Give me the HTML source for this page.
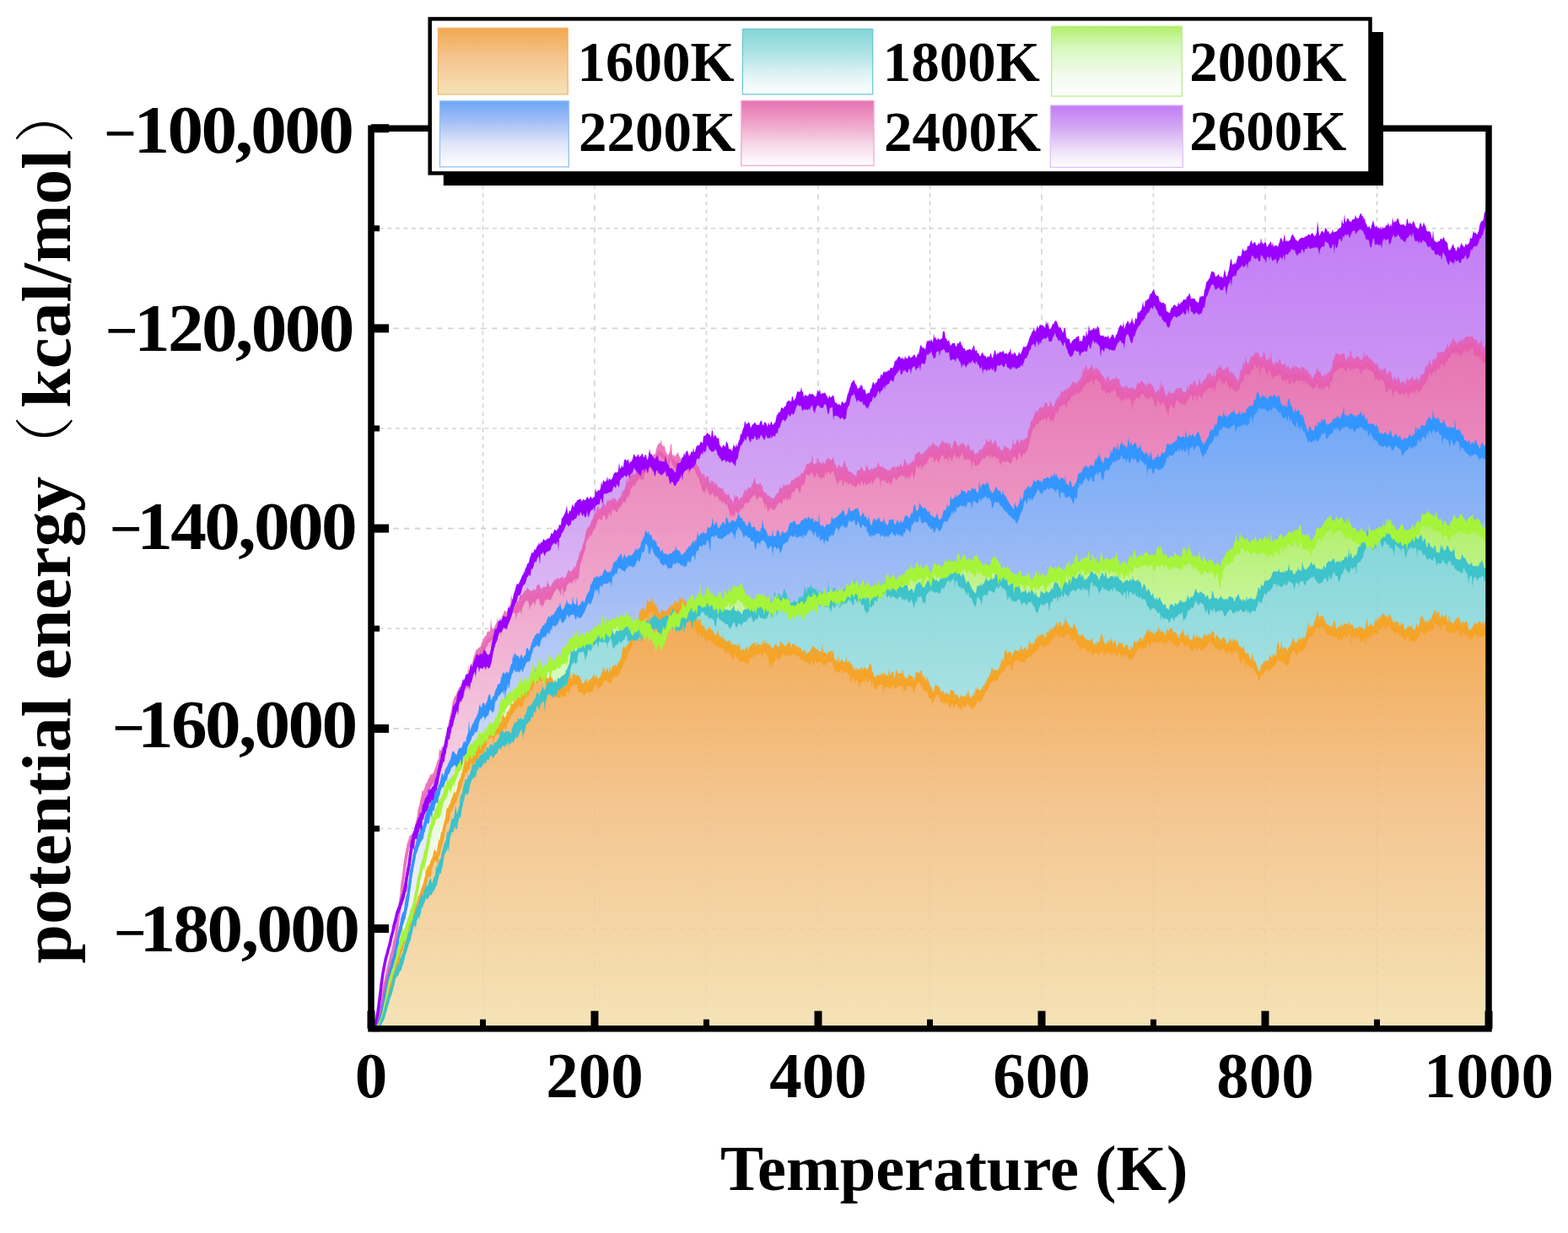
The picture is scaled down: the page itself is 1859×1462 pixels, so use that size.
<!DOCTYPE html><html><head><meta charset="utf-8"><style>html,body{margin:0;padding:0;background:#fff;}svg{display:block;}text{font-family:"Liberation Serif","Noto Serif CJK SC",serif;font-weight:bold;fill:#000;}</style></head><body><svg width="1859" height="1462" viewBox="0 0 1859 1462"><rect width="1859" height="1462" fill="#fff"/><defs><linearGradient id="g_purple" gradientUnits="userSpaceOnUse" x1="0" y1="257.0" x2="0" y2="1219.7"><stop offset="0.00" stop-color="#c27cf5"/><stop offset="0.35" stop-color="#d2a6f3"/><stop offset="0.75" stop-color="#f0e4f8"/><stop offset="1.00" stop-color="#ffffff"/></linearGradient><linearGradient id="g_pink" gradientUnits="userSpaceOnUse" x1="0" y1="405.0" x2="0" y2="1219.7"><stop offset="0.00" stop-color="#e673b3"/><stop offset="0.30" stop-color="#ee9cc6"/><stop offset="0.70" stop-color="#f6dcea"/><stop offset="1.00" stop-color="#ffffff"/></linearGradient><linearGradient id="g_blue" gradientUnits="userSpaceOnUse" x1="0" y1="477.0" x2="0" y2="1219.7"><stop offset="0.00" stop-color="#6ea6f6"/><stop offset="0.30" stop-color="#a2bdf5"/><stop offset="0.65" stop-color="#dfe6f8"/><stop offset="1.00" stop-color="#ffffff"/></linearGradient><linearGradient id="g_green" gradientUnits="userSpaceOnUse" x1="0" y1="613.0" x2="0" y2="1219.7"><stop offset="0.00" stop-color="#b2ef6a"/><stop offset="0.30" stop-color="#d6f9bd"/><stop offset="0.70" stop-color="#f3faee"/><stop offset="1.00" stop-color="#ffffff"/></linearGradient><linearGradient id="g_cyan" gradientUnits="userSpaceOnUse" x1="0" y1="634.0" x2="0" y2="1219.7"><stop offset="0.00" stop-color="#84d6d9"/><stop offset="0.30" stop-color="#a4e0e2"/><stop offset="0.70" stop-color="#dff3f4"/><stop offset="1.00" stop-color="#ffffff"/></linearGradient><linearGradient id="g_orange" gradientUnits="userSpaceOnUse" x1="0" y1="716.0" x2="0" y2="1219.7"><stop offset="0.00" stop-color="#f2a950"/><stop offset="0.45" stop-color="#f4c48e"/><stop offset="1.00" stop-color="#f5e3b7"/></linearGradient><clipPath id="plotclip"><rect x="440.0" y="152.2" width="1325.0" height="1067.5"/></clipPath></defs><g stroke="#d3d3d3" stroke-width="1.6" fill="none"><line x1="572.5" y1="152.2" x2="572.5" y2="1219.7" stroke-dasharray="5 4.6"/><line x1="705.0" y1="152.2" x2="705.0" y2="1219.7" stroke-dasharray="6.5 6.5"/><line x1="837.5" y1="152.2" x2="837.5" y2="1219.7" stroke-dasharray="5 4.6"/><line x1="970.0" y1="152.2" x2="970.0" y2="1219.7" stroke-dasharray="6.5 6.5"/><line x1="1102.5" y1="152.2" x2="1102.5" y2="1219.7" stroke-dasharray="5 4.6"/><line x1="1235.0" y1="152.2" x2="1235.0" y2="1219.7" stroke-dasharray="6.5 6.5"/><line x1="1367.5" y1="152.2" x2="1367.5" y2="1219.7" stroke-dasharray="5 4.6"/><line x1="1500.0" y1="152.2" x2="1500.0" y2="1219.7" stroke-dasharray="6.5 6.5"/><line x1="1632.5" y1="152.2" x2="1632.5" y2="1219.7" stroke-dasharray="5 4.6"/><line x1="440.0" y1="270.8" x2="1765.0" y2="270.8" stroke-dasharray="5 4.6"/><line x1="440.0" y1="389.4" x2="1765.0" y2="389.4" stroke-dasharray="6.5 6.5"/><line x1="440.0" y1="508.0" x2="1765.0" y2="508.0" stroke-dasharray="5 4.6"/><line x1="440.0" y1="626.6" x2="1765.0" y2="626.6" stroke-dasharray="6.5 6.5"/><line x1="440.0" y1="745.3" x2="1765.0" y2="745.3" stroke-dasharray="5 4.6"/><line x1="440.0" y1="863.9" x2="1765.0" y2="863.9" stroke-dasharray="6.5 6.5"/><line x1="440.0" y1="982.5" x2="1765.0" y2="982.5" stroke-dasharray="5 4.6"/><line x1="440.0" y1="1101.1" x2="1765.0" y2="1101.1" stroke-dasharray="6.5 6.5"/></g><g clip-path="url(#plotclip)"><defs><path id="f_purple" d="M1765.0 1219.7L443.0 1219.7L443 1216.8 445 1214.1 447 1205.3 449 1192.7 451 1176.9 453 1161.1 455 1148.6 457 1138.2 459 1131.0 461 1123.1 463 1115.5 465 1107.5 467 1097.6 469 1090.6 471 1081.5 473 1078.7 475 1071.1 477 1066.3 479 1058.5 481 1049.2 483 1036.1 485 1025.7 487 1010.5 489 997.2 491 992.1 493 987.2 495 983.1 497 979.1 499 972.0 501 964.3 503 959.8 505 955.5 507 951.4 509 946.6 511 942.8 513 939.3 515 934.6 517 930.7 519 920.5 521 912.5 523 902.6 525 896.6 527 892.9 529 880.8 531 871.1 533 868.6 535 855.2 537 851.9 539 844.2 541 838.7 543 831.4 545 827.4 547 821.3 549 813.5 551 810.9 553 807.0 555 807.3 557 801.0 559 796.5 561 794.0 563 789.3 565 784.8 567 784.2 569 785.6 571 785.4 573 781.5 575 781.4 577 782.1 579 784.0 581 782.2 583 773.5 585 765.2 587 757.0 589 753.0 591 745.2 593 743.2 595 742.7 597 736.4 599 737.0 601 738.0 603 730.4 605 725.8 607 720.6 609 712.2 611 705.9 613 701.2 615 699.6 617 696.1 619 690.8 621 685.6 623 682.4 625 677.0 627 673.8 629 669.3 631 666.4 633 660.9 635 659.8 637 654.9 639 650.3 641 649.4 643 650.0 645 646.6 647 647.4 649 647.0 651 644.8 653 642.8 655 640.0 657 634.8 659 636.7 661 634.3 663 631.7 665 629.2 667 624.1 669 620.1 671 614.6 673 614.6 675 615.7 677 614.3 679 609.0 681 606.9 683 606.1 685 600.1 687 599.1 689 600.2 691 600.8 693 601.7 695 602.0 697 599.8 699 601.3 701 597.9 703 597.5 705 596.3 707 592.4 709 588.0 711 588.7 713 585.5 715 579.4 717 578.1 719 578.2 721 577.3 723 576.8 725 574.8 727 571.0 729 570.6 731 567.9 733 565.2 735 562.7 737 559.1 739 559.6 741 556.0 743 555.4 745 553.9 747 556.1 749 554.2 751 549.7 753 548.4 755 550.5 757 548.1 759 549.9 761 547.5 763 548.9 765 547.4 767 552.4 769 547.9 771 546.4 773 547.7 775 552.3 777 552.6 779 551.9 781 553.7 783 554.5 785 554.7 787 553.8 789 550.6 791 557.3 793 561.6 795 564.9 797 562.2 799 566.3 801 568.5 803 558.5 805 557.3 807 556.0 809 551.3 811 549.9 813 549.8 815 548.2 817 547.4 819 544.7 821 544.8 823 543.6 825 540.2 827 537.0 829 536.5 831 531.3 833 532.1 835 526.0 837 523.2 839 521.0 841 523.5 843 525.2 845 525.9 847 525.3 849 526.8 851 529.8 853 533.1 855 537.6 857 538.3 859 537.8 861 540.9 863 540.0 865 540.5 867 539.5 869 541.5 871 539.1 873 535.8 875 532.6 877 526.5 879 522.0 881 517.3 883 511.9 885 513.0 887 509.3 889 511.5 891 511.7 893 510.1 895 508.0 897 512.2 899 511.0 901 508.1 903 507.0 905 512.7 907 511.9 909 509.4 911 511.2 913 512.7 915 509.9 917 509.6 919 507.6 921 502.3 923 499.5 925 498.1 927 492.8 929 490.9 931 489.8 933 487.8 935 484.7 937 485.3 939 480.2 941 481.7 943 479.0 945 473.7 947 473.2 949 472.9 951 476.1 953 477.8 955 476.3 957 476.5 959 475.0 961 475.7 963 472.9 965 476.7 967 479.1 969 474.2 971 472.4 973 475.2 975 476.0 977 472.9 979 473.9 981 476.9 983 477.1 985 478.0 987 476.7 989 482.3 991 484.6 993 486.4 995 486.6 997 488.2 999 487.6 1001 488.8 1003 486.4 1005 476.9 1007 470.9 1009 462.6 1011 459.3 1013 459.1 1015 463.8 1017 467.6 1019 466.3 1021 467.9 1023 470.2 1025 468.7 1027 474.7 1029 475.8 1031 473.0 1033 469.8 1035 460.1 1037 464.0 1039 461.4 1041 457.4 1043 457.8 1045 453.1 1047 448.4 1049 452.3 1051 450.2 1053 446.3 1055 445.7 1057 445.1 1059 444.4 1061 435.9 1063 435.2 1065 433.2 1067 431.0 1069 432.3 1071 432.1 1073 431.5 1075 431.3 1077 432.8 1079 431.4 1081 430.5 1083 427.9 1085 427.6 1087 428.7 1089 429.6 1091 421.1 1093 419.0 1095 422.6 1097 421.3 1099 411.2 1101 413.0 1103 411.9 1105 410.6 1107 410.9 1109 410.6 1111 410.4 1113 410.0 1115 409.3 1117 408.7 1119 406.4 1121 409.1 1123 411.8 1125 410.2 1127 416.5 1129 414.4 1131 413.9 1133 417.3 1135 418.3 1137 418.7 1139 421.4 1141 420.4 1143 424.3 1145 426.3 1147 422.6 1149 421.8 1151 421.9 1153 420.9 1155 420.2 1157 422.0 1159 425.8 1161 427.5 1163 428.6 1165 426.8 1167 429.6 1169 431.1 1171 430.3 1173 431.9 1175 429.3 1177 433.0 1179 428.9 1181 428.1 1183 424.9 1185 425.6 1187 424.9 1189 426.3 1191 426.3 1193 424.8 1195 427.5 1197 427.4 1199 427.7 1201 428.0 1203 426.0 1205 428.9 1207 427.6 1209 425.0 1211 423.8 1213 421.5 1215 419.0 1217 417.7 1219 412.0 1221 405.6 1223 401.2 1225 400.6 1227 401.5 1229 396.4 1231 399.8 1233 394.4 1235 395.6 1237 393.8 1239 396.2 1241 392.9 1243 395.0 1245 398.3 1247 397.0 1249 392.7 1251 388.1 1253 388.8 1255 394.1 1257 395.6 1259 399.3 1261 401.9 1263 399.8 1265 407.6 1267 411.0 1269 414.0 1271 413.3 1273 411.2 1275 408.3 1277 409.7 1279 409.0 1281 410.5 1283 411.6 1285 407.5 1287 408.2 1289 405.6 1291 401.5 1293 402.4 1295 399.5 1297 396.3 1299 396.9 1301 398.1 1303 401.3 1305 405.8 1307 405.8 1309 407.3 1311 406.6 1313 406.7 1315 409.9 1317 408.0 1319 408.0 1321 407.1 1323 403.4 1325 399.8 1327 397.3 1329 395.6 1331 398.0 1333 398.6 1335 390.7 1337 388.7 1339 393.1 1341 392.2 1343 391.9 1345 391.8 1347 385.6 1349 379.4 1351 377.1 1353 375.5 1355 373.3 1357 370.4 1359 366.0 1361 362.9 1363 356.5 1365 355.3 1367 355.3 1369 354.3 1371 357.6 1373 362.1 1375 368.0 1377 368.8 1379 368.4 1381 372.8 1383 375.5 1385 376.7 1387 376.8 1389 371.0 1391 369.2 1393 368.1 1395 370.3 1397 367.8 1399 366.9 1401 365.7 1403 362.2 1405 362.3 1407 360.2 1409 359.3 1411 356.1 1413 361.5 1415 364.9 1417 365.8 1419 364.5 1421 365.7 1423 363.9 1425 358.6 1427 358.0 1429 350.5 1431 341.9 1433 337.7 1435 334.9 1437 329.7 1439 330.9 1441 336.3 1443 336.0 1445 334.2 1447 336.8 1449 337.5 1451 334.5 1453 334.6 1455 334.6 1457 326.9 1459 322.2 1461 321.9 1463 320.9 1465 321.4 1467 312.8 1469 312.8 1471 311.1 1473 305.5 1475 308.9 1477 307.3 1479 300.8 1481 300.4 1483 297.2 1485 296.6 1487 296.0 1489 296.7 1491 297.5 1493 297.4 1495 293.9 1497 295.8 1499 297.9 1501 298.7 1503 298.3 1505 299.6 1507 297.0 1509 299.0 1511 300.1 1513 300.4 1515 300.2 1517 297.1 1519 294.7 1521 293.8 1523 292.3 1525 294.7 1527 293.6 1529 291.2 1531 287.7 1533 288.2 1535 288.0 1537 292.6 1539 292.4 1541 289.9 1543 289.6 1545 290.8 1547 288.8 1549 287.0 1551 285.6 1553 287.3 1555 285.7 1557 285.5 1559 287.9 1561 284.7 1563 287.2 1565 287.0 1567 283.6 1569 285.2 1571 278.6 1573 279.6 1575 282.6 1577 287.1 1579 287.3 1581 283.3 1583 280.8 1585 280.5 1587 277.6 1589 276.4 1591 275.7 1593 271.5 1595 268.4 1597 270.1 1599 270.1 1601 270.1 1603 268.2 1605 267.7 1607 266.6 1609 265.4 1611 264.6 1613 261.9 1615 265.0 1617 268.7 1619 272.8 1621 274.9 1623 278.1 1625 283.0 1627 279.3 1629 275.9 1631 280.3 1633 281.1 1635 280.3 1637 278.0 1639 277.2 1641 276.8 1643 275.4 1645 274.6 1647 278.5 1649 276.5 1651 274.2 1653 271.3 1655 270.9 1657 270.5 1659 272.7 1661 274.8 1663 275.1 1665 274.6 1667 274.6 1669 273.7 1671 271.0 1673 272.3 1675 269.2 1677 275.9 1679 277.2 1681 277.6 1683 278.2 1685 277.2 1687 275.4 1689 276.4 1691 278.9 1693 282.4 1695 280.9 1697 286.3 1699 289.7 1701 292.4 1703 294.9 1705 294.3 1707 294.2 1709 295.0 1711 292.3 1713 294.8 1715 296.8 1717 301.2 1719 302.6 1721 303.7 1723 300.7 1725 300.1 1727 303.4 1729 301.4 1731 301.7 1733 299.0 1735 298.3 1737 296.8 1739 299.1 1741 296.4 1743 289.4 1745 291.1 1747 285.0 1749 284.2 1751 284.8 1753 280.6 1755 274.8 1757 271.7 1759 266.8 1761 259.7 1762 254.7Z"/><path id="f_pink" d="M1765.0 1219.7L443.0 1219.7L443 1217.1 445 1214.0 447 1209.9 449 1202.6 451 1193.6 453 1182.5 455 1172.7 457 1164.0 459 1154.6 461 1144.9 463 1138.1 465 1130.2 467 1120.9 469 1113.2 471 1098.2 473 1083.6 475 1066.4 477 1047.1 479 1034.3 481 1018.0 483 1008.1 485 998.6 487 996.8 489 993.8 491 991.1 493 982.8 495 973.7 497 962.0 499 955.3 501 944.6 503 942.3 505 939.1 507 933.4 509 929.0 511 925.0 513 923.3 515 920.5 517 915.3 519 908.6 521 901.5 523 899.5 525 894.5 527 888.2 529 877.3 531 868.9 533 860.7 535 853.0 537 843.2 539 833.8 541 830.7 543 825.0 545 820.4 547 816.8 549 815.7 551 814.5 553 810.0 555 808.2 557 802.1 559 796.8 561 789.0 563 782.9 565 778.5 567 777.0 569 773.1 571 768.5 573 764.8 575 760.6 577 758.4 579 755.9 581 756.7 583 753.5 585 752.4 587 748.8 589 744.5 591 744.4 593 739.1 595 737.8 597 734.6 599 731.8 601 730.9 603 728.2 605 724.1 607 719.4 609 721.1 611 720.2 613 720.9 615 718.3 617 713.6 619 714.1 621 710.6 623 707.7 625 704.2 627 706.4 629 710.2 631 709.7 633 706.0 635 706.9 637 702.4 639 702.7 641 705.3 643 704.9 645 705.7 647 703.8 649 701.7 651 702.1 653 701.6 655 698.5 657 696.4 659 693.5 661 691.6 663 693.9 665 692.7 667 690.7 669 691.2 671 692.1 673 686.6 675 682.4 677 683.8 679 680.4 681 677.6 683 677.5 685 673.3 687 665.6 689 660.3 691 652.6 693 646.6 695 637.0 697 630.8 699 629.0 701 623.5 703 620.2 705 614.1 707 613.1 709 610.4 711 608.6 713 606.7 715 602.6 717 604.8 719 608.3 721 604.8 723 601.1 725 600.3 727 598.3 729 598.1 731 600.3 733 597.7 735 594.6 737 593.7 739 589.0 741 584.5 743 579.5 745 576.7 747 570.1 749 570.5 751 568.1 753 568.6 755 563.9 757 562.7 759 559.8 761 558.7 763 557.7 765 553.6 767 552.3 769 552.0 771 548.0 773 549.3 775 546.2 777 545.4 779 537.3 781 534.7 783 534.9 785 536.5 787 538.1 789 540.9 791 546.2 793 544.7 795 537.6 797 544.2 799 544.2 801 547.9 803 546.6 805 549.1 807 549.3 809 551.5 811 549.7 813 548.6 815 550.2 817 548.6 819 546.8 821 545.7 823 548.8 825 553.7 827 559.6 829 561.4 831 568.0 833 573.6 835 572.2 837 573.2 839 572.6 841 577.4 843 579.2 845 577.0 847 577.8 849 581.0 851 583.1 853 583.9 855 586.2 857 587.5 859 589.2 861 591.3 863 596.1 865 596.5 867 598.7 869 602.4 871 601.6 873 598.7 875 599.5 877 600.6 879 597.5 881 596.3 883 591.1 885 590.0 887 587.9 889 585.4 891 582.9 893 581.7 895 579.3 897 583.4 899 582.4 901 582.8 903 583.2 905 589.5 907 590.4 909 593.5 911 596.7 913 595.7 915 597.8 917 596.2 919 595.1 921 593.3 923 589.9 925 586.8 927 589.6 929 584.5 931 584.6 933 583.6 935 581.6 937 583.0 939 577.2 941 576.4 943 573.9 945 573.0 947 571.2 949 573.1 951 568.1 953 564.2 955 560.8 957 556.5 959 557.3 961 554.0 963 554.4 965 557.6 967 556.4 969 553.1 971 555.4 973 557.4 975 557.1 977 556.1 979 552.6 981 550.0 983 551.5 985 551.7 987 553.9 989 556.5 991 558.3 993 565.3 995 561.2 997 561.5 999 560.5 1001 557.5 1003 562.1 1005 564.7 1007 566.9 1009 566.9 1011 569.0 1013 568.8 1015 571.0 1017 565.2 1019 566.1 1021 561.8 1023 565.3 1025 564.4 1027 562.0 1029 562.4 1031 565.0 1033 560.6 1035 561.7 1037 562.9 1039 559.8 1041 558.0 1043 558.8 1045 562.9 1047 564.6 1049 562.2 1051 563.9 1053 563.8 1055 564.4 1057 565.0 1059 560.3 1061 560.9 1063 561.3 1065 559.2 1067 558.4 1069 558.7 1071 559.1 1073 554.7 1075 557.2 1077 557.9 1079 554.7 1081 553.2 1083 555.8 1085 549.7 1087 545.3 1089 546.0 1091 543.9 1093 545.4 1095 547.0 1097 542.8 1099 543.6 1101 537.8 1103 533.8 1105 532.8 1107 538.4 1109 537.3 1111 537.5 1113 539.8 1115 533.3 1117 530.9 1119 535.4 1121 535.2 1123 533.5 1125 532.5 1127 535.5 1129 537.1 1131 531.6 1133 531.8 1135 534.8 1137 535.3 1139 532.5 1141 530.3 1143 535.1 1145 537.5 1147 536.9 1149 538.1 1151 540.4 1153 539.8 1155 544.1 1157 544.2 1159 543.5 1161 539.1 1163 541.2 1165 537.8 1167 536.4 1169 534.2 1171 530.8 1173 532.3 1175 531.3 1177 534.5 1179 532.9 1181 534.6 1183 537.8 1185 538.5 1187 539.1 1189 541.0 1191 539.1 1193 536.9 1195 538.6 1197 543.3 1199 542.4 1201 535.6 1203 532.6 1205 534.7 1207 531.8 1209 532.1 1211 532.3 1213 531.0 1215 530.0 1217 525.7 1219 520.9 1221 517.1 1223 508.9 1225 502.0 1227 499.1 1229 493.1 1231 494.6 1233 491.7 1235 490.6 1237 492.0 1239 487.8 1241 487.1 1243 487.9 1245 486.0 1247 486.4 1249 489.5 1251 485.0 1253 483.0 1255 480.2 1257 474.8 1259 474.1 1261 472.3 1263 471.4 1265 469.2 1267 468.1 1269 465.5 1271 464.0 1273 461.4 1275 459.9 1277 461.7 1279 457.5 1281 456.3 1283 452.4 1285 452.2 1287 448.2 1289 446.1 1291 444.8 1293 441.6 1295 441.1 1297 446.5 1299 444.3 1301 443.8 1303 445.0 1305 448.6 1307 452.7 1309 454.8 1311 459.4 1313 455.8 1315 458.0 1317 459.8 1319 456.3 1321 455.8 1323 457.8 1325 459.5 1327 460.4 1329 465.6 1331 464.4 1333 467.7 1335 465.8 1337 465.3 1339 465.6 1341 468.3 1343 467.4 1345 467.0 1347 465.0 1349 462.3 1351 463.5 1353 461.7 1355 461.5 1357 463.6 1359 466.3 1361 461.4 1363 461.6 1365 464.4 1367 465.2 1369 469.3 1371 471.1 1373 469.9 1375 471.9 1377 469.9 1379 469.5 1381 472.7 1383 475.2 1385 475.6 1387 475.2 1389 473.0 1391 473.3 1393 469.5 1395 468.5 1397 470.2 1399 469.9 1401 471.7 1403 472.8 1405 472.1 1407 469.4 1409 467.6 1411 462.9 1413 463.0 1415 462.2 1417 462.1 1419 464.9 1421 460.4 1423 462.2 1425 461.9 1427 457.5 1429 455.5 1431 454.4 1433 451.4 1435 451.7 1437 452.9 1439 452.1 1441 451.2 1443 446.1 1445 443.3 1447 442.6 1449 444.1 1451 445.4 1453 445.3 1455 446.6 1457 446.3 1459 449.6 1461 450.7 1463 451.6 1465 457.3 1467 457.3 1469 455.2 1471 449.2 1473 445.8 1475 440.0 1477 437.6 1479 438.0 1481 436.4 1483 430.3 1485 430.7 1487 426.2 1489 426.7 1491 427.4 1493 428.7 1495 429.2 1497 429.3 1499 429.5 1501 433.9 1503 432.2 1505 433.1 1507 434.1 1509 437.4 1511 438.4 1513 439.1 1515 436.4 1517 434.1 1519 440.7 1521 444.2 1523 442.8 1525 443.1 1527 441.5 1529 445.7 1531 444.0 1533 443.8 1535 443.0 1537 444.0 1539 441.7 1541 445.0 1543 444.4 1545 445.2 1547 443.3 1549 446.6 1551 447.8 1553 449.3 1555 453.0 1557 453.2 1559 449.0 1561 448.0 1563 451.2 1565 448.2 1567 451.5 1569 455.3 1571 452.9 1573 450.8 1575 451.5 1577 447.3 1579 444.3 1581 436.1 1583 432.0 1585 428.9 1587 428.3 1589 429.8 1591 429.6 1593 430.5 1595 430.6 1597 432.3 1599 428.7 1601 429.6 1603 430.0 1605 432.3 1607 432.3 1609 428.9 1611 429.6 1613 433.3 1615 434.0 1617 433.7 1619 430.3 1621 429.1 1623 431.8 1625 432.0 1627 433.3 1629 436.6 1631 441.2 1633 440.9 1635 443.3 1637 443.9 1639 445.2 1641 448.4 1643 452.7 1645 451.4 1647 452.5 1649 452.1 1651 456.3 1653 455.5 1655 456.9 1657 457.0 1659 459.4 1661 460.5 1663 458.6 1665 461.3 1667 458.3 1669 458.2 1671 455.9 1673 456.9 1675 454.8 1677 456.5 1679 455.6 1681 457.5 1683 456.5 1685 453.7 1687 450.6 1689 447.9 1691 442.8 1693 437.8 1695 438.6 1697 439.8 1699 433.6 1701 432.3 1703 431.4 1705 429.1 1707 428.8 1709 424.6 1711 424.0 1713 422.5 1715 420.0 1717 417.8 1719 415.2 1721 413.0 1723 410.2 1725 412.4 1727 412.8 1729 411.8 1731 414.4 1733 411.4 1735 408.7 1737 408.6 1739 407.5 1741 407.6 1743 407.4 1745 406.2 1747 408.5 1749 414.5 1751 414.2 1753 412.7 1755 415.1 1757 417.0 1759 418.8 1761 422.5 1762 423.9Z"/><path id="f_blue" d="M1765.0 1219.7L443.0 1219.7L443 1217.3 445 1215.7 447 1212.0 449 1207.5 451 1201.3 453 1192.5 455 1183.3 457 1171.8 459 1161.9 461 1155.9 463 1148.9 465 1142.4 467 1136.3 469 1126.0 471 1119.7 473 1108.0 475 1099.1 477 1090.8 479 1088.6 481 1078.1 483 1067.2 485 1052.4 487 1037.4 489 1026.3 491 1015.0 493 1008.6 495 1003.3 497 994.6 499 988.8 501 986.0 503 980.5 505 975.2 507 969.2 509 962.2 511 958.1 513 950.3 515 948.5 517 945.3 519 940.8 521 935.9 523 928.6 525 926.9 527 922.4 529 918.4 531 912.8 533 907.9 535 903.6 537 901.9 539 901.1 541 903.9 543 899.8 545 896.7 547 892.3 549 890.6 551 888.0 553 883.7 555 877.8 557 874.6 559 868.9 561 866.3 563 861.3 565 857.0 567 852.1 569 844.5 571 845.7 573 841.9 575 845.8 577 839.2 579 836.4 581 834.6 583 837.0 585 832.3 587 826.8 589 822.5 591 818.0 593 815.5 595 811.2 597 810.0 599 808.7 601 805.1 603 804.4 605 798.0 607 794.0 609 788.3 611 790.1 613 788.2 615 788.8 617 789.0 619 788.1 621 786.9 623 782.7 625 779.1 627 778.4 629 774.1 631 767.1 633 762.6 635 759.8 637 758.2 639 759.2 641 754.9 643 748.3 645 748.4 647 747.5 649 741.0 651 741.3 653 736.3 655 735.2 657 735.0 659 732.1 661 726.7 663 724.9 665 726.4 667 730.3 669 729.2 671 726.4 673 722.1 675 724.6 677 724.4 679 721.1 681 723.3 683 724.4 685 724.1 687 724.2 689 722.8 691 720.2 693 719.3 695 715.1 697 710.7 699 707.4 701 705.8 703 703.3 705 693.4 707 693.0 709 690.8 711 689.2 713 689.3 715 686.0 717 683.7 719 684.4 721 684.7 723 686.2 725 682.1 727 675.4 729 673.8 731 673.1 733 667.1 735 668.8 737 668.7 739 670.3 741 668.7 743 666.1 745 664.1 747 663.9 749 665.0 751 665.7 753 662.9 755 658.7 757 656.7 759 655.3 761 647.2 763 643.1 765 637.1 767 638.8 769 642.8 771 640.7 773 644.1 775 649.6 777 652.9 779 654.1 781 655.1 783 660.5 785 660.5 787 664.4 789 663.1 791 664.0 793 664.7 795 663.2 797 665.2 799 660.6 801 660.6 803 659.3 805 659.7 807 663.6 809 665.3 811 664.0 813 662.1 815 659.3 817 655.4 819 654.3 821 650.6 823 651.7 825 648.2 827 646.0 829 643.0 831 640.9 833 640.8 835 640.3 837 639.6 839 634.0 841 634.5 843 630.6 845 628.7 847 630.9 849 627.8 851 630.6 853 631.8 855 630.7 857 630.4 859 628.4 861 626.8 863 626.6 865 626.5 867 623.3 869 625.4 871 627.4 873 621.9 875 619.2 877 622.9 879 621.3 881 626.7 883 627.5 885 629.3 887 629.7 889 628.3 891 634.2 893 633.2 895 636.6 897 639.5 899 637.0 901 639.2 903 635.0 905 632.7 907 636.9 909 640.6 911 642.1 913 641.3 915 641.9 917 641.6 919 640.9 921 642.3 923 643.4 925 645.3 927 641.1 929 638.1 931 637.2 933 636.9 935 631.3 937 626.7 939 628.4 941 626.8 943 627.2 945 630.0 947 628.5 949 627.9 951 625.6 953 625.8 955 628.0 957 624.8 959 620.2 961 623.0 963 622.0 965 626.9 967 623.1 969 625.0 971 627.0 973 632.5 975 632.0 977 632.8 979 630.6 981 631.4 983 629.1 985 628.1 987 625.2 989 624.4 991 620.8 993 618.3 995 618.1 997 617.3 999 613.6 1001 616.9 1003 617.1 1005 615.6 1007 610.0 1009 612.3 1011 611.1 1013 609.4 1015 612.9 1017 610.7 1019 616.4 1021 618.5 1023 614.0 1025 619.0 1027 618.7 1029 623.7 1031 625.1 1033 629.2 1035 628.6 1037 625.2 1039 624.6 1041 625.8 1043 626.6 1045 628.7 1047 627.2 1049 625.0 1051 628.7 1053 628.9 1055 625.6 1057 622.8 1059 626.7 1061 628.0 1063 625.0 1065 624.7 1067 626.7 1069 629.4 1071 625.1 1073 618.8 1075 620.8 1077 621.8 1079 619.8 1081 614.5 1083 613.7 1085 609.2 1087 611.7 1089 609.9 1091 606.6 1093 609.5 1095 611.0 1097 612.0 1099 611.8 1101 616.6 1103 617.5 1105 617.7 1107 620.0 1109 620.6 1111 618.6 1113 622.8 1115 621.8 1117 619.4 1119 613.1 1121 612.0 1123 609.2 1125 606.8 1127 603.0 1129 599.6 1131 598.7 1133 598.3 1135 595.1 1137 594.6 1139 592.7 1141 592.6 1143 591.2 1145 593.7 1147 589.4 1149 587.7 1151 588.0 1153 585.1 1155 588.3 1157 589.9 1159 590.1 1161 584.3 1163 586.4 1165 585.0 1167 582.4 1169 580.8 1171 579.0 1173 584.2 1175 587.8 1177 591.1 1179 587.7 1181 588.7 1183 589.5 1185 592.0 1187 593.7 1189 595.5 1191 596.2 1193 598.6 1195 600.7 1197 604.4 1199 607.3 1201 609.2 1203 609.7 1205 609.2 1207 607.4 1209 602.8 1211 600.2 1213 595.2 1215 587.6 1217 587.5 1219 584.6 1221 586.0 1223 583.9 1225 581.0 1227 576.5 1229 576.9 1231 574.4 1233 577.9 1235 579.0 1237 576.8 1239 575.2 1241 573.2 1243 571.6 1245 571.7 1247 571.6 1249 572.8 1251 572.1 1253 571.7 1255 573.7 1257 575.6 1259 576.2 1261 575.3 1263 579.7 1265 580.5 1267 583.2 1269 582.2 1271 585.4 1273 585.0 1275 581.8 1277 577.4 1279 567.9 1281 567.6 1283 564.3 1285 559.4 1287 557.0 1289 557.9 1291 561.3 1293 558.9 1295 559.2 1297 557.6 1299 555.7 1301 551.3 1303 549.5 1305 552.3 1307 554.0 1309 554.7 1311 549.5 1313 550.0 1315 548.1 1317 545.0 1319 540.5 1321 541.2 1323 539.7 1325 539.6 1327 539.3 1329 534.7 1331 534.5 1333 535.8 1335 536.4 1337 534.5 1339 536.0 1341 533.6 1343 538.8 1345 538.0 1347 538.1 1349 539.4 1351 539.3 1353 538.9 1355 542.2 1357 544.9 1359 543.1 1361 546.2 1363 547.8 1365 547.4 1367 552.0 1369 550.3 1371 550.8 1373 547.9 1375 547.7 1377 546.2 1379 545.8 1381 544.0 1383 537.3 1385 536.5 1387 532.2 1389 535.0 1391 533.0 1393 529.7 1395 529.2 1397 525.6 1399 526.1 1401 525.9 1403 523.5 1405 525.2 1407 523.3 1409 524.5 1411 522.1 1413 523.9 1415 522.1 1417 524.1 1419 520.4 1421 520.7 1423 523.9 1425 531.4 1427 535.5 1429 532.7 1431 525.7 1433 523.2 1435 520.2 1437 519.2 1439 513.7 1441 510.5 1443 509.1 1445 503.5 1447 499.3 1449 500.9 1451 498.2 1453 499.1 1455 501.6 1457 499.7 1459 496.6 1461 496.2 1463 494.5 1465 500.7 1467 498.8 1469 498.3 1471 497.9 1473 496.1 1475 498.0 1477 496.5 1479 494.7 1481 492.1 1483 487.7 1485 488.1 1487 483.7 1489 481.5 1491 479.3 1493 476.5 1495 479.6 1497 479.6 1499 477.7 1501 478.5 1503 479.9 1505 477.6 1507 475.4 1509 476.5 1511 477.8 1513 478.9 1515 481.4 1517 480.4 1519 485.5 1521 488.1 1523 489.2 1525 487.5 1527 485.8 1529 484.3 1531 491.6 1533 493.1 1535 494.6 1537 495.3 1539 491.8 1541 496.2 1543 497.8 1545 500.7 1547 507.6 1549 513.6 1551 518.7 1553 516.7 1555 520.0 1557 516.8 1559 514.8 1561 515.8 1563 513.5 1565 513.1 1567 507.0 1569 506.0 1571 504.4 1573 509.4 1575 510.0 1577 507.2 1579 507.0 1581 503.3 1583 501.9 1585 500.5 1587 500.5 1589 501.7 1591 501.1 1593 500.4 1595 498.7 1597 500.6 1599 502.2 1601 500.4 1603 498.1 1605 501.7 1607 502.0 1609 500.5 1611 499.8 1613 497.7 1615 501.4 1617 498.3 1619 503.5 1621 501.6 1623 508.0 1625 507.7 1627 509.6 1629 512.8 1631 516.2 1633 517.4 1635 519.2 1637 522.0 1639 522.6 1641 520.4 1643 519.8 1645 522.6 1647 522.1 1649 521.5 1651 524.4 1653 525.0 1655 522.4 1657 524.2 1659 525.6 1661 527.0 1663 530.1 1665 527.1 1667 524.5 1669 524.9 1671 523.0 1673 523.7 1675 522.8 1677 523.2 1679 519.7 1681 515.0 1683 517.2 1685 513.9 1687 512.2 1689 512.8 1691 507.3 1693 505.4 1695 501.1 1697 504.7 1699 502.2 1701 503.4 1703 502.8 1705 502.0 1707 508.4 1709 508.9 1711 509.7 1713 510.5 1715 514.0 1717 512.9 1719 515.0 1721 513.2 1723 514.1 1725 513.5 1727 516.9 1729 516.8 1731 520.5 1733 524.9 1735 525.7 1737 529.7 1739 531.1 1741 531.4 1743 536.4 1745 533.5 1747 533.4 1749 533.7 1751 531.8 1753 536.2 1755 537.1 1757 535.9 1759 535.4 1761 534.7 1762 534.7Z"/><path id="f_green" d="M1765.0 1219.7L443.0 1219.7L443 1217.4 445 1216.2 447 1214.8 449 1211.1 451 1205.3 453 1198.6 455 1190.9 457 1183.3 459 1172.9 461 1164.9 463 1159.4 465 1151.5 467 1144.2 469 1138.3 471 1133.7 473 1125.3 475 1118.1 477 1111.1 479 1110.1 481 1104.0 483 1099.0 485 1091.1 487 1087.2 489 1081.4 491 1072.6 493 1060.9 495 1051.0 497 1040.5 499 1034.4 501 1024.8 503 1020.1 505 1014.3 507 1003.6 509 990.3 511 984.1 513 976.6 515 969.9 517 963.3 519 959.9 521 959.0 523 954.8 525 949.1 527 942.1 529 938.1 531 932.8 533 929.6 535 926.3 537 925.2 539 923.0 541 917.5 543 911.5 545 909.7 547 904.1 549 898.4 551 891.3 553 893.6 555 893.3 557 888.2 559 888.4 561 887.6 563 889.3 565 884.1 567 877.7 569 877.6 571 876.3 573 875.6 575 870.3 577 873.6 579 867.3 581 865.0 583 866.0 585 863.4 587 858.9 589 858.6 591 853.6 593 844.7 595 838.0 597 834.6 599 835.0 601 832.4 603 829.7 605 828.8 607 824.9 609 823.6 611 821.6 613 819.3 615 817.8 617 814.6 619 816.5 621 812.8 623 813.6 625 812.9 627 812.5 629 806.8 631 801.0 633 802.4 635 802.0 637 798.6 639 795.5 641 795.1 643 796.9 645 795.2 647 792.5 649 793.1 651 790.8 653 791.6 655 789.2 657 789.4 659 784.7 661 784.1 663 784.8 665 782.0 667 777.7 669 778.2 671 776.6 673 772.4 675 765.9 677 762.9 679 763.2 681 757.0 683 760.4 685 760.1 687 763.9 689 762.3 691 758.5 693 761.6 695 756.0 697 756.7 699 756.2 701 754.7 703 753.1 705 751.7 707 752.1 709 748.3 711 749.4 713 747.1 715 745.0 717 743.5 719 744.2 721 747.3 723 747.3 725 740.8 727 740.0 729 738.9 731 737.5 733 740.7 735 739.2 737 738.5 739 740.4 741 737.5 743 737.4 745 735.7 747 736.1 749 741.6 751 742.9 753 742.4 755 741.8 757 742.0 759 744.6 761 746.7 763 746.7 765 746.0 767 746.2 769 749.4 771 746.9 773 752.9 775 754.6 777 757.9 779 756.2 781 758.9 783 761.5 785 757.3 787 755.8 789 751.3 791 745.8 793 740.8 795 738.7 797 735.8 799 733.6 801 736.7 803 734.4 805 734.4 807 730.3 809 724.2 811 725.1 813 725.3 815 722.4 817 717.4 819 714.5 821 716.4 823 719.5 825 714.4 827 711.8 829 710.5 831 712.7 833 714.6 835 713.6 837 710.3 839 707.2 841 710.3 843 711.5 845 713.4 847 712.3 849 712.6 851 715.3 853 712.5 855 712.2 857 716.1 859 711.4 861 711.6 863 711.0 865 709.8 867 708.2 869 705.9 871 707.4 873 706.0 875 705.9 877 703.4 879 703.0 881 707.5 883 710.4 885 711.8 887 715.1 889 714.3 891 714.7 893 718.1 895 717.3 897 713.3 899 713.0 901 712.6 903 713.5 905 713.7 907 713.9 909 716.8 911 714.9 913 717.2 915 720.5 917 718.7 919 717.2 921 716.4 923 717.0 925 717.6 927 716.6 929 716.7 931 719.8 933 718.4 935 723.3 937 724.3 939 724.9 941 724.6 943 724.6 945 723.4 947 722.8 949 720.7 951 722.3 953 723.8 955 719.8 957 718.5 959 715.9 961 714.0 963 716.1 965 713.7 967 713.2 969 713.0 971 709.6 973 711.0 975 710.7 977 708.7 979 710.8 981 708.4 983 710.2 985 704.7 987 707.6 989 704.7 991 706.2 993 708.8 995 707.9 997 705.9 999 707.6 1001 706.5 1003 704.3 1005 700.6 1007 701.7 1009 698.5 1011 698.3 1013 700.0 1015 696.7 1017 699.2 1019 702.3 1021 705.0 1023 702.4 1025 701.6 1027 701.9 1029 699.9 1031 703.7 1033 702.5 1035 701.0 1037 698.7 1039 700.1 1041 699.2 1043 701.5 1045 698.7 1047 695.7 1049 698.4 1051 692.4 1053 692.3 1055 694.0 1057 691.5 1059 691.4 1061 693.9 1063 694.7 1065 689.7 1067 686.7 1069 690.0 1071 689.5 1073 685.2 1075 682.8 1077 682.4 1079 680.2 1081 679.9 1083 678.9 1085 681.3 1087 681.0 1089 680.1 1091 676.9 1093 680.1 1095 681.2 1097 681.0 1099 676.8 1101 681.1 1103 684.7 1105 683.3 1107 675.1 1109 675.3 1111 677.2 1113 676.2 1115 678.1 1117 680.5 1119 678.7 1121 677.8 1123 677.9 1125 675.7 1127 670.8 1129 672.6 1131 671.2 1133 671.1 1135 671.0 1137 671.6 1139 671.7 1141 667.0 1143 666.8 1145 670.2 1147 673.1 1149 670.2 1151 669.5 1153 672.5 1155 672.5 1157 668.8 1159 670.6 1161 671.8 1163 673.0 1165 676.4 1167 676.0 1169 674.5 1171 675.8 1173 676.2 1175 676.2 1177 670.0 1179 669.8 1181 671.6 1183 673.4 1185 675.9 1187 679.7 1189 679.7 1191 680.4 1193 679.1 1195 681.6 1197 681.8 1199 685.6 1201 685.6 1203 688.9 1205 690.6 1207 689.5 1209 686.4 1211 687.5 1213 688.4 1215 689.1 1217 688.3 1219 688.1 1221 692.3 1223 693.3 1225 689.9 1227 691.2 1229 686.2 1231 691.1 1233 688.9 1235 687.0 1237 686.5 1239 691.1 1241 689.2 1243 684.9 1245 684.6 1247 682.3 1249 683.0 1251 683.6 1253 680.5 1255 680.1 1257 684.6 1259 687.1 1261 683.1 1263 679.0 1265 678.1 1267 675.2 1269 679.5 1271 676.3 1273 676.8 1275 674.7 1277 672.5 1279 673.8 1281 672.0 1283 668.7 1285 670.0 1287 669.1 1289 670.8 1291 669.7 1293 671.7 1295 669.9 1297 671.6 1299 671.1 1301 673.5 1303 671.6 1305 669.2 1307 668.1 1309 670.2 1311 666.7 1313 669.1 1315 671.5 1317 671.4 1319 668.2 1321 670.0 1323 671.3 1325 673.1 1327 674.0 1329 673.8 1331 674.9 1333 676.0 1335 676.2 1337 674.5 1339 668.7 1341 668.6 1343 669.0 1345 663.2 1347 667.1 1349 665.8 1351 665.6 1353 664.7 1355 664.2 1357 662.9 1359 662.8 1361 665.2 1363 663.6 1365 664.3 1367 664.8 1369 666.0 1371 664.6 1373 660.3 1375 660.7 1377 659.3 1379 663.8 1381 665.7 1383 664.0 1385 668.3 1387 668.7 1389 665.9 1391 666.4 1393 664.2 1395 664.6 1397 665.0 1399 665.6 1401 667.3 1403 664.3 1405 663.8 1407 662.9 1409 660.9 1411 661.1 1413 663.0 1415 665.1 1417 665.3 1419 666.6 1421 669.1 1423 671.0 1425 670.6 1427 671.3 1429 670.9 1431 673.2 1433 671.7 1435 671.8 1437 673.4 1439 675.4 1441 677.1 1443 675.0 1445 677.0 1447 681.0 1449 673.4 1451 669.1 1453 664.0 1455 662.7 1457 660.3 1459 657.6 1461 656.8 1463 653.4 1465 652.0 1467 647.2 1469 647.7 1471 645.3 1473 642.5 1475 646.1 1477 646.8 1479 646.7 1481 648.3 1483 650.1 1485 646.9 1487 647.6 1489 647.3 1491 650.8 1493 648.2 1495 647.2 1497 648.3 1499 646.6 1501 646.8 1503 646.5 1505 649.7 1507 649.6 1509 649.5 1511 646.6 1513 647.9 1515 644.7 1517 645.5 1519 641.8 1521 644.9 1523 642.0 1525 641.8 1527 637.5 1529 636.6 1531 639.8 1533 640.3 1535 635.6 1537 634.6 1539 635.3 1541 634.1 1543 636.1 1545 639.6 1547 643.1 1549 643.3 1551 646.5 1553 647.8 1555 648.6 1557 646.5 1559 643.3 1561 635.0 1563 632.0 1565 632.7 1567 632.5 1569 631.3 1571 626.6 1573 622.5 1575 622.0 1577 620.4 1579 623.3 1581 624.5 1583 626.2 1585 624.2 1587 622.5 1589 622.0 1591 620.1 1593 625.4 1595 625.8 1597 627.6 1599 627.1 1601 628.3 1603 633.0 1605 633.7 1607 634.8 1609 636.2 1611 635.0 1613 638.1 1615 635.8 1617 635.7 1619 638.5 1621 642.6 1623 639.9 1625 637.8 1627 634.8 1629 636.7 1631 636.7 1633 636.1 1635 634.2 1637 632.0 1639 630.1 1641 629.6 1643 627.3 1645 626.8 1647 626.5 1649 629.1 1651 632.2 1653 631.8 1655 634.9 1657 636.1 1659 634.8 1661 633.3 1663 634.8 1665 634.9 1667 635.5 1669 636.4 1671 635.0 1673 632.8 1675 631.3 1677 632.4 1679 628.5 1681 625.1 1683 625.9 1685 620.5 1687 616.2 1689 617.3 1691 615.8 1693 617.1 1695 616.1 1697 616.9 1699 617.3 1701 620.8 1703 620.0 1705 622.7 1707 622.3 1709 623.0 1711 628.9 1713 629.6 1715 628.5 1717 632.6 1719 630.0 1721 625.0 1723 625.6 1725 624.7 1727 622.2 1729 624.3 1731 618.7 1733 618.7 1735 622.2 1737 623.7 1739 624.9 1741 626.4 1743 623.0 1745 622.1 1747 622.0 1749 624.7 1751 623.7 1753 626.1 1755 630.5 1757 631.4 1759 631.7 1761 635.2 1762 634.5Z"/><path id="f_cyan" d="M1765.0 1219.7L443.0 1219.7L443 1217.6 445 1215.5 447 1214.6 449 1214.2 451 1212.2 453 1209.5 455 1204.3 457 1197.6 459 1190.9 461 1182.8 463 1178.1 465 1169.8 467 1161.7 469 1156.8 471 1153.8 473 1150.8 475 1143.9 477 1139.2 479 1131.2 481 1125.2 483 1119.1 485 1111.5 487 1106.4 489 1098.2 491 1091.5 493 1088.1 495 1083.2 497 1076.2 499 1073.5 501 1069.9 503 1063.3 505 1055.4 507 1059.3 509 1054.4 511 1052.4 513 1052.1 515 1047.7 517 1042.4 519 1035.4 521 1028.1 523 1027.6 525 1013.1 527 1006.3 529 1002.0 531 995.2 533 989.5 535 981.3 537 978.6 539 971.2 541 972.1 543 968.2 545 960.7 547 955.4 549 943.4 551 935.7 553 932.2 555 926.3 557 924.8 559 918.3 561 915.7 563 913.2 565 910.4 567 906.6 569 904.3 571 902.7 573 899.8 575 897.9 577 894.7 579 894.3 581 888.6 583 888.9 585 892.0 587 889.2 589 886.1 591 881.0 593 880.0 595 875.3 597 877.0 599 878.6 601 877.0 603 873.2 605 875.7 607 872.7 609 869.0 611 866.9 613 867.9 615 866.1 617 857.3 619 859.5 621 859.3 623 856.7 625 852.5 627 846.9 629 845.9 631 843.1 633 837.6 635 834.5 637 828.1 639 831.0 641 825.7 643 821.8 645 825.5 647 821.6 649 817.3 651 817.7 653 819.3 655 819.0 657 816.6 659 818.0 661 813.7 663 811.1 665 809.2 667 808.1 669 807.2 671 802.2 673 798.7 675 793.7 677 784.2 679 780.9 681 777.6 683 777.9 685 771.7 687 767.0 689 765.9 691 764.3 693 769.9 695 766.9 697 766.0 699 764.9 701 763.4 703 760.4 705 759.2 707 756.0 709 757.1 711 753.1 713 753.2 715 754.1 717 754.1 719 754.1 721 753.2 723 751.1 725 751.9 727 756.6 729 758.1 731 757.3 733 756.9 735 752.3 737 753.4 739 749.5 741 751.4 743 747.6 745 750.6 747 750.9 749 749.7 751 748.1 753 750.9 755 750.8 757 748.5 759 746.9 761 745.9 763 744.6 765 745.2 767 743.4 769 743.2 771 741.9 773 739.6 775 738.5 777 737.0 779 738.9 781 740.9 783 741.3 785 742.4 787 741.6 789 738.1 791 735.9 793 736.7 795 732.5 797 735.8 799 735.7 801 737.9 803 736.9 805 739.0 807 737.9 809 736.4 811 731.0 813 731.6 815 728.6 817 729.6 819 730.2 821 728.1 823 726.9 825 727.7 827 722.2 829 723.0 831 719.2 833 718.6 835 720.3 837 719.3 839 719.6 841 721.2 843 724.1 845 725.4 847 726.0 849 728.3 851 726.0 853 729.0 855 728.8 857 727.8 859 729.3 861 731.8 863 732.7 865 731.0 867 733.8 869 731.4 871 730.7 873 731.0 875 733.7 877 733.0 879 734.5 881 731.9 883 730.0 885 729.1 887 725.3 889 726.9 891 727.0 893 728.9 895 728.6 897 729.2 899 723.6 901 724.8 903 725.1 905 725.3 907 726.0 909 725.9 911 721.7 913 719.6 915 723.3 917 720.7 919 715.2 921 717.3 923 715.9 925 716.5 927 713.0 929 708.5 931 710.8 933 713.4 935 716.9 937 720.0 939 722.9 941 719.6 943 722.4 945 720.1 947 717.4 949 716.2 951 714.6 953 711.3 955 711.1 957 707.6 959 706.6 961 704.5 963 705.6 965 704.8 967 706.6 969 709.7 971 711.2 973 711.4 975 707.2 977 711.7 979 714.0 981 710.7 983 712.8 985 713.1 987 710.0 989 707.1 991 709.1 993 708.3 995 707.5 997 708.8 999 708.2 1001 707.1 1003 705.2 1005 703.9 1007 703.6 1009 702.5 1011 704.3 1013 703.0 1015 704.6 1017 706.4 1019 707.8 1021 709.5 1023 711.3 1025 710.8 1027 713.8 1029 715.8 1031 708.9 1033 711.9 1035 708.1 1037 704.7 1039 704.8 1041 700.6 1043 702.2 1045 701.8 1047 697.3 1049 697.1 1051 699.1 1053 699.9 1055 700.3 1057 700.1 1059 700.1 1061 702.0 1063 704.3 1065 701.2 1067 697.9 1069 700.8 1071 702.2 1073 704.0 1075 703.8 1077 707.3 1079 706.6 1081 704.2 1083 710.2 1085 703.7 1087 702.2 1089 698.5 1091 700.7 1093 701.6 1095 703.4 1097 701.8 1099 697.7 1101 695.1 1103 693.1 1105 693.6 1107 694.0 1109 694.4 1111 694.7 1113 697.7 1115 696.2 1117 689.8 1119 684.3 1121 684.0 1123 683.3 1125 681.8 1127 679.4 1129 677.7 1131 676.6 1133 678.8 1135 680.3 1137 687.2 1139 690.1 1141 687.3 1143 691.6 1145 696.5 1147 695.8 1149 697.4 1151 700.8 1153 705.4 1155 708.5 1157 708.5 1159 701.4 1161 698.9 1163 702.3 1165 699.9 1167 699.6 1169 696.1 1171 696.7 1173 694.1 1175 695.1 1177 692.5 1179 691.6 1181 686.9 1183 688.3 1185 685.6 1187 688.7 1189 690.6 1191 691.4 1193 693.4 1195 700.2 1197 700.2 1199 700.8 1201 703.1 1203 702.2 1205 704.2 1207 703.7 1209 704.9 1211 709.2 1213 706.6 1215 707.0 1217 710.5 1219 707.5 1221 709.5 1223 707.9 1225 712.0 1227 712.1 1229 714.5 1231 715.0 1233 713.0 1235 711.0 1237 710.8 1239 711.4 1241 708.5 1243 710.8 1245 708.5 1247 704.8 1249 701.6 1251 701.6 1253 700.4 1255 701.1 1257 702.9 1259 698.4 1261 698.3 1263 697.3 1265 697.0 1267 697.7 1269 694.9 1271 693.3 1273 693.3 1275 693.4 1277 693.3 1279 689.5 1281 691.7 1283 689.0 1285 692.6 1287 692.7 1289 692.8 1291 690.5 1293 685.5 1295 683.6 1297 686.8 1299 686.8 1301 689.8 1303 695.4 1305 691.0 1307 687.7 1309 690.7 1311 692.2 1313 693.9 1315 693.3 1317 690.4 1319 691.1 1321 693.0 1323 691.9 1325 689.8 1327 692.8 1329 694.5 1331 697.4 1333 696.3 1335 694.8 1337 693.9 1339 694.5 1341 694.0 1343 698.1 1345 697.8 1347 698.7 1349 696.4 1351 697.0 1353 701.4 1355 701.4 1357 703.9 1359 707.4 1361 708.3 1363 711.6 1365 712.5 1367 714.1 1369 715.2 1371 717.7 1373 717.0 1375 716.7 1377 720.3 1379 724.8 1381 727.0 1383 728.0 1385 728.6 1387 727.5 1389 727.6 1391 726.1 1393 722.9 1395 722.9 1397 720.8 1399 719.1 1401 719.7 1403 721.5 1405 722.8 1407 718.3 1409 716.6 1411 714.8 1413 714.5 1415 713.2 1417 707.7 1419 708.5 1421 710.0 1423 707.5 1425 709.8 1427 711.6 1429 716.3 1431 714.0 1433 717.1 1435 714.9 1437 715.9 1439 714.3 1441 717.5 1443 715.8 1445 715.2 1447 714.2 1449 715.7 1451 717.2 1453 720.2 1455 719.3 1457 715.5 1459 716.3 1461 717.1 1463 720.0 1465 717.3 1467 719.0 1469 718.5 1471 716.2 1473 719.4 1475 718.9 1477 718.4 1479 721.5 1481 716.8 1483 718.1 1485 716.8 1487 717.8 1489 715.0 1491 710.4 1493 703.4 1495 702.4 1497 701.9 1499 696.5 1501 695.3 1503 694.4 1505 693.6 1507 690.3 1509 687.8 1511 686.2 1513 686.9 1515 685.8 1517 686.3 1519 688.1 1521 687.2 1523 683.3 1525 684.9 1527 684.2 1529 681.8 1531 683.5 1533 687.0 1535 688.0 1537 683.6 1539 684.1 1541 682.9 1543 683.5 1545 683.0 1547 683.1 1549 681.4 1551 679.1 1553 677.9 1555 674.5 1557 677.0 1559 679.9 1561 682.9 1563 680.8 1565 681.5 1567 680.3 1569 678.8 1571 680.9 1573 677.5 1575 674.7 1577 675.7 1579 675.1 1581 669.9 1583 675.5 1585 675.6 1587 675.6 1589 676.2 1591 670.4 1593 669.6 1595 666.8 1597 666.5 1599 667.9 1601 666.2 1603 668.2 1605 668.3 1607 665.8 1609 661.1 1611 660.8 1613 657.7 1615 652.6 1617 647.3 1619 643.1 1621 640.0 1623 639.3 1625 640.5 1627 642.8 1629 640.6 1631 639.1 1633 634.1 1635 634.0 1637 635.6 1639 638.5 1641 634.6 1643 635.6 1645 640.0 1647 640.8 1649 643.9 1651 645.5 1653 644.5 1655 639.2 1657 641.6 1659 643.6 1661 641.5 1663 641.1 1665 644.5 1667 650.1 1669 645.9 1671 643.9 1673 642.7 1675 645.1 1677 644.4 1679 643.5 1681 644.4 1683 645.0 1685 645.3 1687 650.5 1689 650.0 1691 654.9 1693 654.9 1695 652.5 1697 655.3 1699 657.0 1701 655.7 1703 661.4 1705 660.5 1707 660.9 1709 661.8 1711 656.8 1713 658.8 1715 656.3 1717 658.5 1719 659.2 1721 662.7 1723 661.6 1725 666.6 1727 669.6 1729 670.1 1731 668.8 1733 671.5 1735 667.5 1737 668.8 1739 671.8 1741 675.7 1743 678.1 1745 676.8 1747 680.0 1749 678.1 1751 676.1 1753 678.3 1755 678.5 1757 674.8 1759 678.4 1761 680.6 1762 679.9Z"/><path id="f_orange" d="M1765.0 1219.7L443.0 1219.7L443 1217.6 445 1216.1 447 1213.8 449 1212.4 451 1210.2 453 1205.2 455 1198.7 457 1191.6 459 1183.2 461 1173.4 463 1167.5 465 1160.1 467 1156.3 469 1146.9 471 1139.7 473 1133.9 475 1126.5 477 1121.0 479 1113.5 481 1107.1 483 1100.4 485 1096.1 487 1090.0 489 1085.5 491 1082.2 493 1079.3 495 1073.2 497 1066.8 499 1060.3 501 1054.6 503 1051.1 505 1043.6 507 1035.1 509 1029.0 511 1027.8 513 1021.5 515 1015.2 517 1016.7 519 1012.8 521 1006.9 523 997.1 525 990.5 527 980.0 529 973.1 531 965.7 533 960.3 535 955.2 537 951.2 539 947.7 541 945.7 543 937.7 545 931.9 547 924.3 549 919.9 551 909.1 553 908.4 555 903.0 557 901.6 559 900.6 561 900.8 563 896.6 565 895.3 567 891.1 569 887.5 571 888.5 573 883.3 575 880.2 577 877.3 579 869.5 581 868.7 583 868.6 585 870.0 587 868.1 589 865.2 591 864.4 593 863.0 595 862.4 597 858.4 599 855.6 601 854.8 603 851.4 605 846.3 607 841.3 609 839.8 611 835.4 613 832.1 615 828.8 617 833.2 619 832.6 621 826.9 623 823.0 625 819.3 627 815.0 629 812.7 631 813.3 633 806.4 635 800.4 637 804.3 639 801.0 641 801.5 643 802.6 645 803.0 647 805.9 649 810.7 651 808.2 653 808.3 655 811.1 657 814.6 659 817.8 661 822.2 663 820.9 665 817.9 667 819.8 669 818.5 671 817.2 673 810.7 675 811.2 677 810.9 679 807.9 681 805.2 683 806.6 685 808.0 687 811.6 689 815.7 691 817.1 693 818.6 695 815.1 697 813.1 699 814.6 701 812.1 703 810.6 705 807.8 707 806.4 709 811.0 711 808.2 713 807.8 715 802.2 717 800.8 719 800.6 721 804.0 723 803.7 725 800.4 727 795.2 729 793.2 731 796.0 733 792.6 735 789.1 737 786.3 739 780.7 741 777.0 743 772.7 745 768.7 747 765.3 749 760.3 751 752.7 753 748.2 755 743.0 757 741.5 759 736.3 761 732.2 763 729.3 765 728.3 767 724.0 769 720.7 771 718.9 773 719.5 775 719.3 777 723.2 779 726.7 781 730.8 783 732.1 785 733.5 787 734.5 789 732.3 791 730.3 793 726.9 795 724.8 797 725.1 799 723.1 801 719.9 803 720.0 805 719.6 807 717.5 809 720.1 811 719.4 813 720.0 815 725.8 817 728.6 819 729.7 821 735.0 823 736.3 825 739.5 827 743.3 829 741.8 831 743.8 833 747.8 835 748.5 837 754.9 839 753.6 841 753.7 843 752.0 845 753.2 847 757.9 849 757.5 851 757.4 853 760.6 855 761.6 857 763.3 859 764.4 861 767.1 863 766.0 865 763.8 867 771.3 869 772.0 871 769.3 873 773.6 875 774.0 877 775.7 879 774.3 881 778.3 883 778.7 885 777.6 887 781.4 889 772.4 891 769.3 893 772.7 895 771.6 897 769.2 899 770.5 901 769.3 903 771.1 905 768.8 907 767.7 909 770.7 911 769.1 913 773.0 915 777.7 917 777.7 919 775.1 921 774.4 923 774.5 925 773.6 927 769.9 929 769.8 931 772.5 933 770.2 935 767.4 937 769.9 939 769.7 941 770.8 943 772.6 945 771.6 947 771.4 949 773.5 951 776.9 953 778.0 955 778.3 957 780.4 959 779.8 961 779.5 963 776.4 965 776.2 967 777.2 969 778.0 971 778.6 973 779.2 975 779.2 977 781.7 979 781.0 981 780.5 983 779.7 985 779.9 987 781.8 989 786.6 991 789.9 993 790.6 995 789.8 997 788.8 999 789.6 1001 790.1 1003 790.8 1005 791.0 1007 792.2 1009 794.6 1011 799.0 1013 801.0 1015 797.3 1017 799.6 1019 801.6 1021 801.2 1023 800.6 1025 798.4 1027 797.7 1029 798.0 1031 797.7 1033 801.6 1035 801.7 1037 806.6 1039 807.9 1041 806.1 1043 805.3 1045 807.2 1047 807.6 1049 805.4 1051 806.3 1053 808.6 1055 809.2 1057 806.5 1059 807.2 1061 809.2 1063 807.9 1065 808.6 1067 807.0 1069 806.1 1071 807.4 1073 810.7 1075 809.0 1077 806.7 1079 805.7 1081 807.1 1083 810.8 1085 808.2 1087 803.8 1089 804.0 1091 805.6 1093 805.1 1095 811.2 1097 809.5 1099 813.7 1101 818.0 1103 819.9 1105 821.1 1107 824.9 1109 822.3 1111 818.8 1113 821.0 1115 825.7 1117 827.8 1119 829.0 1121 824.7 1123 826.9 1125 829.0 1127 829.4 1129 828.5 1131 833.6 1133 829.2 1135 831.4 1137 834.8 1139 833.3 1141 829.9 1143 832.5 1145 832.2 1147 829.2 1149 832.2 1151 834.2 1153 832.5 1155 830.1 1157 829.5 1159 824.3 1161 825.7 1163 823.4 1165 819.8 1167 818.0 1169 814.0 1171 810.8 1173 806.3 1175 802.2 1177 800.3 1179 800.6 1181 800.1 1183 800.7 1185 795.2 1187 792.9 1189 790.3 1191 786.0 1193 782.2 1195 780.1 1197 782.9 1199 784.3 1201 779.4 1203 776.7 1205 776.9 1207 776.8 1209 777.1 1211 775.2 1213 777.3 1215 776.4 1217 775.1 1219 773.4 1221 769.3 1223 769.5 1225 768.6 1227 763.8 1229 763.5 1231 763.5 1233 760.3 1235 760.0 1237 760.7 1239 761.2 1241 760.6 1243 756.9 1245 754.9 1247 752.6 1249 749.7 1251 747.3 1253 744.7 1255 748.6 1257 746.7 1259 749.1 1261 747.6 1263 745.9 1265 746.8 1267 745.4 1269 749.4 1271 749.1 1273 747.3 1275 751.1 1277 757.1 1279 757.8 1281 760.6 1283 757.5 1285 762.6 1287 764.1 1289 764.8 1291 765.0 1293 764.7 1295 767.3 1297 769.9 1299 768.5 1301 769.9 1303 769.4 1305 766.2 1307 765.3 1309 770.2 1311 768.5 1313 767.4 1315 767.5 1317 765.7 1319 768.9 1321 768.4 1323 769.5 1325 770.6 1327 768.1 1329 769.9 1331 768.5 1333 771.6 1335 771.4 1337 773.0 1339 776.0 1341 775.1 1343 772.8 1345 770.6 1347 769.5 1349 767.0 1351 761.4 1353 762.7 1355 763.0 1357 760.4 1359 755.7 1361 753.1 1363 753.7 1365 756.1 1367 756.3 1369 756.9 1371 755.9 1373 756.7 1375 754.5 1377 752.9 1379 755.2 1381 758.1 1383 755.7 1385 752.4 1387 754.2 1389 754.6 1391 757.5 1393 757.7 1395 756.6 1397 760.1 1399 758.1 1401 755.7 1403 757.4 1405 759.1 1407 758.3 1409 759.2 1411 763.7 1413 764.0 1415 766.3 1417 762.2 1419 761.2 1421 760.6 1423 761.7 1425 764.0 1427 761.8 1429 761.8 1431 759.5 1433 757.4 1435 755.5 1437 757.9 1439 757.7 1441 763.9 1443 761.6 1445 762.8 1447 763.1 1449 764.0 1451 763.3 1453 763.8 1455 768.2 1457 767.0 1459 765.9 1461 769.4 1463 763.8 1465 765.2 1467 764.6 1469 772.2 1471 773.0 1473 774.2 1475 775.2 1477 781.6 1479 782.4 1481 784.4 1483 787.4 1485 786.3 1487 790.9 1489 792.8 1491 795.4 1493 801.6 1495 794.4 1497 794.9 1499 791.7 1501 788.6 1503 788.7 1505 784.9 1507 787.5 1509 784.7 1511 780.6 1513 782.6 1515 775.8 1517 776.9 1519 774.5 1521 778.9 1523 777.0 1525 780.0 1527 778.5 1529 774.7 1531 769.8 1533 766.1 1535 766.9 1537 768.0 1539 764.4 1541 766.0 1543 763.0 1545 760.1 1547 761.7 1549 756.6 1551 751.4 1553 748.9 1555 749.1 1557 746.6 1559 743.8 1561 737.5 1563 738.4 1565 736.6 1567 737.9 1569 738.0 1571 740.8 1573 745.0 1575 746.0 1577 748.7 1579 749.6 1581 748.5 1583 749.0 1585 749.6 1587 751.9 1589 749.4 1591 752.4 1593 749.9 1595 746.3 1597 748.8 1599 746.3 1601 747.1 1603 747.4 1605 751.6 1607 751.5 1609 750.3 1611 748.5 1613 749.4 1615 750.2 1617 752.3 1619 750.0 1621 747.3 1623 748.1 1625 745.8 1627 746.0 1629 747.0 1631 746.8 1633 745.5 1635 739.2 1637 738.0 1639 733.7 1641 733.4 1643 734.7 1645 737.0 1647 737.3 1649 738.4 1651 741.7 1653 744.1 1655 745.4 1657 743.7 1659 748.7 1661 745.9 1663 749.0 1665 752.3 1667 751.5 1669 749.6 1671 751.4 1673 752.1 1675 753.4 1677 754.9 1679 750.0 1681 750.3 1683 745.9 1685 741.0 1687 740.7 1689 746.0 1691 744.3 1693 742.5 1695 739.0 1697 740.7 1699 738.6 1701 734.0 1703 735.4 1705 735.6 1707 738.4 1709 735.8 1711 735.8 1713 734.7 1715 739.7 1717 743.0 1719 743.5 1721 744.2 1723 745.8 1725 743.8 1727 739.1 1729 740.3 1731 741.3 1733 744.9 1735 744.1 1737 744.4 1739 745.7 1741 751.5 1743 752.3 1745 749.9 1747 747.7 1749 745.4 1751 743.9 1753 744.2 1755 744.5 1757 745.1 1759 745.5 1761 743.4 1762 740.5Z"/><clipPath id="fillclip"><use href="#f_purple"/><use href="#f_pink"/><use href="#f_blue"/><use href="#f_green"/><use href="#f_cyan"/><use href="#f_orange"/></clipPath></defs><use href="#f_purple" fill="url(#g_purple)"/><use href="#f_pink" fill="url(#g_pink)"/><use href="#f_blue" fill="url(#g_blue)"/><use href="#f_green" fill="url(#g_green)"/><use href="#f_cyan" fill="url(#g_cyan)"/><use href="#f_orange" fill="url(#g_orange)"/><g fill="#f7a21f" stroke="#f7a21f" opacity="0.92"><path stroke="none" d="M443 1214.3 444 1213.6 445 1212.5 446 1211.3 447 1210.2 448 1207.4 449 1207.5 450 1206.8 451 1205.2 452 1205.4 453 1202.6 454 1197.6 455 1194.7 456 1192.1 457 1189.2 458 1185.0 459 1180.8 460 1175.2 461 1170.9 462 1169.3 463 1164.9 464 1158.1 465 1154.8 466 1152.7 467 1152.4 468 1146.6 469 1141.5 470 1136.8 471 1135.5 472 1129.2 473 1130.3 474 1126.0 475 1122.6 476 1121.2 477 1115.7 478 1112.4 479 1107.3 480 1105.1 481 1100.5 482 1098.1 483 1093.7 484 1090.1 485 1086.5 486 1082.0 487 1077.0 488 1079.1 489 1080.3 490 1072.3 491 1070.4 492 1073.5 493 1072.9 494 1069.9 495 1064.9 496 1061.2 497 1062.0 498 1059.4 499 1055.7 500 1053.0 501 1049.4 502 1046.6 503 1041.4 504 1039.2 505 1029.4 506 1031.8 507 1026.5 508 1027.6 509 1024.0 510 1024.5 511 1022.7 512 1016.0 513 1016.7 514 1010.3 515 1007.2 516 1007.4 517 1010.4 518 1011.1 519 1002.9 520 996.3 521 996.5 522 993.1 523 986.8 524 986.7 525 984.7 526 980.8 527 974.5 528 970.6 529 960.8 530 957.7 531 958.8 532 955.2 533 953.4 534 952.1 535 947.3 536 945.3 537 943.3 538 940.3 539 938.1 540 941.1 541 939.1 542 934.4 543 928.8 544 925.6 545 923.9 546 923.0 547 916.3 548 916.3 549 914.8 550 907.3 551 897.4 552 898.9 553 902.5 554 897.6 555 896.4 556 896.8 557 888.3 558 892.5 559 893.0 560 894.1 561 893.0 562 888.8 563 888.1 564 886.1 565 887.8 566 886.6 567 884.0 568 881.6 569 878.7 570 878.8 571 879.8 572 882.3 573 877.2 574 868.5 575 875.2 576 873.0 577 872.3 578 865.8 579 863.3 580 862.8 581 855.4 582 861.8 583 862.9 584 862.4 585 862.0 586 864.9 587 863.0 588 860.0 589 855.3 590 856.5 591 857.5 592 856.2 593 855.6 594 856.7 595 849.6 596 848.7 597 845.6 598 851.0 599 850.4 600 848.7 601 843.8 602 843.8 603 843.0 604 841.2 605 839.2 606 833.5 607 834.1 608 834.8 609 834.0 610 825.0 611 825.7 612 823.9 613 822.4 614 814.5 615 818.3 616 823.0 617 822.6 618 820.7 619 824.5 620 821.4 621 819.6 622 806.0 623 816.7 624 814.4 625 812.1 626 811.8 627 807.7 628 809.0 629 807.7 630 807.1 631 806.8 632 799.8 633 799.2 634 795.1 635 793.2 636 792.4 637 796.5 638 793.0 639 794.0 640 793.2 641 796.4 642 797.9 643 797.5 644 793.8 645 795.8 646 794.6 647 797.3 648 803.4 649 804.2 650 804.2 651 803.3 652 797.7 653 802.0 654 803.4 655 804.8 656 806.7 657 808.9 658 809.5 659 810.7 660 814.2 661 816.3 662 814.0 663 813.0 664 810.8 665 809.9 666 811.6 667 811.9 668 809.1 669 813.6 670 814.9 671 812.2 672 807.6 673 796.0 674 803.1 675 804.4 676 795.2 677 805.7 678 804.2 679 798.3 680 800.3 681 798.2 682 801.1 683 801.2 684 800.9 685 799.2 686 801.8 687 801.4 688 804.5 689 805.5 690 809.9 691 809.9 692 810.5 693 808.0 694 805.9 695 803.3 696 810.0 697 808.4 698 805.6 699 807.6 700 804.8 701 805.1 702 803.7 703 801.1 704 797.5 705 802.8 706 802.3 707 800.0 708 804.4 709 804.6 710 803.7 711 802.7 712 802.4 713 797.8 714 796.9 715 792.1 716 790.8 717 795.2 718 795.9 719 795.0 720 790.5 721 795.2 722 798.1 723 788.5 724 795.6 725 794.4 726 789.7 727 789.4 728 789.1 729 788.1 730 788.5 731 790.9 732 786.8 733 785.5 734 785.6 735 782.0 736 781.6 737 777.6 738 768.9 739 768.1 740 764.9 741 770.1 742 766.6 743 767.1 744 763.6 745 763.3 746 761.4 747 752.3 748 758.2 749 750.0 750 746.1 751 743.0 752 740.3 753 738.5 754 739.1 755 738.0 756 737.6 757 736.5 758 723.7 759 725.5 760 721.1 761 721.6 762 722.8 763 718.8 764 724.9 765 722.7 766 719.7 767 711.9 768 709.7 769 714.3 770 713.6 771 712.9 772 713.6 773 706.3 774 712.8 775 714.4 776 715.1 777 718.3 778 716.5 779 721.0 780 722.3 781 725.8 782 728.2 783 727.0 784 722.4 785 723.5 786 723.5 787 724.7 788 724.6 789 724.8 790 724.8 791 722.8 792 721.0 793 719.7 794 720.9 795 718.8 796 717.3 797 716.4 798 717.9 799 715.5 800 712.1 801 712.2 802 714.6 803 714.7 804 715.9 805 710.6 806 708.2 807 709.2 808 709.7 809 711.8 810 707.1 811 712.3 812 712.5 813 712.8 814 715.1 815 718.9 816 721.4 817 723.8 818 722.8 819 724.0 820 730.5 821 728.7 822 732.0 823 726.7 824 726.1 825 734.8 826 734.3 827 738.6 828 732.0 829 735.5 830 733.7 831 735.9 832 740.5 833 741.7 834 742.2 835 741.3 836 747.3 837 747.7 838 747.3 839 746.4 840 743.6 841 746.5 842 741.7 843 746.8 844 747.1 845 747.2 846 748.9 847 752.3 848 753.3 849 751.7 850 750.9 851 746.3 852 751.9 853 752.9 854 755.8 855 756.3 856 752.7 857 757.1 858 757.3 859 758.9 860 757.5 861 761.2 862 760.7 863 759.1 864 760.7 865 757.5 866 760.9 867 765.0 868 763.0 869 764.6 870 765.1 871 764.1 872 764.3 873 765.3 874 764.2 875 767.2 876 763.1 877 764.3 878 770.4 879 769.7 880 770.5 881 770.4 882 768.2 883 773.6 884 767.5 885 767.3 886 767.2 887 771.0 888 769.0 889 764.5 890 766.4 891 763.9 892 763.3 893 762.7 894 763.0 895 761.6 896 765.8 897 764.5 898 760.5 899 764.8 900 763.4 901 764.4 902 764.4 903 765.4 904 758.4 905 763.9 906 763.3 907 757.1 908 763.2 909 764.0 910 761.6 911 763.5 912 764.0 913 765.1 914 766.1 915 768.3 916 769.0 917 768.3 918 765.5 919 765.0 920 761.9 921 765.7 922 767.4 923 766.8 924 767.3 925 761.4 926 759.9 927 763.0 928 762.8 929 765.0 930 766.1 931 766.2 932 765.4 933 763.1 934 764.1 935 760.1 936 762.0 937 762.4 938 767.9 939 764.7 940 763.7 941 763.2 942 763.6 943 766.8 944 765.6 945 766.8 946 767.8 947 766.6 948 768.8 949 767.2 950 771.0 951 771.9 952 772.6 953 769.8 954 771.8 955 772.8 956 774.9 957 774.9 958 773.4 959 772.8 960 774.0 961 770.0 962 769.3 963 766.1 964 767.1 965 766.0 966 768.5 967 768.2 968 770.2 969 769.3 970 771.4 971 771.5 972 772.9 973 772.0 974 771.9 975 762.7 976 774.1 977 773.2 978 773.4 979 774.3 980 776.3 981 774.2 982 771.8 983 773.6 984 772.4 985 772.5 986 770.3 987 775.1 988 769.7 989 779.4 990 781.8 991 784.0 992 781.9 993 785.4 994 776.1 995 784.8 996 785.0 997 781.8 998 782.8 999 782.6 1000 784.9 1001 784.9 1002 785.0 1003 778.8 1004 783.3 1005 785.0 1006 785.5 1007 782.8 1008 784.8 1009 787.8 1010 787.2 1011 790.4 1012 791.4 1013 793.7 1014 794.4 1015 791.0 1016 794.2 1017 793.9 1018 793.4 1019 793.4 1020 792.6 1021 791.4 1022 791.0 1023 795.0 1024 791.5 1025 790.1 1026 794.1 1027 792.7 1028 794.1 1029 792.1 1030 792.0 1031 786.1 1032 788.1 1033 787.2 1034 796.6 1035 796.2 1036 801.4 1037 801.7 1038 804.1 1039 800.7 1040 800.3 1041 800.4 1042 801.3 1043 799.6 1044 798.5 1045 802.3 1046 796.6 1047 800.7 1048 797.8 1049 797.8 1050 800.6 1051 801.1 1052 800.2 1053 802.1 1054 791.8 1055 800.0 1056 799.4 1057 797.5 1058 796.4 1059 796.0 1060 802.5 1061 803.8 1062 795.2 1063 794.2 1064 796.9 1065 799.5 1066 797.9 1067 797.9 1068 798.3 1069 799.6 1070 793.8 1071 797.8 1072 802.1 1073 802.9 1074 805.0 1075 803.7 1076 803.3 1077 800.4 1078 799.3 1079 801.0 1080 801.0 1081 802.5 1082 801.8 1083 805.6 1084 805.7 1085 801.7 1086 795.5 1087 798.2 1088 796.2 1089 797.9 1090 798.5 1091 795.7 1092 795.2 1093 795.3 1094 802.3 1095 802.8 1096 801.8 1097 804.9 1098 808.6 1099 801.0 1100 805.9 1101 808.2 1102 810.1 1103 814.0 1104 814.2 1105 815.7 1106 820.9 1107 819.5 1108 813.9 1109 813.2 1110 811.3 1111 813.3 1112 812.9 1113 815.5 1114 814.1 1115 819.1 1116 820.2 1117 820.3 1118 818.9 1119 820.7 1120 824.1 1121 819.9 1122 824.0 1123 820.2 1124 821.7 1125 824.4 1126 823.2 1127 817.5 1128 818.9 1129 817.8 1130 819.6 1131 819.2 1132 825.0 1133 822.6 1134 824.2 1135 823.4 1136 825.4 1137 828.0 1138 827.6 1139 823.0 1140 826.0 1141 824.8 1142 826.1 1143 825.8 1144 825.6 1145 826.2 1146 820.9 1147 824.5 1148 816.6 1149 824.3 1150 827.1 1151 828.1 1152 825.6 1153 823.3 1154 826.7 1155 818.7 1156 824.3 1157 813.3 1158 819.1 1159 815.3 1160 816.7 1161 818.8 1162 818.6 1163 817.5 1164 817.3 1165 814.2 1166 813.1 1167 812.3 1168 809.8 1169 808.4 1170 805.6 1171 804.3 1172 802.9 1173 801.5 1174 799.5 1175 793.9 1176 790.3 1177 795.3 1178 792.6 1179 795.3 1180 794.6 1181 793.7 1182 794.9 1183 795.6 1184 792.8 1185 790.1 1186 787.7 1187 785.6 1188 781.9 1189 781.1 1190 785.1 1191 772.4 1192 771.7 1193 768.6 1194 775.5 1195 773.3 1196 774.1 1197 773.1 1198 772.7 1199 774.5 1200 778.7 1201 774.2 1202 774.0 1203 770.3 1204 770.1 1205 771.6 1206 771.2 1207 772.2 1208 771.0 1209 772.5 1210 767.2 1211 765.5 1212 770.7 1213 770.6 1214 768.7 1215 768.2 1216 766.8 1217 770.4 1218 771.3 1219 768.7 1220 759.6 1221 759.9 1222 764.4 1223 763.2 1224 762.2 1225 764.0 1226 763.4 1227 759.2 1228 756.4 1229 757.3 1230 755.7 1231 751.5 1232 755.6 1233 753.6 1234 752.7 1235 753.3 1236 751.4 1237 753.2 1238 753.1 1239 756.1 1240 755.1 1241 749.6 1242 748.7 1243 750.5 1244 745.1 1245 749.9 1246 742.7 1247 747.3 1248 745.9 1249 743.6 1250 744.3 1251 741.9 1252 737.1 1253 738.8 1254 744.1 1255 738.1 1256 738.8 1257 736.1 1258 740.7 1259 742.7 1260 741.0 1261 740.6 1262 739.0 1263 729.5 1264 737.6 1265 737.1 1266 739.5 1267 740.5 1268 742.0 1269 743.9 1270 745.2 1271 744.0 1272 744.4 1273 738.7 1274 740.6 1275 743.4 1276 746.3 1277 745.7 1278 750.7 1279 752.9 1280 753.9 1281 754.0 1282 753.1 1283 750.9 1284 753.3 1285 755.5 1286 755.3 1287 758.5 1288 757.0 1289 759.2 1290 758.1 1291 759.2 1292 759.8 1293 758.9 1294 755.3 1295 758.6 1296 762.3 1297 765.3 1298 762.7 1299 763.4 1300 763.7 1301 759.6 1302 761.3 1303 761.7 1304 759.0 1305 753.3 1306 752.1 1307 752.4 1308 759.2 1309 761.2 1310 763.4 1311 763.2 1312 763.5 1313 759.2 1314 759.6 1315 762.6 1316 758.6 1317 758.9 1318 755.2 1319 763.8 1320 761.5 1321 760.3 1322 758.7 1323 764.1 1324 767.4 1325 765.3 1326 762.2 1327 761.6 1328 763.8 1329 762.6 1330 762.7 1331 761.2 1332 768.8 1333 766.7 1334 766.3 1335 764.5 1336 764.1 1337 765.6 1338 768.7 1339 771.0 1340 770.7 1341 763.6 1342 770.1 1343 767.4 1344 761.5 1345 760.7 1346 760.3 1347 763.3 1348 760.0 1349 760.8 1350 759.6 1351 756.6 1352 756.0 1353 756.7 1354 760.6 1355 757.1 1356 756.2 1357 753.5 1358 751.7 1359 748.8 1360 747.1 1361 746.2 1362 749.6 1363 746.7 1364 748.8 1365 750.1 1366 748.7 1367 751.1 1368 750.7 1369 751.8 1370 748.9 1371 749.5 1372 749.3 1373 742.0 1374 747.6 1375 744.9 1376 749.2 1377 748.3 1378 749.1 1379 749.1 1380 750.0 1381 753.1 1382 752.2 1383 747.2 1384 746.3 1385 746.7 1386 748.5 1387 744.0 1388 745.1 1389 744.4 1390 746.6 1391 749.1 1392 750.5 1393 749.8 1394 749.3 1395 751.2 1396 754.3 1397 754.7 1398 757.5 1399 752.1 1400 750.7 1401 750.2 1402 745.7 1403 747.9 1404 752.8 1405 754.0 1406 754.5 1407 753.4 1408 751.3 1409 754.3 1410 757.7 1411 758.8 1412 758.4 1413 758.6 1414 757.6 1415 751.1 1416 754.5 1417 756.6 1418 757.0 1419 749.7 1420 757.0 1421 755.2 1422 755.3 1423 756.5 1424 757.3 1425 757.2 1426 755.8 1427 754.7 1428 751.5 1429 752.2 1430 754.2 1431 753.4 1432 752.7 1433 752.7 1434 752.1 1435 750.8 1436 751.9 1437 748.0 1438 749.3 1439 748.1 1440 755.5 1441 758.0 1442 752.8 1443 753.2 1444 754.3 1445 756.3 1446 758.1 1447 757.4 1448 760.0 1449 756.8 1450 755.6 1451 756.1 1452 757.7 1453 757.2 1454 763.2 1455 763.6 1456 761.2 1457 760.8 1458 757.4 1459 757.5 1460 759.8 1461 762.0 1462 756.2 1463 758.0 1464 759.0 1465 760.4 1466 759.0 1467 759.8 1468 761.8 1469 767.4 1470 765.8 1471 766.9 1472 768.6 1473 769.4 1474 764.5 1475 768.4 1476 772.1 1477 774.9 1478 774.0 1479 775.6 1480 775.0 1481 777.6 1482 782.5 1483 781.1 1484 779.9 1485 772.6 1486 781.7 1487 784.4 1488 783.6 1489 784.8 1490 789.5 1491 790.7 1492 795.1 1493 796.9 1494 794.3 1495 788.5 1496 787.5 1497 787.9 1498 784.5 1499 783.5 1500 785.5 1501 782.6 1502 783.8 1503 782.8 1504 784.1 1505 779.0 1506 775.6 1507 779.6 1508 779.6 1509 777.7 1510 775.0 1511 775.9 1512 777.2 1513 777.9 1514 765.7 1515 761.9 1516 761.9 1517 770.0 1518 768.9 1519 760.0 1520 766.8 1521 769.9 1522 768.6 1523 766.9 1524 767.7 1525 768.8 1526 772.6 1527 769.8 1528 767.2 1529 767.0 1530 763.9 1531 762.7 1532 760.2 1533 756.3 1534 756.1 1535 761.8 1536 761.8 1537 762.8 1538 759.3 1539 756.2 1540 759.4 1541 757.1 1542 755.6 1543 758.2 1544 758.2 1545 755.2 1546 756.5 1547 756.2 1548 753.2 1549 748.2 1550 745.1 1551 735.8 1552 745.2 1553 742.8 1554 741.0 1555 743.9 1556 742.6 1557 741.4 1558 737.7 1559 736.3 1560 731.8 1561 729.5 1562 724.3 1563 728.7 1564 734.5 1565 730.9 1566 729.5 1567 732.0 1568 728.8 1569 732.7 1570 733.7 1571 736.0 1572 739.1 1573 740.2 1574 740.5 1575 740.8 1576 742.1 1577 742.9 1578 741.6 1579 743.8 1580 742.5 1581 736.2 1582 737.3 1583 736.7 1584 745.8 1585 744.7 1586 744.2 1587 742.9 1588 742.0 1589 744.0 1590 737.6 1591 742.4 1592 742.4 1593 739.9 1594 738.8 1595 739.5 1596 739.6 1597 740.0 1598 741.3 1599 736.4 1600 739.2 1601 741.0 1602 740.4 1603 741.2 1604 740.6 1605 745.8 1606 746.1 1607 745.7 1608 742.7 1609 745.4 1610 745.2 1611 742.9 1612 743.2 1613 742.8 1614 744.7 1615 744.4 1616 745.1 1617 746.4 1618 746.3 1619 743.3 1620 736.6 1621 733.2 1622 744.1 1623 742.0 1624 742.3 1625 739.3 1626 739.1 1627 741.4 1628 742.6 1629 742.3 1630 734.7 1631 736.5 1632 733.5 1633 737.5 1634 732.3 1635 731.2 1636 734.2 1637 732.0 1638 729.1 1639 728.8 1640 727.5 1641 726.9 1642 730.4 1643 729.7 1644 731.1 1645 731.4 1646 732.2 1647 727.7 1648 729.0 1649 731.2 1650 731.8 1651 736.2 1652 738.3 1653 738.7 1654 736.6 1655 737.0 1656 737.2 1657 736.6 1658 738.2 1659 741.6 1660 741.9 1661 739.9 1662 738.3 1663 739.0 1664 740.4 1665 745.7 1666 746.6 1667 746.2 1668 743.8 1669 744.3 1670 740.7 1671 744.3 1672 741.7 1673 741.7 1674 743.2 1675 745.1 1676 746.2 1677 746.3 1678 746.8 1679 739.4 1680 740.6 1681 743.4 1682 742.1 1683 739.2 1684 731.8 1685 730.7 1686 730.6 1687 732.4 1688 733.8 1689 737.9 1690 734.7 1691 738.7 1692 735.9 1693 736.7 1694 737.0 1695 734.2 1696 734.3 1697 733.7 1698 730.0 1699 728.4 1700 724.1 1701 724.5 1702 723.6 1703 728.8 1704 726.2 1705 724.9 1706 725.6 1707 733.0 1708 731.6 1709 728.7 1710 729.8 1711 731.1 1712 731.4 1713 730.0 1714 728.0 1715 730.5 1716 736.3 1717 737.7 1718 728.8 1719 738.1 1720 736.3 1721 738.6 1722 738.1 1723 740.3 1724 736.0 1725 736.5 1726 733.6 1727 732.7 1728 734.0 1729 731.1 1730 731.6 1731 736.6 1732 738.5 1733 738.7 1734 736.3 1735 738.5 1736 739.5 1737 738.2 1738 736.7 1739 736.2 1740 739.0 1741 746.0 1742 746.4 1743 746.8 1744 746.2 1745 744.4 1746 742.7 1747 740.7 1748 738.5 1749 740.2 1750 738.9 1751 738.6 1752 740.0 1753 737.8 1754 736.8 1755 736.4 1756 739.0 1757 740.4 1758 736.8 1759 740.0 1760 737.9 1761 736.3 1762 733.4L1762 749.6 1761 752.5 1760 754.3 1759 755.0 1758 755.0 1757 753.6 1756 755.6 1755 754.9 1754 755.4 1753 753.9 1752 756.1 1751 752.7 1750 753.4 1749 753.0 1748 753.1 1747 755.3 1746 757.5 1745 757.7 1744 757.1 1743 757.8 1742 757.4 1741 757.0 1740 754.0 1739 753.1 1738 753.6 1737 751.7 1736 751.5 1735 750.6 1734 748.9 1733 751.6 1732 756.8 1731 753.4 1730 748.6 1729 748.1 1728 749.3 1727 748.0 1726 747.4 1725 750.4 1724 749.8 1723 751.2 1722 749.0 1721 749.5 1720 751.8 1719 751.6 1718 749.4 1717 749.2 1716 749.3 1715 748.3 1714 745.8 1713 739.7 1712 741.1 1711 740.8 1710 741.7 1709 742.6 1708 748.4 1707 743.1 1706 741.0 1705 740.3 1704 742.8 1703 740.7 1702 738.2 1701 738.8 1700 739.0 1699 748.5 1698 744.8 1697 745.4 1696 748.4 1695 746.1 1694 749.2 1693 748.7 1692 748.0 1691 751.6 1690 750.1 1689 753.3 1688 751.5 1687 750.1 1686 750.3 1685 746.8 1684 747.9 1683 752.6 1682 755.1 1681 757.0 1680 757.6 1679 756.4 1678 761.6 1677 761.1 1676 761.0 1675 759.7 1674 760.4 1673 761.0 1672 760.7 1671 759.4 1670 753.9 1669 755.6 1668 755.1 1667 758.0 1666 759.7 1665 758.9 1664 755.9 1663 756.9 1662 756.1 1661 751.9 1660 753.5 1659 754.4 1658 750.6 1657 749.0 1656 750.3 1655 753.6 1654 750.4 1653 749.5 1652 749.1 1651 748.6 1650 745.9 1649 745.3 1648 741.2 1647 742.4 1646 742.9 1645 742.8 1644 743.5 1643 746.4 1642 744.4 1641 742.3 1640 743.0 1639 740.2 1638 747.5 1637 744.4 1636 746.6 1635 744.2 1634 747.1 1633 752.3 1632 750.7 1631 751.9 1630 750.1 1629 752.0 1628 752.2 1627 753.0 1626 754.6 1625 753.7 1624 756.7 1623 755.0 1622 757.2 1621 754.2 1620 757.5 1619 766.8 1618 757.6 1617 756.9 1616 761.2 1615 758.0 1614 761.6 1613 759.7 1612 760.1 1611 753.6 1610 757.2 1609 757.5 1608 754.7 1607 756.5 1606 757.0 1605 756.7 1604 754.9 1603 755.5 1602 764.6 1601 752.3 1600 750.4 1599 751.4 1598 754.5 1597 755.8 1596 755.3 1595 755.9 1594 750.8 1593 755.8 1592 758.2 1591 759.2 1590 758.8 1589 755.1 1588 758.1 1587 759.0 1586 757.9 1585 754.5 1584 755.7 1583 754.0 1582 756.7 1581 754.0 1580 753.9 1579 755.2 1578 752.4 1577 753.6 1576 752.2 1575 753.1 1574 752.9 1573 752.0 1572 750.6 1571 748.8 1570 747.1 1569 746.1 1568 741.5 1567 743.7 1566 741.7 1565 743.0 1564 746.6 1563 743.5 1562 743.5 1561 743.6 1560 745.4 1559 750.0 1558 751.6 1557 752.9 1556 753.3 1555 754.7 1554 752.7 1553 754.4 1552 756.7 1551 756.9 1550 761.4 1549 764.6 1548 764.8 1547 767.9 1546 772.3 1545 770.4 1544 773.4 1543 769.9 1542 774.4 1541 772.1 1540 774.4 1539 770.5 1538 776.6 1537 777.1 1536 776.1 1535 772.1 1534 771.1 1533 771.3 1532 774.6 1531 775.2 1530 777.3 1529 781.8 1528 787.6 1527 789.4 1526 790.3 1525 786.9 1524 788.9 1523 782.7 1522 784.4 1521 790.3 1520 782.9 1519 783.1 1518 784.5 1517 783.1 1516 781.9 1515 781.9 1514 784.4 1513 787.4 1512 786.8 1511 788.6 1510 789.9 1509 790.8 1508 791.9 1507 793.6 1506 793.1 1505 794.5 1504 799.5 1503 793.8 1502 794.9 1501 794.1 1500 796.2 1499 797.3 1498 799.7 1497 801.8 1496 798.2 1495 799.2 1494 805.7 1493 807.2 1492 805.3 1491 800.8 1490 800.2 1489 799.3 1488 796.5 1487 796.0 1486 792.1 1485 791.4 1484 791.6 1483 793.4 1482 793.0 1481 789.8 1480 788.6 1479 789.1 1478 787.5 1477 794.3 1476 787.4 1475 781.7 1474 779.9 1473 780.7 1472 788.0 1471 786.2 1470 785.1 1469 780.6 1468 775.0 1467 773.1 1466 772.1 1465 773.6 1464 772.3 1463 771.3 1462 773.7 1461 776.5 1460 772.2 1459 776.8 1458 773.7 1457 771.9 1456 772.4 1455 773.1 1454 776.5 1453 772.4 1452 773.0 1451 769.1 1450 769.3 1449 770.2 1448 771.8 1447 767.8 1446 771.2 1445 769.4 1444 770.9 1443 768.4 1442 768.0 1441 770.7 1440 766.4 1439 762.8 1438 763.9 1437 763.8 1436 763.7 1435 760.3 1434 761.6 1433 762.2 1432 766.7 1431 765.0 1430 765.3 1429 771.5 1428 766.2 1427 770.3 1426 771.0 1425 773.0 1424 771.7 1423 769.3 1422 768.1 1421 767.4 1420 769.2 1419 769.6 1418 771.1 1417 767.1 1416 766.2 1415 771.1 1414 770.9 1413 772.4 1412 772.3 1411 768.6 1410 770.1 1409 764.6 1408 763.1 1407 764.4 1406 765.6 1405 765.2 1404 765.2 1403 764.7 1402 762.5 1401 760.9 1400 763.1 1399 763.0 1398 767.9 1397 765.1 1396 767.4 1395 768.1 1394 764.6 1393 764.9 1392 765.6 1391 764.2 1390 761.7 1389 761.3 1388 761.2 1387 760.2 1386 760.2 1385 759.1 1384 761.5 1383 762.4 1382 761.9 1381 764.2 1380 762.2 1379 763.4 1378 759.8 1377 760.2 1376 761.1 1375 761.0 1374 760.4 1373 763.1 1372 762.2 1371 761.6 1370 761.0 1369 762.6 1368 762.2 1367 761.7 1366 760.1 1365 761.5 1364 766.1 1363 763.9 1362 766.8 1361 760.1 1360 764.8 1359 766.5 1358 769.4 1357 767.5 1356 769.2 1355 767.8 1354 771.3 1353 770.1 1352 767.6 1351 767.0 1350 769.9 1349 771.7 1348 770.9 1347 774.2 1346 774.9 1345 777.8 1344 778.6 1343 779.8 1342 782.5 1341 781.8 1340 782.4 1339 783.0 1338 780.7 1337 778.9 1336 777.3 1335 776.3 1334 776.0 1333 776.4 1332 779.6 1331 774.5 1330 779.7 1329 779.6 1328 776.1 1327 773.9 1326 774.5 1325 777.3 1324 779.4 1323 776.1 1322 774.1 1321 774.7 1320 773.5 1319 775.8 1318 778.8 1317 774.1 1316 772.7 1315 774.2 1314 774.5 1313 773.0 1312 774.5 1311 774.2 1310 776.9 1309 775.9 1308 774.8 1307 771.9 1306 771.6 1305 772.4 1304 775.7 1303 778.4 1302 774.2 1301 775.1 1300 774.0 1299 774.6 1298 773.8 1297 775.8 1296 774.0 1295 777.7 1294 774.4 1293 770.4 1292 771.3 1291 773.5 1290 773.3 1289 775.2 1288 769.6 1287 771.0 1286 767.8 1285 767.4 1284 769.8 1283 767.0 1282 769.2 1281 770.5 1280 772.5 1279 763.3 1278 763.6 1277 765.4 1276 760.2 1275 757.3 1274 755.8 1273 759.0 1272 761.3 1271 758.0 1270 759.2 1269 758.3 1268 752.7 1267 751.4 1266 750.4 1265 752.6 1264 753.1 1263 751.7 1262 756.7 1261 755.4 1260 755.6 1259 756.1 1258 754.1 1257 753.7 1256 756.5 1255 755.8 1254 757.0 1253 751.7 1252 749.4 1251 753.7 1250 756.5 1249 755.8 1248 757.3 1247 759.1 1246 762.0 1245 763.1 1244 765.0 1243 762.8 1242 765.5 1241 766.4 1240 766.0 1239 770.8 1238 765.8 1237 765.9 1236 764.2 1235 765.3 1234 764.7 1233 765.6 1232 767.0 1231 769.3 1230 771.6 1229 773.1 1228 771.3 1227 771.5 1226 775.7 1225 774.0 1224 773.9 1223 778.9 1222 778.4 1221 778.7 1220 777.1 1219 779.1 1218 781.8 1217 780.7 1216 780.0 1215 785.3 1214 785.8 1213 785.7 1212 785.8 1211 783.5 1210 784.0 1209 785.8 1208 784.3 1207 783.0 1206 782.7 1205 783.1 1204 783.5 1203 783.7 1202 787.4 1201 787.3 1200 795.3 1199 795.7 1198 787.5 1197 788.0 1196 788.7 1195 788.2 1194 790.4 1193 790.3 1192 793.4 1191 794.1 1190 796.1 1189 796.7 1188 796.2 1187 798.0 1186 800.1 1185 800.7 1184 803.4 1183 806.2 1182 809.3 1181 806.2 1180 805.9 1179 808.6 1178 805.9 1177 808.3 1176 807.8 1175 809.4 1174 809.9 1173 813.2 1172 814.7 1171 818.4 1170 817.4 1169 819.4 1168 820.8 1167 824.4 1166 826.5 1165 827.9 1164 831.1 1163 829.2 1162 833.2 1161 834.3 1160 831.0 1159 829.7 1158 833.5 1157 837.0 1156 838.3 1155 837.5 1154 837.6 1153 843.0 1152 839.5 1151 838.9 1150 837.8 1149 837.4 1148 835.0 1147 834.4 1146 836.0 1145 838.4 1144 838.3 1143 840.0 1142 838.8 1141 836.0 1140 844.6 1139 841.0 1138 839.1 1137 839.8 1136 838.4 1135 836.4 1134 834.4 1133 834.8 1132 837.2 1131 840.1 1130 836.8 1129 835.0 1128 834.9 1127 838.6 1126 839.4 1125 838.2 1124 832.5 1123 833.0 1122 834.9 1121 830.8 1120 835.5 1119 835.7 1118 831.4 1117 832.8 1116 832.7 1115 831.6 1114 826.5 1113 826.9 1112 823.1 1111 823.5 1110 825.2 1109 827.6 1108 828.4 1107 830.2 1106 835.0 1105 833.0 1104 827.3 1103 827.9 1102 828.0 1101 826.1 1100 821.8 1099 820.8 1098 820.4 1097 818.0 1096 818.7 1095 819.7 1094 815.0 1093 812.8 1092 816.2 1091 810.4 1090 809.4 1089 808.8 1088 809.5 1087 811.6 1086 815.9 1085 815.0 1084 821.4 1083 821.3 1082 817.5 1081 812.6 1080 814.5 1079 814.6 1078 814.5 1077 812.6 1076 814.5 1075 814.1 1074 818.7 1073 818.1 1072 819.6 1071 817.2 1070 813.1 1069 813.2 1068 812.9 1067 813.5 1066 812.4 1065 813.4 1064 815.5 1063 813.6 1062 816.6 1061 816.9 1060 815.6 1059 812.2 1058 813.4 1057 812.8 1056 816.9 1055 816.3 1054 814.7 1053 815.7 1052 814.2 1051 814.6 1050 814.6 1049 814.2 1048 818.7 1047 820.9 1046 811.8 1045 811.9 1044 811.8 1043 811.5 1042 813.2 1041 812.3 1040 816.5 1039 816.9 1038 818.0 1037 815.5 1036 815.3 1035 810.7 1034 806.9 1033 815.1 1032 805.4 1031 807.4 1030 807.6 1029 808.0 1028 809.2 1027 802.7 1026 804.0 1025 809.9 1024 806.7 1023 807.5 1022 809.9 1021 808.2 1020 809.4 1019 816.2 1018 814.0 1017 807.5 1016 807.8 1015 805.2 1014 810.4 1013 806.9 1012 804.6 1011 805.2 1010 802.0 1009 808.9 1008 809.5 1007 800.1 1006 799.5 1005 798.9 1004 796.7 1003 796.1 1002 795.4 1001 798.4 1000 798.4 999 797.9 998 794.5 997 793.5 996 797.0 995 796.4 994 797.3 993 797.8 992 793.8 991 798.3 990 795.4 989 792.2 988 789.5 987 787.5 986 783.8 985 784.7 984 784.6 983 786.0 982 784.2 981 785.1 980 786.2 979 788.7 978 787.8 977 790.1 976 788.5 975 787.7 974 785.2 973 785.7 972 784.8 971 784.9 970 786.9 969 784.9 968 786.8 967 784.9 966 782.4 965 789.2 964 790.2 963 781.9 962 784.3 961 785.0 960 788.8 959 787.7 958 785.0 957 785.0 956 786.2 955 784.0 954 783.0 953 784.8 952 784.3 951 782.0 950 782.5 949 781.2 948 779.7 947 777.4 946 778.6 945 777.0 944 776.4 943 777.5 942 776.2 941 776.2 940 774.1 939 775.1 938 780.0 937 777.1 936 777.7 935 774.2 934 778.1 933 776.9 932 776.9 931 777.8 930 776.0 929 774.9 928 775.4 927 776.8 926 778.8 925 780.3 924 780.2 923 782.4 922 783.0 921 780.9 920 778.6 919 783.7 918 784.2 917 786.2 916 785.6 915 792.8 914 788.5 913 787.5 912 793.9 911 778.1 910 777.2 909 777.0 908 776.2 907 774.1 906 773.1 905 773.7 904 780.5 903 777.0 902 775.1 901 774.4 900 774.2 899 776.9 898 776.0 897 775.6 896 776.9 895 778.0 894 780.0 893 779.8 892 775.7 891 779.6 890 782.0 889 779.3 888 785.2 887 789.7 886 785.9 885 786.0 884 785.5 883 787.1 882 784.5 881 783.0 880 785.1 879 784.3 878 783.9 877 784.6 876 781.3 875 780.7 874 779.1 873 779.6 872 775.6 871 775.4 870 780.9 869 782.6 868 781.1 867 779.6 866 775.6 865 772.2 864 773.5 863 773.8 862 773.4 861 772.1 860 777.1 859 771.1 858 770.2 857 769.1 856 767.4 855 769.7 854 768.1 853 767.6 852 768.2 851 766.0 850 764.7 849 766.3 848 767.9 847 762.7 846 759.8 845 765.4 844 760.8 843 760.5 842 758.2 841 760.1 840 757.2 839 759.1 838 759.5 837 761.1 836 760.7 835 754.3 834 754.5 833 754.1 832 756.1 831 753.3 830 751.1 829 747.1 828 752.3 827 753.9 826 749.7 825 747.9 824 744.1 823 743.9 822 744.4 821 741.2 820 745.1 819 738.5 818 737.4 817 735.9 816 735.5 815 733.0 814 725.0 813 725.3 812 725.0 811 733.1 810 724.8 809 724.7 808 722.5 807 722.8 806 722.5 805 725.0 804 727.9 803 727.7 802 727.6 801 724.5 800 724.4 799 727.9 798 731.4 797 733.1 796 731.3 795 734.2 794 732.9 793 731.7 792 736.5 791 738.6 790 740.6 789 739.2 788 741.3 787 743.7 786 742.6 785 743.9 784 742.9 783 742.5 782 740.8 781 738.4 780 734.8 779 731.9 778 729.6 777 728.5 776 731.8 775 730.4 774 723.4 773 725.2 772 725.3 771 724.2 770 725.4 769 727.4 768 728.5 767 732.5 766 732.1 765 735.0 764 737.1 763 735.2 762 742.2 761 741.0 760 740.7 759 741.6 758 743.3 757 746.2 756 747.2 755 750.6 754 753.3 753 753.1 752 755.0 751 757.6 750 762.2 749 766.5 748 768.5 747 770.1 746 772.3 745 774.1 744 774.6 743 782.4 742 780.6 741 785.7 740 786.1 739 788.2 738 789.0 737 793.8 736 794.5 735 794.9 734 801.1 733 800.3 732 801.6 731 803.6 730 801.7 729 801.4 728 803.1 727 803.2 726 803.6 725 808.5 724 812.5 723 809.5 722 809.0 721 809.8 720 805.8 719 807.2 718 807.5 717 806.9 716 807.6 715 810.2 714 812.8 713 813.6 712 813.7 711 815.2 710 815.6 709 818.0 708 815.5 707 811.1 706 812.9 705 813.4 704 813.7 703 819.1 702 821.7 701 820.6 700 820.6 699 823.3 698 820.6 697 820.0 696 821.7 695 822.1 694 822.4 693 825.3 692 824.6 691 823.7 690 821.0 689 820.7 688 819.7 687 821.8 686 820.8 685 818.2 684 812.1 683 811.6 682 811.5 681 812.1 680 812.6 679 812.6 678 814.0 677 815.6 676 818.4 675 818.4 674 824.8 673 819.5 672 820.3 671 822.9 670 827.0 669 825.7 668 824.2 667 826.9 666 826.6 665 823.0 664 827.0 663 829.2 662 826.0 661 828.3 660 825.9 659 823.5 658 820.9 657 822.3 656 820.7 655 819.4 654 817.7 653 816.3 652 815.6 651 813.8 650 815.5 649 816.3 648 813.4 647 810.9 646 809.4 645 809.3 644 806.1 643 807.7 642 808.1 641 807.4 640 806.1 639 807.4 638 807.1 637 810.6 636 810.8 635 805.3 634 809.5 633 813.2 632 814.0 631 820.1 630 818.4 629 817.4 628 821.5 627 822.4 626 826.5 625 826.1 624 827.4 623 829.7 622 827.0 621 832.3 620 835.1 619 839.0 618 837.1 617 839.5 616 838.1 615 833.4 614 839.8 613 838.4 612 840.0 611 840.0 610 843.2 609 844.9 608 845.7 607 848.1 606 845.5 605 851.1 604 853.0 603 856.5 602 857.2 601 859.9 600 863.6 599 865.3 598 861.7 597 863.3 596 866.4 595 867.0 594 868.7 593 870.0 592 870.6 591 872.0 590 869.4 589 871.8 588 871.6 587 873.9 586 875.4 585 883.8 584 874.3 583 874.8 582 876.3 581 873.9 580 875.9 579 876.4 578 880.7 577 883.1 576 887.0 575 890.7 574 888.6 573 891.5 572 893.0 571 899.5 570 893.0 569 892.9 568 894.2 567 899.5 566 902.7 565 904.3 564 902.6 563 904.3 562 904.9 561 908.5 560 909.7 559 905.4 558 905.0 557 910.9 556 912.7 555 912.3 554 915.0 553 916.9 552 916.7 551 915.2 550 920.0 549 925.5 548 927.8 547 929.6 546 936.3 545 938.9 544 942.4 543 942.9 542 946.2 541 950.6 540 952.4 539 952.4 538 958.3 537 957.1 536 961.8 535 961.7 534 963.8 533 971.5 532 973.4 531 976.9 530 975.0 529 978.0 528 981.4 527 988.0 526 994.2 525 998.5 524 1003.7 523 1005.2 522 1011.5 521 1014.9 520 1015.1 519 1029.3 518 1022.0 517 1021.4 516 1021.0 515 1020.8 514 1024.3 513 1029.4 512 1028.7 511 1039.0 510 1040.8 509 1040.3 508 1038.1 507 1041.1 506 1046.5 505 1050.0 504 1055.2 503 1057.4 502 1059.7 501 1062.5 500 1070.7 499 1068.5 498 1074.5 497 1075.0 496 1074.9 495 1078.6 494 1088.0 493 1090.9 492 1086.4 491 1088.8 490 1091.4 489 1092.9 488 1093.5 487 1098.6 486 1099.0 485 1102.8 484 1106.4 483 1107.0 482 1111.1 481 1113.4 480 1118.8 479 1118.8 478 1123.1 477 1126.1 476 1131.1 475 1131.1 474 1134.2 473 1143.6 472 1143.0 471 1148.8 470 1146.0 469 1150.4 468 1155.1 467 1159.2 466 1160.9 465 1162.8 464 1165.6 463 1172.3 462 1176.7 461 1178.7 460 1183.0 459 1188.0 458 1192.3 457 1196.5 456 1197.8 455 1202.0 454 1204.3 453 1208.5 452 1211.3 451 1213.6 450 1215.9 449 1216.5 448 1216.7 447 1217.4 446 1218.5 445 1219.0 444 1219.7 443 1219.7Z"/><path fill="none" stroke-width="3.5" stroke-linejoin="round" d="M443 1217.6 444 1216.9 445 1216.1 446 1215.0 447 1213.8 448 1212.7 449 1212.4 450 1211.8 451 1210.2 452 1208.0 453 1205.2 454 1201.6 455 1198.7 456 1194.5 457 1191.6 458 1187.5 459 1183.2 460 1177.7 461 1173.4 462 1171.8 463 1167.5 464 1163.1 465 1160.1 466 1158.1 467 1156.3 468 1151.8 469 1146.9 470 1142.5 471 1139.7 472 1133.6 473 1133.9 474 1129.8 475 1126.5 476 1126.3 477 1121.0 478 1117.9 479 1113.5 480 1111.5 481 1107.1 482 1104.7 483 1100.4 484 1099.7 485 1096.1 486 1091.5 487 1090.0 488 1084.3 489 1085.5 490 1084.1 491 1082.2 492 1079.8 493 1079.3 494 1076.4 495 1073.2 496 1069.4 497 1066.8 498 1066.3 499 1060.3 500 1058.1 501 1054.6 502 1051.8 503 1051.1 504 1048.8 505 1043.6 506 1040.5 507 1035.1 508 1033.1 509 1029.0 510 1029.6 511 1027.8 512 1020.9 513 1021.5 514 1018.4 515 1015.2 516 1015.4 517 1016.7 518 1017.3 519 1012.8 520 1007.7 521 1006.9 522 1003.5 523 997.1 524 995.7 525 990.5 526 986.2 527 980.0 528 976.5 529 973.1 530 970.0 531 965.7 532 962.1 533 960.3 534 957.3 535 955.2 536 953.2 537 951.2 538 949.9 539 947.7 540 947.7 541 945.7 542 940.9 543 937.7 544 935.4 545 931.9 546 931.0 547 924.3 548 922.2 549 919.9 550 914.4 551 909.1 552 910.5 553 908.4 554 906.5 555 903.0 556 903.4 557 901.6 558 900.1 559 900.6 560 901.9 561 900.8 562 897.2 563 896.6 564 893.6 565 895.3 566 893.7 567 891.1 568 888.7 569 887.5 570 887.5 571 888.5 572 887.8 573 883.3 574 880.5 575 880.2 576 878.0 577 877.3 578 873.8 579 869.5 580 868.9 581 868.7 582 870.1 583 868.6 584 868.1 585 870.0 586 870.0 587 868.1 588 865.1 589 865.2 590 862.9 591 864.4 592 863.6 593 863.0 594 864.1 595 862.4 596 861.5 597 858.4 598 856.8 599 855.6 600 853.9 601 854.8 602 852.2 603 851.4 604 848.2 605 846.3 606 840.7 607 841.3 608 840.6 609 839.8 610 837.5 611 835.4 612 833.6 613 832.1 614 833.1 615 828.8 616 833.5 617 833.2 618 830.8 619 832.6 620 828.7 621 826.9 622 821.7 623 823.0 624 820.6 625 819.3 626 819.1 627 815.0 628 814.1 629 812.7 630 813.7 631 813.3 632 807.1 633 806.4 634 802.3 635 800.4 636 800.1 637 804.3 638 800.8 639 801.0 640 800.2"/></g><g fill="#3ec3ca" stroke="#3ec3ca" opacity="1.00"><path stroke="none" d="M443 1213.8 444 1212.2 445 1211.8 446 1211.4 447 1210.3 448 1209.6 449 1209.7 450 1208.9 451 1208.1 452 1207.4 453 1205.8 454 1204.0 455 1200.5 456 1196.7 457 1193.7 458 1189.8 459 1187.6 460 1184.2 461 1175.8 462 1173.7 463 1171.0 464 1169.2 465 1164.7 466 1163.8 467 1158.3 468 1151.2 469 1150.5 470 1148.1 471 1141.2 472 1143.7 473 1143.3 474 1134.1 475 1137.0 476 1130.4 477 1132.5 478 1128.5 479 1122.4 480 1119.1 481 1115.0 482 1113.4 483 1109.8 484 1102.6 485 1105.9 486 1102.8 487 1098.4 488 1092.1 489 1090.2 490 1084.6 491 1084.4 492 1082.5 493 1079.0 494 1075.2 495 1074.1 496 1072.7 497 1067.9 498 1064.8 499 1062.9 500 1058.8 501 1063.7 502 1059.7 503 1057.1 504 1053.3 505 1049.7 506 1048.9 507 1052.3 508 1045.9 509 1043.8 510 1041.7 511 1041.2 512 1047.9 513 1045.5 514 1040.6 515 1039.5 516 1037.7 517 1025.8 518 1029.9 519 1026.3 520 1024.0 521 1018.9 522 1019.1 523 1018.4 524 1010.8 525 1007.0 526 1002.9 527 999.3 528 998.7 529 995.1 530 985.2 531 987.4 532 986.3 533 983.5 534 979.2 535 971.6 536 970.7 537 971.2 538 970.3 539 963.8 540 954.5 541 961.6 542 965.8 543 961.7 544 956.7 545 954.3 546 942.2 547 942.8 548 941.0 549 934.3 550 931.6 551 926.6 552 923.2 553 924.3 554 924.3 555 917.9 556 921.3 557 918.2 558 914.6 559 911.6 560 907.2 561 907.1 562 905.6 563 906.6 564 903.0 565 899.0 566 900.4 567 901.1 568 897.8 569 893.9 570 896.4 571 894.7 572 894.0 573 894.2 574 890.2 575 891.1 576 892.1 577 886.4 578 885.2 579 888.8 580 885.8 581 882.7 582 883.3 583 881.9 584 884.8 585 882.9 586 881.6 587 880.0 588 880.4 589 878.8 590 877.0 591 875.4 592 874.1 593 869.7 594 867.2 595 867.0 596 865.7 597 868.7 598 868.3 599 868.2 600 865.8 601 867.9 602 866.9 603 867.6 604 866.9 605 870.1 606 869.5 607 862.9 608 861.9 609 858.1 610 857.9 611 856.0 612 855.9 613 856.5 614 851.0 615 852.6 616 853.4 617 850.8 618 852.2 619 851.8 620 854.0 621 851.9 622 847.8 623 847.3 624 844.0 625 840.4 626 837.3 627 837.4 628 837.4 629 837.3 630 833.7 631 834.5 632 831.5 633 830.7 634 827.9 635 827.4 636 822.0 637 821.4 638 821.4 639 824.3 640 823.5 641 819.5 642 818.5 643 813.0 644 815.9 645 816.7 646 819.0 647 814.6 648 811.9 649 808.7 650 809.1 651 809.2 652 808.5 653 808.5 654 807.8 655 809.8 656 810.1 657 809.1 658 805.7 659 808.5 660 808.6 661 805.0 662 803.8 663 804.4 664 804.8 665 802.5 666 801.3 667 801.4 668 800.2 669 799.7 670 799.1 671 795.1 672 794.1 673 791.7 674 788.8 675 786.6 676 779.3 677 768.4 678 772.6 679 772.9 680 770.1 681 769.6 682 773.0 683 771.5 684 771.5 685 762.4 686 759.8 687 757.7 688 760.1 689 759.6 690 760.7 691 758.1 692 756.0 693 764.3 694 761.4 695 761.3 696 762.0 697 759.4 698 747.9 699 758.1 700 756.0 701 754.1 702 751.9 703 754.9 704 753.0 705 753.7 706 747.5 707 750.4 708 748.5 709 751.6 710 747.0 711 744.4 712 747.8 713 746.8 714 748.0 715 746.8 716 746.8 717 743.2 718 743.7 719 743.2 720 744.0 721 747.0 722 747.5 723 744.5 724 742.7 725 743.7 726 745.4 727 749.8 728 752.0 729 752.5 730 748.2 731 748.1 732 747.3 733 749.5 734 745.2 735 744.0 736 748.1 737 746.3 738 743.4 739 742.1 740 742.1 741 744.0 742 741.5 743 741.4 744 743.9 745 739.1 746 740.2 747 744.8 748 739.0 749 738.2 750 737.9 751 738.5 752 739.9 753 741.3 754 740.7 755 741.1 756 743.9 757 742.4 758 742.0 759 738.9 760 738.4 761 737.6 762 739.9 763 737.4 764 736.6 765 737.9 766 737.2 767 736.9 768 734.6 769 737.2 770 737.4 771 733.7 772 733.6 773 732.0 774 731.8 775 730.6 776 728.5 777 729.2 778 731.1 779 732.0 780 732.5 781 734.9 782 735.4 783 735.4 784 733.0 785 732.6 786 733.2 787 727.9 788 733.1 789 729.9 790 730.9 791 729.3 792 730.4 793 731.1 794 727.0 795 725.9 796 728.9 797 722.0 798 722.4 799 721.9 800 729.2 801 731.1 802 731.3 803 722.2 804 728.2 805 730.5 806 730.0 807 728.7 808 730.2 809 726.9 810 718.1 811 725.1 812 723.4 813 723.7 814 720.8 815 723.1 816 722.2 817 724.0 818 724.2 819 720.0 820 720.6 821 721.1 822 718.5 823 717.9 824 717.6 825 721.5 826 718.9 827 716.0 828 712.7 829 717.0 830 716.5 831 712.6 832 710.1 833 709.5 834 710.2 835 713.7 836 711.9 837 712.0 838 708.1 839 708.4 840 716.9 841 715.7 842 717.3 843 716.9 844 715.9 845 717.1 846 713.3 847 717.7 848 722.7 849 722.3 850 720.8 851 717.6 852 716.5 853 720.6 854 721.6 855 723.1 856 718.2 857 719.2 858 715.7 859 721.1 860 723.6 861 722.9 862 723.1 863 722.7 864 723.7 865 723.8 866 724.4 867 723.0 868 722.0 869 720.6 870 716.3 871 724.0 872 724.5 873 724.3 874 725.6 875 721.6 876 724.9 877 725.8 878 725.2 879 728.7 880 727.5 881 724.1 882 723.0 883 723.0 884 720.9 885 722.5 886 722.8 887 718.7 888 719.0 889 719.6 890 715.8 891 719.0 892 720.0 893 722.3 894 723.8 895 722.1 896 719.5 897 723.2 898 715.5 899 711.8 900 708.6 901 717.6 902 719.2 903 717.6 904 715.5 905 715.8 906 717.2 907 712.9 908 713.8 909 712.9 910 714.3 911 709.9 912 715.3 913 713.7 914 709.3 915 717.1 916 716.6 917 714.3 918 703.6 919 701.4 920 707.0 921 707.7 922 709.1 923 704.3 924 703.4 925 704.9 926 709.8 927 706.8 928 704.9 929 699.6 930 698.1 931 701.8 932 701.9 933 705.6 934 710.0 935 711.0 936 709.8 937 714.1 938 715.4 939 713.9 940 715.1 941 712.3 942 712.0 943 713.5 944 714.3 945 713.4 946 713.6 947 706.6 948 711.1 949 706.4 950 709.4 951 708.1 952 706.3 953 704.0 954 695.1 955 696.8 956 704.0 957 698.1 958 696.6 959 697.2 960 696.6 961 693.7 962 694.3 963 697.5 964 697.5 965 696.7 966 699.2 967 698.5 968 698.4 969 703.1 970 703.8 971 697.4 972 708.8 973 699.3 974 704.7 975 701.7 976 700.1 977 706.2 978 707.3 979 708.5 980 704.0 981 702.3 982 687.6 983 704.4 984 704.6 985 705.3 986 701.3 987 703.1 988 696.6 989 696.7 990 698.0 991 703.5 992 704.5 993 702.6 994 701.0 995 701.8 996 703.9 997 702.9 998 699.5 999 700.1 1000 697.7 1001 699.9 1002 698.5 1003 695.1 1004 700.2 1005 694.1 1006 693.9 1007 697.8 1008 697.8 1009 697.0 1010 697.3 1011 698.6 1012 700.5 1013 685.2 1014 694.7 1015 694.8 1016 696.7 1017 695.2 1018 695.3 1019 699.1 1020 696.1 1021 703.8 1022 703.1 1023 702.1 1024 696.4 1025 700.1 1026 696.4 1027 707.5 1028 708.2 1029 709.1 1030 709.3 1031 700.5 1032 702.8 1033 701.3 1034 698.7 1035 697.5 1036 701.6 1037 698.1 1038 700.4 1039 696.4 1040 693.5 1041 691.8 1042 691.3 1043 693.4 1044 696.3 1045 694.8 1046 690.5 1047 690.4 1048 689.6 1049 690.2 1050 689.0 1051 692.5 1052 694.6 1053 692.4 1054 692.2 1055 692.8 1056 695.9 1057 694.0 1058 693.5 1059 690.7 1060 690.8 1061 692.7 1062 695.2 1063 697.3 1064 696.1 1065 694.5 1066 687.1 1067 683.6 1068 683.9 1069 694.3 1070 697.7 1071 692.5 1072 692.9 1073 694.4 1074 693.7 1075 693.5 1076 695.0 1077 699.9 1078 701.1 1079 699.2 1080 698.2 1081 698.4 1082 698.9 1083 703.4 1084 699.7 1085 696.9 1086 692.8 1087 691.5 1088 693.4 1089 689.3 1090 691.5 1091 689.6 1092 693.6 1093 693.4 1094 697.1 1095 696.1 1096 696.4 1097 694.5 1098 691.7 1099 689.7 1100 687.7 1101 689.2 1102 688.6 1103 684.1 1104 681.7 1105 687.3 1106 685.5 1107 684.7 1108 688.4 1109 687.8 1110 687.0 1111 688.5 1112 689.7 1113 689.6 1114 688.1 1115 686.1 1116 682.1 1117 682.6 1118 678.2 1119 677.1 1120 677.7 1121 673.1 1122 673.9 1123 677.7 1124 672.5 1125 670.8 1126 669.8 1127 670.4 1128 672.2 1129 671.3 1130 670.1 1131 668.1 1132 670.6 1133 669.1 1134 669.1 1135 670.6 1136 676.7 1137 678.5 1138 680.5 1139 682.8 1140 684.0 1141 680.0 1142 680.7 1143 683.3 1144 686.1 1145 690.0 1146 691.9 1147 689.1 1148 688.9 1149 690.3 1150 692.9 1151 695.0 1152 697.4 1153 699.6 1154 700.6 1155 701.7 1156 703.7 1157 702.4 1158 697.2 1159 693.6 1160 695.9 1161 693.0 1162 695.7 1163 690.3 1164 694.9 1165 692.9 1166 691.9 1167 691.1 1168 687.8 1169 684.8 1170 686.8 1171 689.3 1172 688.5 1173 687.9 1174 687.0 1175 682.4 1176 687.9 1177 686.2 1178 685.8 1179 685.7 1180 680.7 1181 678.2 1182 681.2 1183 682.5 1184 680.7 1185 679.6 1186 680.7 1187 683.0 1188 682.4 1189 681.9 1190 684.6 1191 677.6 1192 686.2 1193 685.9 1194 682.3 1195 694.6 1196 692.7 1197 694.6 1198 692.6 1199 688.9 1200 691.4 1201 691.2 1202 694.7 1203 695.3 1204 696.6 1205 695.4 1206 694.7 1207 695.0 1208 691.6 1209 697.7 1210 699.8 1211 703.2 1212 702.6 1213 700.6 1214 701.9 1215 701.0 1216 696.9 1217 703.3 1218 704.3 1219 701.2 1220 700.6 1221 703.7 1222 701.2 1223 697.8 1224 700.5 1225 701.7 1226 704.1 1227 705.8 1228 701.4 1229 706.5 1230 706.7 1231 709.0 1232 708.2 1233 706.9 1234 700.0 1235 701.8 1236 702.2 1237 703.4 1238 703.1 1239 703.4 1240 701.2 1241 701.0 1242 701.4 1243 703.5 1244 701.8 1245 701.2 1246 698.4 1247 696.7 1248 699.8 1249 694.8 1250 691.7 1251 690.0 1252 689.0 1253 690.1 1254 690.1 1255 693.9 1256 696.4 1257 697.2 1258 693.3 1259 690.5 1260 690.5 1261 691.9 1262 687.1 1263 688.8 1264 691.4 1265 690.3 1266 694.5 1267 687.0 1268 688.1 1269 686.9 1270 687.4 1271 685.5 1272 682.6 1273 684.3 1274 684.8 1275 685.9 1276 686.2 1277 685.4 1278 682.9 1279 680.3 1280 680.9 1281 678.0 1282 684.9 1283 681.8 1284 682.4 1285 686.3 1286 688.5 1287 686.4 1288 686.6 1289 686.8 1290 682.7 1291 684.1 1292 681.1 1293 673.4 1294 678.3 1295 676.9 1296 679.2 1297 680.9 1298 680.6 1299 680.1 1300 682.1 1301 683.0 1302 686.3 1303 688.2 1304 684.3 1305 683.2 1306 680.2 1307 678.3 1308 680.9 1309 683.9 1310 682.1 1311 675.7 1312 684.6 1313 685.8 1314 686.6 1315 684.8 1316 684.6 1317 683.0 1318 682.9 1319 683.7 1320 683.2 1321 686.2 1322 682.1 1323 682.9 1324 684.9 1325 682.2 1326 684.8 1327 686.2 1328 688.0 1329 687.9 1330 689.0 1331 691.7 1332 690.8 1333 690.0 1334 688.3 1335 688.7 1336 688.1 1337 687.7 1338 689.7 1339 688.4 1340 687.2 1341 687.0 1342 690.0 1343 682.4 1344 687.5 1345 687.9 1346 689.6 1347 689.1 1348 687.7 1349 686.8 1350 690.6 1351 687.6 1352 691.1 1353 692.0 1354 698.5 1355 695.6 1356 692.1 1357 694.0 1358 693.5 1359 700.5 1360 701.3 1361 697.7 1362 698.8 1363 701.0 1364 703.6 1365 706.7 1366 704.9 1367 703.3 1368 708.8 1369 709.3 1370 712.0 1371 707.3 1372 710.7 1373 711.2 1374 708.6 1375 708.3 1376 710.8 1377 713.8 1378 714.2 1379 717.8 1380 716.3 1381 716.9 1382 716.2 1383 722.3 1384 720.6 1385 722.4 1386 723.1 1387 716.7 1388 716.7 1389 716.9 1390 715.9 1391 718.4 1392 719.5 1393 715.2 1394 715.8 1395 716.0 1396 717.3 1397 715.3 1398 714.2 1399 710.3 1400 714.0 1401 711.8 1402 713.7 1403 714.8 1404 712.3 1405 714.7 1406 712.8 1407 710.2 1408 706.7 1409 706.5 1410 711.7 1411 708.9 1412 706.8 1413 708.6 1414 707.5 1415 705.7 1416 703.1 1417 698.9 1418 697.7 1419 702.8 1420 701.9 1421 703.5 1422 703.4 1423 701.0 1424 702.1 1425 702.8 1426 702.9 1427 704.8 1428 704.0 1429 708.9 1430 707.1 1431 706.6 1432 705.4 1433 710.1 1434 711.2 1435 709.0 1436 710.7 1437 701.2 1438 700.5 1439 706.5 1440 708.9 1441 709.6 1442 709.2 1443 709.6 1444 711.5 1445 709.1 1446 709.4 1447 706.1 1448 707.7 1449 709.1 1450 710.4 1451 710.8 1452 711.1 1453 710.3 1454 709.2 1455 711.5 1456 709.9 1457 707.6 1458 706.9 1459 707.6 1460 707.6 1461 709.4 1462 707.9 1463 713.1 1464 712.8 1465 708.7 1466 707.9 1467 706.5 1468 704.2 1469 706.0 1470 710.2 1471 710.7 1472 710.6 1473 713.9 1474 709.7 1475 711.0 1476 712.5 1477 712.3 1478 707.0 1479 712.7 1480 708.9 1481 710.9 1482 708.9 1483 708.0 1484 711.2 1485 709.6 1486 710.4 1487 710.6 1488 711.1 1489 708.5 1490 706.0 1491 701.3 1492 695.6 1493 697.6 1494 699.9 1495 693.0 1496 693.8 1497 695.4 1498 693.8 1499 688.4 1500 689.8 1501 687.2 1502 688.5 1503 688.4 1504 687.8 1505 686.5 1506 686.1 1507 684.6 1508 681.6 1509 678.5 1510 677.6 1511 677.2 1512 677.8 1513 677.3 1514 678.0 1515 677.8 1516 674.1 1517 677.3 1518 679.3 1519 678.1 1520 678.4 1521 678.4 1522 678.7 1523 676.1 1524 679.5 1525 676.2 1526 677.3 1527 675.5 1528 667.4 1529 675.8 1530 676.5 1531 675.5 1532 676.2 1533 679.8 1534 680.9 1535 680.6 1536 679.0 1537 676.3 1538 678.2 1539 671.7 1540 676.8 1541 675.5 1542 676.5 1543 676.9 1544 665.7 1545 670.9 1546 673.8 1547 675.0 1548 675.7 1549 674.9 1550 673.6 1551 672.6 1552 672.0 1553 669.2 1554 668.0 1555 665.8 1556 670.5 1557 669.8 1558 668.1 1559 670.7 1560 673.3 1561 675.3 1562 673.4 1563 675.0 1564 673.4 1565 675.9 1566 674.2 1567 674.8 1568 675.0 1569 671.5 1570 670.3 1571 674.3 1572 671.9 1573 666.7 1574 667.6 1575 665.2 1576 665.4 1577 666.2 1578 665.2 1579 664.9 1580 661.5 1581 664.0 1582 661.5 1583 669.0 1584 665.4 1585 665.7 1586 665.2 1587 666.9 1588 664.0 1589 667.5 1590 665.3 1591 664.8 1592 663.9 1593 664.0 1594 661.5 1595 659.7 1596 660.4 1597 659.5 1598 663.2 1599 648.9 1600 660.3 1601 656.5 1602 655.5 1603 661.4 1604 661.9 1605 660.3 1606 658.6 1607 657.8 1608 659.3 1609 654.8 1610 649.1 1611 648.9 1612 646.4 1613 646.3 1614 642.4 1615 640.3 1616 643.9 1617 638.4 1618 636.7 1619 634.1 1620 633.1 1621 629.8 1622 629.0 1623 630.9 1624 631.7 1625 634.6 1626 636.2 1627 636.9 1628 632.3 1629 629.8 1630 632.9 1631 632.8 1632 629.0 1633 627.6 1634 627.6 1635 628.4 1636 629.3 1637 630.0 1638 633.1 1639 632.5 1640 628.5 1641 627.0 1642 627.9 1643 629.5 1644 632.3 1645 631.5 1646 630.6 1647 625.6 1648 629.4 1649 634.9 1650 637.8 1651 639.5 1652 638.9 1653 637.1 1654 626.2 1655 633.4 1656 637.2 1657 626.7 1658 637.0 1659 633.2 1660 637.1 1661 635.4 1662 629.7 1663 629.5 1664 635.9 1665 636.3 1666 640.8 1667 641.7 1668 641.2 1669 637.4 1670 639.7 1671 638.2 1672 638.4 1673 630.4 1674 635.7 1675 639.0 1676 638.4 1677 637.2 1678 635.6 1679 635.9 1680 639.2 1681 638.8 1682 639.3 1683 634.5 1684 636.6 1685 633.3 1686 636.9 1687 643.2 1688 639.8 1689 638.5 1690 640.1 1691 647.7 1692 649.1 1693 644.1 1694 643.0 1695 645.1 1696 648.5 1697 647.9 1698 649.4 1699 651.0 1700 648.7 1701 646.1 1702 648.7 1703 654.7 1704 655.4 1705 653.8 1706 655.7 1707 655.3 1708 644.8 1709 650.9 1710 646.3 1711 650.2 1712 653.6 1713 652.3 1714 652.6 1715 648.1 1716 646.8 1717 648.0 1718 650.5 1719 653.5 1720 653.2 1721 654.4 1722 652.4 1723 653.3 1724 648.3 1725 659.8 1726 661.9 1727 663.2 1728 662.7 1729 663.7 1730 664.0 1731 662.6 1732 664.1 1733 656.9 1734 657.9 1735 660.7 1736 661.4 1737 662.0 1738 663.8 1739 665.7 1740 667.8 1741 669.1 1742 668.1 1743 670.2 1744 666.9 1745 667.4 1746 671.1 1747 671.4 1748 670.8 1749 671.7 1750 671.5 1751 670.4 1752 671.0 1753 672.5 1754 667.1 1755 668.8 1756 665.1 1757 664.7 1758 666.6 1759 671.7 1760 674.0 1761 673.9 1762 673.5L1762 687.0 1761 686.7 1760 690.2 1759 684.1 1758 682.4 1757 683.7 1756 683.7 1755 685.7 1754 683.9 1753 685.5 1752 688.2 1751 687.6 1750 684.2 1749 684.4 1748 683.8 1747 685.8 1746 696.3 1745 683.0 1744 682.6 1743 684.5 1742 682.4 1741 693.6 1740 681.3 1739 680.3 1738 678.4 1737 677.3 1736 673.9 1735 673.2 1734 680.6 1733 679.6 1732 678.6 1731 677.6 1730 677.8 1729 677.6 1728 676.6 1727 675.9 1726 674.9 1725 674.4 1724 672.4 1723 669.5 1722 669.8 1721 671.8 1720 665.4 1719 665.7 1718 664.7 1717 667.0 1716 668.6 1715 671.1 1714 666.7 1713 668.5 1712 666.8 1711 662.9 1710 664.9 1709 667.8 1708 667.8 1707 669.2 1706 668.3 1705 666.7 1704 668.3 1703 671.4 1702 664.0 1701 661.3 1700 660.2 1699 665.5 1698 663.9 1697 663.8 1696 663.3 1695 661.3 1694 662.7 1693 663.8 1692 663.0 1691 661.7 1690 658.9 1689 656.8 1688 658.1 1687 657.8 1686 655.0 1685 651.4 1684 652.6 1683 653.2 1682 652.1 1681 651.5 1680 661.1 1679 649.6 1678 648.9 1677 650.1 1676 650.2 1675 651.6 1674 648.2 1673 649.2 1672 650.2 1671 650.1 1670 651.9 1669 652.4 1668 656.2 1667 661.6 1666 660.4 1665 651.5 1664 651.1 1663 649.9 1662 650.5 1661 654.6 1660 650.0 1659 650.5 1658 649.8 1657 647.2 1656 648.6 1655 644.7 1654 645.9 1653 660.4 1652 654.2 1651 651.1 1650 649.4 1649 649.5 1648 650.5 1647 646.8 1646 645.8 1645 646.6 1644 645.1 1643 643.2 1642 641.6 1641 642.2 1640 646.9 1639 649.4 1638 647.3 1637 643.7 1636 643.0 1635 641.5 1634 641.5 1633 643.5 1632 647.8 1631 651.7 1630 645.2 1629 649.8 1628 652.3 1627 652.1 1626 648.2 1625 646.6 1624 645.9 1623 645.2 1622 645.0 1621 646.5 1620 648.7 1619 650.9 1618 653.5 1617 655.1 1616 661.7 1615 661.5 1614 663.2 1613 666.2 1612 666.3 1611 667.1 1610 667.4 1609 667.4 1608 682.6 1607 671.6 1606 672.5 1605 674.1 1604 674.6 1603 674.1 1602 671.8 1601 676.0 1600 679.8 1599 677.7 1598 679.5 1597 675.8 1596 676.7 1595 672.5 1594 675.3 1593 675.4 1592 680.5 1591 681.5 1590 680.1 1589 687.6 1588 688.4 1587 691.2 1586 682.5 1585 683.0 1584 682.7 1583 682.3 1582 677.1 1581 679.3 1580 681.1 1579 684.5 1578 686.4 1577 687.1 1576 680.7 1575 686.5 1574 690.1 1573 689.3 1572 684.1 1571 686.5 1570 685.9 1569 686.4 1568 690.7 1567 691.2 1566 690.6 1565 692.4 1564 692.1 1563 691.2 1562 691.3 1561 689.7 1560 687.7 1559 686.8 1558 683.5 1557 683.3 1556 685.7 1555 683.5 1554 685.8 1553 686.1 1552 687.2 1551 687.9 1550 688.9 1549 687.4 1548 694.2 1547 693.4 1546 692.2 1545 688.8 1544 689.2 1543 689.2 1542 689.1 1541 689.8 1540 695.9 1539 690.3 1538 692.4 1537 689.5 1536 692.1 1535 697.7 1534 697.9 1533 692.6 1532 691.3 1531 690.7 1530 689.5 1529 691.3 1528 688.0 1527 691.0 1526 694.6 1525 693.6 1524 694.2 1523 690.2 1522 693.5 1521 695.6 1520 694.7 1519 696.5 1518 696.1 1517 694.9 1516 693.4 1515 691.6 1514 697.2 1513 692.8 1512 692.6 1511 692.0 1510 692.6 1509 694.4 1508 698.7 1507 697.5 1506 701.4 1505 700.2 1504 701.5 1503 701.0 1502 704.6 1501 705.5 1500 704.5 1499 703.2 1498 708.4 1497 709.9 1496 715.9 1495 712.7 1494 715.9 1493 713.7 1492 711.9 1491 717.7 1490 719.8 1489 722.9 1488 725.5 1487 724.8 1486 724.5 1485 723.5 1484 725.1 1483 727.5 1482 727.8 1481 724.5 1480 725.4 1479 727.2 1478 721.5 1477 724.1 1476 725.4 1475 725.7 1474 724.6 1473 726.4 1472 723.1 1471 722.8 1470 722.9 1469 725.6 1468 723.7 1467 725.6 1466 724.9 1465 723.7 1464 727.7 1463 726.7 1462 727.1 1461 727.0 1460 722.7 1459 723.8 1458 723.1 1457 723.4 1456 725.6 1455 726.1 1454 728.9 1453 730.0 1452 730.9 1451 729.5 1450 725.3 1449 723.9 1448 724.1 1447 722.7 1446 726.0 1445 723.7 1444 723.8 1443 725.2 1442 725.6 1441 726.8 1440 722.4 1439 719.9 1438 726.2 1437 723.3 1436 724.0 1435 720.5 1434 729.4 1433 729.4 1432 726.2 1431 721.4 1430 725.1 1429 726.9 1428 721.2 1427 717.2 1426 716.0 1425 715.5 1424 715.2 1423 713.2 1422 717.2 1421 717.2 1420 714.9 1419 716.6 1418 712.1 1417 713.3 1416 717.5 1415 720.1 1414 721.8 1413 721.2 1412 719.4 1411 723.3 1410 723.8 1409 722.8 1408 725.5 1407 730.5 1406 733.1 1405 735.0 1404 732.2 1403 738.6 1402 726.1 1401 725.3 1400 730.1 1399 727.3 1398 728.0 1397 728.9 1396 731.0 1395 731.0 1394 732.3 1393 732.4 1392 736.7 1391 735.6 1390 731.9 1389 733.2 1388 733.0 1387 737.3 1386 739.1 1385 734.9 1384 733.7 1383 734.8 1382 733.1 1381 733.8 1380 733.0 1379 734.7 1378 731.3 1377 730.2 1376 736.9 1375 724.9 1374 726.9 1373 726.9 1372 726.4 1371 723.5 1370 723.7 1369 721.0 1368 721.9 1367 721.2 1366 719.6 1365 723.7 1364 723.2 1363 722.8 1362 720.0 1361 718.9 1360 718.8 1359 714.2 1358 709.2 1357 712.6 1356 710.2 1355 709.6 1354 712.5 1353 708.2 1352 707.3 1351 708.7 1350 710.1 1349 705.9 1348 706.7 1347 708.2 1346 702.5 1345 704.9 1344 704.5 1343 704.3 1342 704.7 1341 701.2 1340 701.7 1339 701.7 1338 711.0 1337 700.1 1336 700.4 1335 712.0 1334 701.6 1333 703.2 1332 703.3 1331 707.6 1330 705.0 1329 704.7 1328 701.9 1327 702.1 1326 701.7 1325 699.7 1324 701.4 1323 700.9 1322 696.8 1321 698.6 1320 695.6 1319 703.2 1318 698.1 1317 698.3 1316 701.6 1315 699.8 1314 701.2 1313 699.7 1312 700.6 1311 698.0 1310 698.1 1309 699.8 1308 696.9 1307 694.3 1306 699.3 1305 700.6 1304 701.2 1303 704.2 1302 700.5 1301 696.7 1300 695.8 1299 695.0 1298 694.7 1297 692.8 1296 696.4 1295 689.7 1294 691.1 1293 691.6 1292 699.2 1291 709.8 1290 697.9 1289 701.0 1288 698.1 1287 698.2 1286 700.3 1285 698.6 1284 695.6 1283 700.1 1282 698.2 1281 700.7 1280 698.5 1279 697.9 1278 696.8 1277 699.3 1276 701.0 1275 701.1 1274 700.0 1273 701.1 1272 698.7 1271 700.3 1270 701.6 1269 701.2 1268 706.1 1267 705.4 1266 708.9 1265 704.7 1264 705.8 1263 705.0 1262 701.8 1261 707.9 1260 707.9 1259 705.0 1258 705.7 1257 710.1 1256 707.9 1255 706.9 1254 715.6 1253 707.8 1252 708.6 1251 710.3 1250 709.6 1249 708.0 1248 714.0 1247 712.2 1246 713.9 1245 717.6 1244 726.0 1243 716.5 1242 714.6 1241 714.2 1240 715.9 1239 717.6 1238 716.8 1237 716.6 1236 719.1 1235 716.6 1234 715.6 1233 718.6 1232 720.8 1231 724.5 1230 727.1 1229 726.3 1228 725.2 1227 721.2 1226 719.3 1225 717.9 1224 716.8 1223 714.1 1222 713.1 1221 715.2 1220 713.5 1219 713.7 1218 717.7 1217 716.7 1216 717.0 1215 714.1 1214 715.0 1213 714.8 1212 716.5 1211 717.1 1210 713.2 1209 711.1 1208 710.4 1207 711.5 1206 711.3 1205 713.6 1204 713.0 1203 713.8 1202 713.3 1201 712.2 1200 713.9 1199 710.4 1198 709.7 1197 707.0 1196 708.1 1195 711.8 1194 709.8 1193 701.2 1192 700.1 1191 697.5 1190 699.4 1189 696.6 1188 697.8 1187 695.5 1186 693.4 1185 695.8 1184 696.9 1183 698.6 1182 695.1 1181 696.5 1180 699.0 1179 702.2 1178 702.3 1177 703.1 1176 700.7 1175 701.6 1174 699.7 1173 700.5 1172 701.1 1171 703.0 1170 707.4 1169 705.4 1168 705.0 1167 705.6 1166 706.6 1165 707.6 1164 718.5 1163 712.8 1162 712.1 1161 709.4 1160 708.2 1159 707.7 1158 711.3 1157 718.5 1156 719.8 1155 717.0 1154 716.6 1153 712.2 1152 709.9 1151 707.6 1150 709.7 1149 707.1 1148 701.9 1147 703.7 1146 706.3 1145 702.7 1144 700.7 1143 697.9 1142 696.0 1141 698.3 1140 697.9 1139 696.7 1138 694.4 1137 697.0 1136 695.1 1135 690.1 1134 688.2 1133 688.2 1132 697.6 1131 682.8 1130 687.9 1129 686.4 1128 689.1 1127 689.8 1126 691.3 1125 687.6 1124 689.3 1123 689.1 1122 692.0 1121 693.8 1120 696.6 1119 697.5 1118 698.6 1117 696.2 1116 698.5 1115 702.5 1114 704.6 1113 704.1 1112 702.2 1111 703.0 1110 701.4 1109 702.6 1108 703.2 1107 702.2 1106 700.6 1105 702.3 1104 699.5 1103 699.9 1102 701.3 1101 701.9 1100 702.7 1099 704.7 1098 706.7 1097 717.8 1096 714.0 1095 713.7 1094 715.7 1093 707.8 1092 708.0 1091 706.8 1090 707.2 1089 709.8 1088 706.2 1087 713.4 1086 714.6 1085 713.0 1084 721.0 1083 719.5 1082 714.0 1081 713.5 1080 710.1 1079 712.8 1078 714.8 1077 713.7 1076 711.4 1075 709.8 1074 710.2 1073 712.8 1072 710.2 1071 709.9 1070 711.8 1069 709.8 1068 707.1 1067 706.9 1066 708.6 1065 708.5 1064 710.3 1063 711.0 1062 708.9 1061 708.8 1060 707.6 1059 707.6 1058 707.0 1057 707.8 1056 709.8 1055 706.7 1054 706.2 1053 706.4 1052 708.7 1051 707.5 1050 701.3 1049 702.8 1048 703.9 1047 704.8 1046 704.9 1045 707.7 1044 709.7 1043 708.6 1042 711.2 1041 707.8 1040 712.2 1039 713.4 1038 712.8 1037 710.5 1036 717.8 1035 717.5 1034 718.7 1033 720.7 1032 720.0 1031 717.7 1030 724.5 1029 724.8 1028 727.8 1027 725.9 1026 724.7 1025 722.9 1024 715.8 1023 717.8 1022 718.1 1021 716.0 1020 711.5 1019 714.3 1018 713.0 1017 713.5 1016 714.9 1015 710.9 1014 710.8 1013 709.3 1012 718.5 1011 716.6 1010 715.2 1009 712.1 1008 713.2 1007 709.9 1006 712.5 1005 712.1 1004 716.2 1003 714.6 1002 715.1 1001 716.1 1000 716.1 999 717.1 998 714.6 997 718.9 996 719.6 995 721.0 994 713.9 993 715.6 992 718.0 991 717.8 990 721.1 989 719.7 988 719.8 987 715.8 986 722.2 985 726.2 984 721.2 983 721.6 982 718.7 981 720.3 980 718.5 979 720.2 978 718.8 977 717.7 976 713.7 975 713.0 974 715.9 973 717.1 972 721.1 971 717.2 970 717.9 969 717.2 968 711.7 967 713.3 966 715.4 965 712.9 964 712.5 963 711.8 962 716.5 961 715.9 960 718.7 959 715.3 958 714.7 957 716.2 956 720.7 955 721.5 954 717.5 953 719.4 952 722.0 951 720.1 950 721.5 949 723.1 948 724.0 947 724.1 946 726.9 945 726.7 944 726.8 943 729.2 942 729.1 941 727.8 940 730.6 939 728.8 938 733.0 937 726.7 936 722.4 935 727.4 934 726.4 933 722.4 932 718.7 931 718.7 930 715.0 929 715.9 928 718.5 927 719.6 926 722.6 925 723.1 924 721.0 923 721.8 922 724.7 921 729.9 920 725.2 919 720.9 918 723.6 917 730.7 916 732.9 915 731.7 914 728.5 913 726.1 912 727.6 911 728.3 910 730.7 909 732.7 908 733.9 907 733.1 906 735.6 905 732.9 904 732.9 903 733.0 902 732.7 901 732.7 900 728.3 899 731.5 898 734.2 897 735.3 896 732.9 895 735.5 894 737.3 893 737.7 892 734.1 891 733.1 890 729.8 889 733.1 888 733.0 887 732.1 886 736.2 885 735.9 884 738.0 883 737.6 882 736.7 881 738.5 880 739.9 879 742.5 878 740.4 877 739.6 876 738.8 875 740.3 874 744.1 873 742.9 872 743.1 871 737.9 870 738.6 869 738.5 868 741.7 867 742.7 866 745.5 865 744.3 864 744.2 863 740.0 862 740.3 861 740.3 860 740.3 859 737.7 858 738.6 857 736.9 856 736.0 855 737.3 854 734.1 853 735.8 852 731.6 851 731.7 850 732.4 849 742.6 848 743.0 847 740.3 846 731.9 845 735.7 844 733.3 843 733.1 842 731.9 841 735.2 840 732.7 839 729.8 838 729.5 837 730.0 836 729.9 835 727.2 834 726.1 833 725.4 832 725.8 831 727.3 830 730.7 829 731.1 828 731.0 827 730.8 826 733.7 825 736.0 824 734.9 823 737.4 822 736.2 821 740.9 820 747.3 819 735.8 818 736.5 817 735.2 816 737.0 815 737.8 814 737.8 813 744.0 812 743.7 811 750.7 810 740.3 809 744.2 808 747.5 807 747.0 806 748.2 805 748.7 804 746.4 803 746.7 802 751.5 801 745.8 800 743.8 799 746.7 798 747.2 797 742.9 796 744.5 795 741.4 794 742.6 793 746.8 792 747.1 791 746.0 790 747.1 789 748.3 788 751.5 787 747.1 786 746.0 785 748.0 784 752.9 783 750.7 782 750.7 781 750.3 780 748.4 779 746.3 778 745.3 777 744.4 776 745.2 775 747.3 774 746.3 773 746.5 772 749.2 771 749.9 770 750.4 769 750.2 768 752.6 767 752.5 766 751.3 765 751.7 764 758.8 763 753.1 762 756.6 761 760.1 760 760.6 759 754.0 758 756.3 757 756.7 756 759.2 755 760.1 754 758.5 753 759.0 752 760.1 751 758.7 750 758.3 749 758.6 748 759.4 747 761.0 746 758.9 745 760.8 744 760.3 743 753.3 742 753.3 741 757.1 740 758.9 739 758.9 738 759.9 737 761.4 736 763.2 735 760.3 734 760.6 733 763.7 732 763.6 731 765.2 730 765.3 729 766.1 728 769.4 727 768.4 726 765.4 725 758.6 724 757.6 723 757.8 722 761.8 721 760.9 720 769.0 719 759.9 718 763.4 717 760.8 716 760.8 715 762.1 714 762.1 713 760.9 712 761.9 711 759.2 710 761.8 709 767.9 708 763.4 707 761.5 706 763.3 705 765.0 704 764.3 703 766.8 702 768.5 701 770.7 700 772.4 699 770.5 698 770.3 697 771.6 696 779.0 695 777.2 694 785.0 693 776.9 692 774.4 691 771.3 690 774.0 689 773.0 688 773.6 687 772.7 686 774.8 685 777.4 684 786.2 683 786.2 682 787.8 681 784.9 680 785.4 679 787.3 678 787.3 677 790.6 676 794.7 675 802.0 674 804.2 673 807.8 672 814.6 671 809.7 670 814.1 669 814.7 668 812.8 667 814.9 666 816.6 665 816.5 664 818.1 663 817.5 662 818.2 661 819.3 660 823.1 659 827.8 658 825.0 657 823.7 656 827.3 655 827.0 654 825.0 653 825.0 652 822.9 651 823.5 650 823.9 649 823.6 648 829.0 647 831.7 646 845.2 645 832.2 644 831.4 643 831.9 642 834.8 641 833.8 640 840.3 639 841.5 638 838.7 637 836.0 636 838.6 635 846.4 634 843.5 633 843.9 632 850.0 631 851.0 630 849.5 629 854.5 628 855.4 627 855.4 626 857.3 625 858.3 624 859.2 623 862.5 622 868.0 621 869.1 620 876.7 619 865.9 618 865.1 617 866.2 616 868.8 615 872.2 614 873.4 613 876.3 612 874.1 611 873.7 610 878.5 609 878.7 608 881.4 607 878.6 606 881.2 605 883.0 604 879.9 603 887.0 602 878.7 601 883.2 600 882.5 599 885.4 598 885.5 597 883.8 596 884.3 595 885.6 594 887.4 593 889.8 592 886.2 591 887.5 590 892.0 589 893.8 588 893.7 587 895.1 586 897.2 585 898.5 584 898.2 583 895.8 582 897.2 581 895.5 580 899.4 579 902.3 578 900.3 577 901.5 576 905.7 575 904.7 574 904.5 573 906.1 572 908.3 571 909.0 570 910.7 569 910.5 568 909.5 567 912.8 566 913.0 565 916.1 564 922.5 563 920.7 562 921.7 561 923.2 560 923.4 559 925.6 558 928.6 557 932.2 556 937.5 555 942.5 554 941.0 553 942.6 552 940.2 551 944.9 550 949.9 549 949.7 548 955.7 547 963.9 546 971.1 545 967.9 544 970.3 543 975.3 542 983.1 541 982.8 540 982.4 539 979.5 538 986.1 537 986.9 536 986.4 535 987.3 534 991.1 533 999.1 532 1011.1 531 1003.5 530 1009.4 529 1008.8 528 1012.4 527 1012.4 526 1016.9 525 1021.0 524 1028.2 523 1035.8 522 1035.4 521 1035.3 520 1040.9 519 1043.1 518 1050.7 517 1049.7 516 1053.2 515 1055.0 514 1057.0 513 1057.8 512 1060.5 511 1062.0 510 1060.2 509 1062.4 508 1064.4 507 1067.2 506 1065.3 505 1064.8 504 1068.4 503 1070.6 502 1072.5 501 1077.1 500 1075.7 499 1083.0 498 1084.9 497 1090.2 496 1086.7 495 1090.6 494 1091.7 493 1101.5 492 1097.0 491 1098.2 490 1098.4 489 1103.9 488 1105.8 487 1114.4 486 1116.4 485 1119.4 484 1118.7 483 1125.9 482 1129.1 481 1131.8 480 1132.8 479 1137.6 478 1143.4 477 1145.3 476 1149.5 475 1151.6 474 1150.6 473 1155.7 472 1155.7 471 1158.3 470 1158.6 469 1160.6 468 1161.5 467 1165.7 466 1170.9 465 1174.8 464 1177.3 463 1181.2 462 1183.9 461 1187.7 460 1192.4 459 1195.8 458 1197.0 457 1201.9 456 1204.8 455 1208.5 454 1211.5 453 1213.3 452 1216.0 451 1216.7 450 1217.5 449 1217.3 448 1217.2 447 1217.7 446 1218.9 445 1218.8 444 1219.2 443 1219.7Z"/><path fill="none" stroke-width="3.5" stroke-linejoin="round" d="M443 1217.6 444 1215.9 445 1215.5 446 1215.7 447 1214.6 448 1214.1 449 1214.2 450 1213.0 451 1212.2 452 1211.5 453 1209.5 454 1207.8 455 1204.3 456 1200.6 457 1197.6 458 1193.1 459 1190.9 460 1187.5 461 1182.8 462 1180.8 463 1178.1 464 1174.1 465 1169.8 466 1167.0 467 1161.7 468 1157.3 469 1156.8 470 1154.6 471 1153.8 472 1151.0 473 1150.8 474 1145.3 475 1143.9 476 1141.6 477 1139.2 478 1137.1 479 1131.2 480 1126.4 481 1125.2 482 1122.5 483 1119.1 484 1111.9 485 1111.5 486 1108.4 487 1106.4 488 1100.1 489 1098.2 490 1091.8 491 1091.5 492 1089.6 493 1088.1 494 1084.3 495 1083.2 496 1081.0 497 1076.2 498 1075.4 499 1073.5 500 1069.4 501 1069.9 502 1065.9 503 1063.3 504 1058.9 505 1055.4 506 1055.9 507 1059.3 508 1056.5 509 1054.4 510 1052.3 511 1052.4 512 1054.4 513 1052.1 514 1048.8 515 1047.7 516 1045.9 517 1042.4 518 1039.7 519 1035.4 520 1033.2 521 1028.1 522 1028.2 523 1027.6 524 1019.9 525 1013.1 526 1009.0 527 1006.3 528 1005.7 529 1002.0 530 1001.1 531 995.2 532 992.3 533 989.5 534 985.2 535 981.3 536 980.4 537 978.6 538 977.7 539 971.2 540 971.7 541 972.1 542 972.4 543 968.2 544 963.2 545 960.7 546 957.3 547 955.4 548 947.2 549 943.4 550 940.8 551 935.7 552 931.1 553 932.2 554 930.6 555 926.3 556 927.7 557 924.8 558 921.3 559 918.3 560 915.9 561 915.7 562 914.2 563 913.2 564 910.7 565 910.4 566 907.3 567 906.6 568 903.3 569 904.3 570 904.4 571 902.7 572 902.0 573 899.8 574 898.2 575 897.9 576 898.9 577 894.7 578 893.5 579 894.3 580 891.3 581 888.6 582 890.3 583 888.9 584 891.8 585 892.0 586 890.8 587 889.2 588 887.7 589 886.1 590 884.3 591 881.0 592 879.7 593 880.0 594 877.6 595 875.3 596 874.0 597 877.0 598 878.8 599 878.6 600 876.3 601 877.0 602 872.5 603 873.2 604 872.6 605 875.7 606 875.2 607 872.7 608 871.7 609 869.0 610 868.8 611 866.9 612 867.3 613 867.9 614 864.5 615 866.1 616 859.9 617 857.3 618 858.7 619 859.5 620 861.7 621 859.3 622 857.2 623 856.7 624 853.4 625 852.5 626 849.4 627 846.9 628 846.8 629 845.9 630 842.3 631 843.1 632 838.4 633 837.6 634 837.2 635 834.5 636 830.8 637 828.1 638 828.2 639 831.0 640 829.8"/></g><g fill="#a6f43a" stroke="#a6f43a" opacity="1.00"><path stroke="none" d="M443 1214.6 444 1214.0 445 1213.3 446 1212.7 447 1211.9 448 1210.5 449 1207.3 450 1204.3 451 1202.4 452 1197.2 453 1189.9 454 1191.2 455 1186.9 456 1183.0 457 1179.2 458 1175.8 459 1169.4 460 1165.6 461 1161.9 462 1159.0 463 1156.2 464 1151.7 465 1146.9 466 1144.7 467 1139.2 468 1134.7 469 1134.4 470 1130.5 471 1129.8 472 1123.1 473 1118.4 474 1114.8 475 1109.5 476 1104.8 477 1096.6 478 1105.3 479 1103.6 480 1100.6 481 1096.2 482 1093.7 483 1090.7 484 1087.4 485 1084.8 486 1081.4 487 1079.8 488 1075.5 489 1075.3 490 1069.4 491 1066.6 492 1061.2 493 1055.1 494 1051.9 495 1043.4 496 1038.3 497 1032.9 498 1030.9 499 1025.9 500 1020.8 501 1018.8 502 1014.2 503 1007.2 504 1008.1 505 1005.2 506 995.4 507 993.8 508 989.4 509 981.6 510 977.4 511 978.6 512 960.3 513 970.3 514 966.6 515 963.1 516 960.1 517 957.1 518 955.5 519 953.7 520 943.2 521 950.3 522 946.9 523 946.1 524 943.1 525 942.0 526 937.9 527 928.6 528 935.6 529 929.8 530 923.4 531 926.9 532 924.3 533 923.8 534 924.0 535 919.9 536 920.7 537 918.6 538 919.9 539 916.4 540 908.8 541 906.9 542 902.7 543 903.8 544 901.7 545 903.9 546 902.4 547 898.3 548 894.6 549 892.4 550 879.9 551 881.5 552 889.5 553 887.9 554 889.8 555 887.6 556 885.2 557 881.5 558 882.7 559 881.2 560 883.1 561 879.2 562 878.5 563 877.5 564 877.3 565 876.6 566 874.4 567 871.4 568 866.3 569 866.8 570 870.5 571 869.3 572 869.4 573 868.1 574 867.7 575 864.3 576 861.4 577 865.9 578 861.8 579 860.4 580 857.1 581 858.1 582 856.6 583 858.1 584 858.8 585 856.9 586 855.1 587 850.6 588 850.7 589 850.1 590 846.0 591 845.0 592 837.8 593 833.4 594 830.1 595 827.9 596 829.3 597 828.6 598 829.1 599 827.2 600 826.6 601 823.0 602 823.6 603 820.9 604 822.2 605 821.8 606 820.5 607 819.0 608 819.7 609 816.6 610 816.5 611 816.0 612 815.5 613 813.5 614 813.4 615 809.2 616 805.4 617 805.7 618 803.2 619 810.9 620 809.6 621 807.3 622 802.4 623 803.3 624 808.0 625 806.7 626 806.9 627 804.1 628 802.5 629 798.5 630 796.8 631 785.6 632 790.3 633 793.0 634 795.9 635 796.2 636 794.4 637 787.2 638 786.2 639 780.3 640 785.8 641 781.5 642 792.0 643 790.6 644 792.0 645 789.3 646 789.6 647 786.6 648 788.0 649 787.4 650 784.5 651 772.9 652 779.2 653 778.0 654 783.4 655 782.2 656 782.2 657 783.2 658 783.7 659 778.2 660 779.4 661 774.8 662 776.5 663 775.6 664 778.9 665 776.1 666 772.3 667 767.3 668 767.9 669 767.8 670 768.1 671 766.6 672 763.4 673 763.9 674 759.6 675 755.2 676 758.0 677 756.2 678 755.6 679 756.7 680 755.8 681 750.3 682 753.4 683 746.1 684 751.6 685 752.1 686 755.1 687 757.5 688 753.9 689 748.8 690 752.8 691 751.1 692 751.8 693 755.1 694 750.9 695 748.7 696 748.6 697 751.0 698 750.2 699 750.4 700 747.4 701 748.4 702 747.7 703 744.8 704 743.0 705 743.7 706 743.8 707 744.1 708 741.3 709 740.4 710 739.3 711 743.6 712 742.8 713 732.7 714 730.7 715 730.5 716 741.3 717 737.9 718 732.2 719 732.8 720 741.0 721 735.3 722 736.5 723 735.2 724 735.9 725 734.9 726 733.7 727 734.1 728 733.6 729 732.5 730 735.8 731 731.1 732 730.3 733 733.5 734 733.6 735 730.4 736 728.3 737 729.5 738 730.5 739 729.4 740 731.3 741 731.3 742 723.9 743 730.2 744 727.0 745 729.1 746 732.0 747 729.5 748 732.3 749 735.7 750 737.2 751 734.9 752 735.1 753 734.3 754 729.4 755 735.5 756 736.4 757 734.9 758 733.5 759 737.6 760 736.3 761 736.9 762 733.8 763 736.9 764 734.4 765 732.4 766 739.5 767 739.1 768 737.6 769 738.8 770 740.0 771 738.4 772 742.3 773 745.8 774 746.9 775 748.2 776 750.4 777 749.9 778 749.7 779 748.1 780 749.5 781 750.8 782 749.7 783 754.7 784 752.5 785 750.5 786 744.5 787 742.5 788 747.0 789 745.0 790 742.0 791 737.3 792 734.7 793 731.0 794 726.8 795 730.5 796 729.5 797 727.6 798 726.7 799 724.1 800 725.4 801 729.9 802 725.9 803 728.2 804 727.4 805 728.2 806 725.2 807 724.3 808 720.5 809 714.7 810 713.7 811 718.0 812 719.5 813 719.2 814 718.3 815 713.7 816 711.1 817 710.2 818 710.3 819 707.3 820 702.9 821 705.5 822 706.8 823 713.3 824 710.9 825 708.1 826 708.0 827 705.6 828 703.8 829 703.0 830 690.5 831 705.6 832 707.0 833 707.4 834 706.3 835 706.8 836 703.3 837 701.3 838 696.3 839 695.8 840 697.3 841 701.7 842 703.7 843 702.9 844 701.8 845 704.8 846 707.6 847 706.7 848 707.7 849 707.1 850 707.5 851 707.6 852 702.9 853 702.2 854 701.8 855 706.2 856 709.4 857 709.4 858 710.6 859 696.9 860 701.9 861 701.7 862 705.4 863 704.6 864 694.4 865 702.1 866 701.1 867 700.9 868 699.3 869 693.3 870 693.9 871 694.8 872 696.4 873 695.9 874 694.8 875 696.4 876 694.8 877 693.9 878 692.6 879 692.0 880 693.1 881 698.4 882 698.5 883 701.3 884 705.3 885 705.4 886 706.4 887 707.3 888 705.3 889 707.1 890 709.5 891 707.9 892 710.7 893 711.6 894 709.9 895 710.4 896 709.2 897 706.0 898 703.9 899 705.4 900 704.1 901 705.3 902 705.3 903 705.3 904 705.5 905 704.6 906 705.8 907 707.9 908 706.5 909 709.5 910 710.5 911 705.4 912 708.9 913 710.0 914 714.4 915 713.6 916 715.2 917 711.8 918 708.0 919 707.5 920 704.0 921 710.1 922 710.0 923 704.8 924 710.2 925 712.1 926 713.5 927 711.1 928 709.1 929 708.4 930 709.5 931 711.5 932 709.8 933 710.2 934 709.3 935 711.6 936 710.8 937 716.7 938 718.2 939 718.2 940 717.6 941 718.3 942 718.5 943 718.4 944 717.6 945 715.4 946 713.5 947 716.4 948 715.9 949 714.3 950 712.6 951 713.6 952 713.2 953 717.3 954 715.1 955 713.3 956 713.0 957 707.1 958 708.0 959 704.6 960 708.1 961 708.0 962 707.4 963 707.4 964 702.3 965 704.8 966 704.8 967 704.7 968 709.2 969 707.5 970 706.0 971 701.1 972 702.5 973 702.5 974 704.8 975 704.6 976 702.0 977 695.0 978 703.0 979 704.9 980 704.2 981 702.1 982 701.1 983 702.4 984 701.7 985 699.0 986 699.5 987 701.9 988 701.5 989 699.0 990 702.3 991 700.2 992 701.1 993 701.9 994 701.0 995 696.5 996 701.4 997 697.9 998 697.6 999 698.7 1000 702.1 1001 700.0 1002 700.3 1003 695.9 1004 691.9 1005 693.7 1006 694.7 1007 693.3 1008 694.9 1009 690.2 1010 687.7 1011 688.8 1012 692.0 1013 693.4 1014 690.4 1015 688.7 1016 689.3 1017 691.3 1018 695.7 1019 696.7 1020 691.1 1021 694.3 1022 688.4 1023 687.9 1024 688.5 1025 695.4 1026 693.5 1027 694.4 1028 689.3 1029 691.8 1030 691.6 1031 695.6 1032 696.1 1033 695.1 1034 696.0 1035 693.7 1036 694.6 1037 691.6 1038 694.6 1039 694.4 1040 692.3 1041 688.2 1042 689.9 1043 693.4 1044 695.1 1045 692.3 1046 693.7 1047 689.5 1048 688.7 1049 692.6 1050 689.6 1051 681.5 1052 680.3 1053 681.5 1054 684.3 1055 686.0 1056 685.7 1057 682.2 1058 683.6 1059 679.1 1060 683.4 1061 685.1 1062 687.2 1063 688.3 1064 684.8 1065 683.9 1066 683.6 1067 681.2 1068 683.1 1069 684.4 1070 680.8 1071 680.6 1072 682.3 1073 679.5 1074 677.8 1075 675.2 1076 675.4 1077 675.0 1078 675.2 1079 673.5 1080 668.3 1081 671.8 1082 675.9 1083 673.0 1084 673.0 1085 675.0 1086 667.6 1087 667.6 1088 666.1 1089 673.3 1090 672.6 1091 670.1 1092 669.7 1093 674.1 1094 673.0 1095 674.8 1096 670.6 1097 671.3 1098 672.1 1099 668.2 1100 670.2 1101 674.9 1102 677.4 1103 678.5 1104 678.8 1105 676.4 1106 672.6 1107 668.0 1108 668.1 1109 667.8 1110 670.6 1111 669.5 1112 672.6 1113 667.8 1114 670.5 1115 671.3 1116 673.0 1117 672.7 1118 670.1 1119 670.9 1120 661.3 1121 666.7 1122 666.9 1123 665.8 1124 664.6 1125 663.5 1126 669.0 1127 663.0 1128 665.7 1129 665.5 1130 665.8 1131 664.1 1132 664.7 1133 665.4 1134 668.1 1135 655.2 1136 657.4 1137 655.7 1138 664.2 1139 663.7 1140 662.1 1141 658.4 1142 660.7 1143 658.3 1144 656.9 1145 661.7 1146 664.3 1147 664.6 1148 660.5 1149 664.1 1150 664.6 1151 662.6 1152 665.3 1153 665.6 1154 660.6 1155 660.2 1156 657.7 1157 659.1 1158 658.1 1159 660.9 1160 662.1 1161 664.3 1162 665.0 1163 665.5 1164 669.2 1165 670.0 1166 670.5 1167 668.1 1168 670.2 1169 667.3 1170 669.8 1171 668.7 1172 671.1 1173 670.0 1174 670.1 1175 666.1 1176 660.2 1177 662.2 1178 662.5 1179 659.9 1180 658.6 1181 661.7 1182 663.8 1183 663.5 1184 668.0 1185 667.2 1186 668.0 1187 674.2 1188 674.2 1189 673.1 1190 670.2 1191 673.8 1192 674.5 1193 672.9 1194 672.4 1195 672.4 1196 673.0 1197 675.1 1198 677.3 1199 678.4 1200 678.7 1201 679.2 1202 681.1 1203 681.3 1204 680.5 1205 682.1 1206 680.8 1207 680.5 1208 677.8 1209 676.7 1210 676.3 1211 680.8 1212 683.9 1213 682.9 1214 683.8 1215 682.6 1216 683.5 1217 681.5 1218 681.9 1219 678.5 1220 679.5 1221 683.6 1222 686.2 1223 687.7 1224 688.3 1225 683.6 1226 683.7 1227 681.4 1228 677.8 1229 676.3 1230 683.4 1231 682.4 1232 675.5 1233 683.4 1234 681.3 1235 681.3 1236 679.6 1237 680.3 1238 682.6 1239 684.9 1240 683.7 1241 681.2 1242 679.5 1243 675.3 1244 672.8 1245 671.8 1246 670.7 1247 673.4 1248 673.9 1249 674.0 1250 671.7 1251 674.9 1252 674.7 1253 674.1 1254 672.2 1255 670.3 1256 673.3 1257 673.2 1258 673.0 1259 675.8 1260 676.3 1261 674.7 1262 675.9 1263 673.5 1264 670.8 1265 669.0 1266 668.0 1267 668.3 1268 664.4 1269 673.3 1270 670.5 1271 668.3 1272 667.3 1273 670.0 1274 660.6 1275 659.5 1276 658.7 1277 656.3 1278 664.8 1279 667.0 1280 665.9 1281 666.3 1282 661.1 1283 663.0 1284 662.7 1285 661.5 1286 661.3 1287 659.4 1288 661.0 1289 661.8 1290 655.9 1291 651.5 1292 665.1 1293 664.6 1294 664.1 1295 657.7 1296 657.6 1297 663.0 1298 662.7 1299 661.1 1300 662.8 1301 668.0 1302 667.6 1303 665.7 1304 664.3 1305 655.6 1306 654.6 1307 661.0 1308 664.2 1309 663.7 1310 663.5 1311 659.9 1312 662.5 1313 662.2 1314 663.7 1315 662.4 1316 662.9 1317 663.9 1318 663.2 1319 659.9 1320 664.8 1321 660.0 1322 661.1 1323 661.4 1324 653.7 1325 664.3 1326 663.9 1327 667.7 1328 670.9 1329 667.5 1330 666.6 1331 668.0 1332 665.3 1333 667.0 1334 661.9 1335 669.5 1336 669.8 1337 666.7 1338 663.8 1339 658.5 1340 659.6 1341 658.2 1342 665.1 1343 658.6 1344 653.8 1345 650.9 1346 654.4 1347 660.0 1348 662.1 1349 658.6 1350 661.4 1351 657.1 1352 658.9 1353 658.1 1354 659.9 1355 658.1 1356 657.3 1357 656.1 1358 656.1 1359 652.7 1360 653.9 1361 658.5 1362 657.4 1363 656.9 1364 657.8 1365 658.3 1366 658.0 1367 656.9 1368 657.1 1369 658.2 1370 658.6 1371 652.2 1372 651.3 1373 648.3 1374 647.7 1375 653.0 1376 648.0 1377 646.9 1378 655.6 1379 658.2 1380 659.2 1381 656.1 1382 657.0 1383 658.0 1384 660.4 1385 662.0 1386 661.2 1387 661.0 1388 659.5 1389 658.2 1390 660.6 1391 660.8 1392 659.1 1393 654.5 1394 656.2 1395 658.4 1396 658.4 1397 658.8 1398 660.4 1399 659.7 1400 659.7 1401 661.4 1402 652.3 1403 650.9 1404 648.5 1405 651.3 1406 650.8 1407 656.4 1408 654.0 1409 645.3 1410 650.8 1411 651.6 1412 654.6 1413 657.0 1414 660.8 1415 659.3 1416 659.9 1417 659.3 1418 659.5 1419 660.6 1420 660.5 1421 658.3 1422 651.4 1423 662.3 1424 662.5 1425 665.0 1426 665.2 1427 655.6 1428 662.1 1429 663.5 1430 665.3 1431 666.0 1432 666.9 1433 664.2 1434 662.9 1435 663.7 1436 662.3 1437 665.3 1438 665.1 1439 668.6 1440 669.3 1441 669.6 1442 667.5 1443 668.9 1444 666.2 1445 668.6 1446 671.2 1447 672.2 1448 664.8 1449 665.6 1450 662.2 1451 661.3 1452 659.4 1453 655.9 1454 653.6 1455 655.9 1456 655.1 1457 652.2 1458 651.9 1459 649.5 1460 652.6 1461 650.7 1462 647.9 1463 643.4 1464 643.5 1465 631.2 1466 637.1 1467 641.4 1468 641.4 1469 642.0 1470 630.2 1471 637.0 1472 636.5 1473 635.2 1474 638.3 1475 639.6 1476 641.6 1477 638.1 1478 638.5 1479 638.0 1480 642.1 1481 642.2 1482 644.5 1483 641.5 1484 640.2 1485 640.2 1486 639.4 1487 641.0 1488 635.3 1489 638.0 1490 641.3 1491 643.3 1492 641.2 1493 638.3 1494 636.4 1495 639.8 1496 640.1 1497 640.9 1498 637.8 1499 637.8 1500 635.7 1501 636.5 1502 640.4 1503 640.2 1504 631.0 1505 642.7 1506 642.2 1507 629.8 1508 640.2 1509 642.9 1510 641.1 1511 638.5 1512 639.8 1513 639.8 1514 640.1 1515 639.2 1516 635.4 1517 635.1 1518 633.4 1519 633.8 1520 634.2 1521 639.0 1522 638.0 1523 636.0 1524 634.3 1525 635.8 1526 632.2 1527 631.5 1528 630.1 1529 629.7 1530 633.2 1531 630.1 1532 629.7 1533 631.5 1534 630.4 1535 626.8 1536 629.7 1537 628.6 1538 627.4 1539 627.9 1540 626.2 1541 621.7 1542 622.4 1543 630.6 1544 635.1 1545 634.1 1546 633.5 1547 634.5 1548 635.2 1549 634.7 1550 631.9 1551 634.8 1552 635.3 1553 638.4 1554 640.6 1555 642.0 1556 639.3 1557 638.3 1558 636.1 1559 635.0 1560 630.1 1561 626.7 1562 625.2 1563 625.9 1564 626.6 1565 626.5 1566 625.1 1567 626.9 1568 622.0 1569 621.8 1570 619.8 1571 617.3 1572 617.5 1573 614.7 1574 614.1 1575 614.9 1576 612.3 1577 611.8 1578 611.9 1579 616.9 1580 617.3 1581 615.9 1582 619.1 1583 615.6 1584 613.8 1585 611.6 1586 617.0 1587 616.2 1588 613.6 1589 614.7 1590 613.4 1591 613.4 1592 615.2 1593 619.7 1594 619.6 1595 620.1 1596 613.2 1597 619.2 1598 622.0 1599 611.6 1600 619.6 1601 621.3 1602 622.7 1603 625.9 1604 626.4 1605 624.7 1606 625.7 1607 625.8 1608 630.2 1609 630.5 1610 629.5 1611 628.6 1612 631.1 1613 627.6 1614 626.3 1615 625.3 1616 630.9 1617 629.9 1618 630.7 1619 630.5 1620 635.4 1621 634.6 1622 637.0 1623 620.6 1624 627.8 1625 627.5 1626 631.2 1627 628.1 1628 629.6 1629 629.7 1630 627.9 1631 627.8 1632 626.0 1633 627.0 1634 626.5 1635 624.5 1636 624.8 1637 625.7 1638 625.2 1639 624.6 1640 619.9 1641 623.6 1642 623.8 1643 621.3 1644 617.1 1645 614.8 1646 620.6 1647 614.7 1648 616.0 1649 617.3 1650 621.6 1651 622.6 1652 621.5 1653 625.2 1654 624.6 1655 628.9 1656 627.9 1657 628.5 1658 627.3 1659 627.2 1660 624.6 1661 621.1 1662 622.4 1663 622.6 1664 625.2 1665 629.3 1666 627.5 1667 628.2 1668 629.0 1669 629.1 1670 627.8 1671 627.1 1672 627.7 1673 626.3 1674 621.7 1675 623.7 1676 626.1 1677 625.7 1678 622.8 1679 621.8 1680 617.4 1681 617.4 1682 618.9 1683 618.8 1684 619.1 1685 614.4 1686 608.6 1687 608.8 1688 611.0 1689 609.8 1690 609.9 1691 609.9 1692 603.3 1693 607.9 1694 606.2 1695 608.5 1696 609.7 1697 609.2 1698 610.7 1699 610.5 1700 611.9 1701 614.0 1702 608.4 1703 607.0 1704 612.8 1705 615.6 1706 616.8 1707 615.2 1708 615.5 1709 616.0 1710 622.0 1711 622.8 1712 616.7 1713 618.3 1714 617.4 1715 620.9 1716 623.4 1717 623.3 1718 622.9 1719 623.7 1720 617.7 1721 618.2 1722 616.7 1723 611.8 1724 613.5 1725 609.1 1726 615.3 1727 614.9 1728 613.6 1729 615.3 1730 612.9 1731 609.9 1732 610.1 1733 609.9 1734 611.9 1735 614.9 1736 614.3 1737 617.3 1738 617.2 1739 618.9 1740 615.1 1741 614.9 1742 613.2 1743 612.2 1744 612.9 1745 611.1 1746 610.3 1747 616.0 1748 615.9 1749 618.8 1750 616.5 1751 613.1 1752 616.1 1753 616.0 1754 616.2 1755 619.6 1756 620.5 1757 625.3 1758 624.5 1759 616.2 1760 627.3 1761 625.2 1762 617.7L1762 643.5 1761 643.2 1760 641.4 1759 640.0 1758 636.3 1757 637.1 1756 637.0 1755 639.7 1754 633.7 1753 632.7 1752 637.3 1751 629.4 1750 634.1 1749 631.8 1748 628.9 1747 631.8 1746 631.1 1745 632.0 1744 635.4 1743 631.5 1742 632.5 1741 635.2 1740 635.3 1739 633.9 1738 632.7 1737 632.8 1736 631.7 1735 632.3 1734 632.5 1733 632.0 1732 632.3 1731 627.1 1730 630.3 1729 632.7 1728 631.4 1727 630.9 1726 631.3 1725 633.8 1724 636.4 1723 636.2 1722 634.1 1721 635.5 1720 634.9 1719 640.3 1718 642.5 1717 641.4 1716 638.3 1715 635.8 1714 634.4 1713 635.6 1712 634.4 1711 638.8 1710 638.4 1709 633.1 1708 632.6 1707 629.6 1706 631.2 1705 633.0 1704 627.8 1703 629.4 1702 630.9 1701 630.2 1700 629.2 1699 627.8 1698 628.9 1697 623.3 1696 625.4 1695 624.3 1694 623.6 1693 623.7 1692 623.4 1691 626.0 1690 626.0 1689 623.9 1688 625.1 1687 622.6 1686 625.4 1685 626.8 1684 631.5 1683 632.2 1682 635.6 1681 634.1 1680 634.0 1679 635.5 1678 636.5 1677 642.2 1676 643.6 1675 638.3 1674 640.6 1673 641.6 1672 643.0 1671 643.8 1670 644.4 1669 644.7 1668 653.6 1667 644.8 1666 645.6 1665 644.2 1664 647.6 1663 647.0 1662 646.7 1661 643.2 1660 642.1 1659 644.7 1658 643.6 1657 644.8 1656 642.7 1655 642.5 1654 641.4 1653 639.3 1652 639.0 1651 640.1 1650 639.1 1649 634.7 1648 633.4 1647 632.7 1646 633.4 1645 632.7 1644 631.4 1643 634.7 1642 637.1 1641 636.9 1640 636.2 1639 637.7 1638 638.6 1637 639.6 1636 643.4 1635 643.2 1634 644.5 1633 647.5 1632 646.5 1631 648.1 1630 642.9 1629 649.4 1628 649.0 1627 654.7 1626 648.6 1625 648.4 1624 648.7 1623 647.4 1622 651.4 1621 650.1 1620 649.6 1619 644.8 1618 642.8 1617 642.9 1616 643.9 1615 642.9 1614 643.3 1613 647.8 1612 647.9 1611 645.4 1610 645.3 1609 645.5 1608 644.2 1607 643.1 1606 643.0 1605 641.5 1604 641.5 1603 641.3 1602 638.1 1601 636.0 1600 639.9 1599 638.2 1598 638.8 1597 636.0 1596 639.8 1595 638.1 1594 637.6 1593 635.7 1592 632.3 1591 630.4 1590 628.3 1589 630.1 1588 629.0 1587 630.1 1586 631.1 1585 630.2 1584 630.3 1583 632.6 1582 634.2 1581 630.4 1580 640.3 1579 629.3 1578 626.5 1577 626.4 1576 629.1 1575 630.2 1574 630.6 1573 629.9 1572 632.5 1571 634.5 1570 636.7 1569 636.9 1568 637.1 1567 645.6 1566 641.9 1565 638.9 1564 639.0 1563 638.9 1562 640.2 1561 643.2 1560 646.3 1559 651.2 1558 649.8 1557 652.1 1556 653.1 1555 655.7 1554 661.2 1553 654.9 1552 651.8 1551 653.6 1550 651.4 1549 651.1 1548 651.6 1547 652.6 1546 649.9 1545 652.5 1544 649.3 1543 644.8 1542 643.2 1541 642.7 1540 648.5 1539 647.7 1538 649.8 1537 644.1 1536 645.3 1535 641.6 1534 645.2 1533 646.3 1532 647.4 1531 647.8 1530 648.2 1529 644.7 1528 645.6 1527 644.5 1526 645.2 1525 651.9 1524 650.4 1523 647.8 1522 649.8 1521 656.3 1520 650.2 1519 647.3 1518 649.3 1517 658.0 1516 658.3 1515 657.2 1514 651.6 1513 653.9 1512 653.9 1511 658.7 1510 659.9 1509 661.7 1508 658.6 1507 658.0 1506 657.6 1505 660.8 1504 659.0 1503 664.9 1502 657.6 1501 657.7 1500 656.8 1499 658.8 1498 654.7 1497 656.5 1496 654.7 1495 655.0 1494 656.7 1493 655.9 1492 656.2 1491 658.4 1490 657.9 1489 656.4 1488 653.7 1487 654.5 1486 652.9 1485 656.4 1484 656.2 1483 656.6 1482 657.0 1481 654.7 1480 654.5 1479 653.1 1478 653.4 1477 653.0 1476 656.7 1475 654.6 1474 651.8 1473 648.8 1472 650.1 1471 651.2 1470 656.6 1469 658.1 1468 657.1 1467 655.5 1466 657.8 1465 660.8 1464 659.2 1463 659.1 1462 667.1 1461 666.1 1460 667.2 1459 666.6 1458 669.4 1457 669.8 1456 671.4 1455 668.4 1454 667.4 1453 669.7 1452 674.2 1451 675.8 1450 676.8 1449 689.4 1448 681.7 1447 697.1 1446 695.7 1445 693.1 1444 680.8 1443 681.1 1442 681.2 1441 685.5 1440 684.4 1439 683.8 1438 678.1 1437 679.6 1436 676.7 1435 680.4 1434 679.7 1433 677.5 1432 680.3 1431 679.8 1430 678.2 1429 678.1 1428 676.6 1427 679.1 1426 681.4 1425 681.2 1424 681.9 1423 679.0 1422 677.7 1421 677.0 1420 676.6 1419 674.5 1418 671.6 1417 671.3 1416 675.9 1415 672.4 1414 674.0 1413 670.2 1412 669.4 1411 668.8 1410 668.0 1409 668.9 1408 668.5 1407 670.3 1406 670.7 1405 672.1 1404 668.5 1403 670.9 1402 675.1 1401 676.6 1400 675.0 1399 672.6 1398 675.4 1397 674.1 1396 673.7 1395 672.5 1394 673.8 1393 672.1 1392 672.0 1391 675.3 1390 672.6 1389 672.3 1388 673.7 1387 676.2 1386 675.0 1385 675.8 1384 673.3 1383 670.6 1382 669.6 1381 672.3 1380 672.5 1379 672.3 1378 670.8 1377 668.9 1376 670.0 1375 672.3 1374 671.3 1373 671.9 1372 670.6 1371 671.8 1370 672.0 1369 676.5 1368 676.4 1367 676.1 1366 670.1 1365 670.4 1364 669.9 1363 670.9 1362 671.4 1361 672.5 1360 671.1 1359 669.9 1358 671.0 1357 670.0 1356 670.5 1355 671.3 1354 673.8 1353 670.8 1352 671.6 1351 671.7 1350 674.2 1349 672.7 1348 675.0 1347 673.9 1346 673.6 1345 670.2 1344 675.8 1343 678.7 1342 680.1 1341 677.3 1340 678.5 1339 677.3 1338 685.9 1337 680.5 1336 682.5 1335 682.2 1334 682.4 1333 686.8 1332 685.0 1331 680.6 1330 679.1 1329 679.5 1328 686.3 1327 683.1 1326 681.8 1325 681.7 1324 678.7 1323 679.9 1322 677.1 1321 679.1 1320 680.5 1319 677.2 1318 676.5 1317 679.0 1316 678.9 1315 680.0 1314 679.1 1313 675.9 1312 676.2 1311 673.5 1310 677.0 1309 677.3 1308 677.8 1307 675.7 1306 675.7 1305 676.7 1304 679.7 1303 681.1 1302 679.9 1301 680.5 1300 679.7 1299 678.1 1298 677.3 1297 677.5 1296 675.9 1295 676.0 1294 676.1 1293 679.8 1292 680.3 1291 680.3 1290 677.7 1289 681.5 1288 681.7 1287 680.8 1286 682.7 1285 677.7 1284 678.4 1283 675.9 1282 673.9 1281 684.8 1280 678.3 1279 679.3 1278 677.3 1277 680.6 1276 682.1 1275 684.7 1274 685.7 1273 683.5 1272 681.9 1271 683.0 1270 691.0 1269 692.1 1268 682.3 1267 685.4 1266 687.4 1265 683.9 1264 682.1 1263 689.1 1262 691.6 1261 693.2 1260 696.7 1259 700.0 1258 702.9 1257 691.3 1256 689.8 1255 687.2 1254 692.6 1253 691.2 1252 690.6 1251 690.8 1250 689.9 1249 691.0 1248 690.2 1247 689.7 1246 690.9 1245 692.8 1244 696.2 1243 692.8 1242 695.5 1241 697.2 1240 701.6 1239 702.0 1238 699.7 1237 692.7 1236 693.4 1235 695.0 1234 695.0 1233 696.9 1232 697.5 1231 698.5 1230 699.4 1229 694.5 1228 703.3 1227 697.2 1226 696.0 1225 695.9 1224 701.1 1223 699.8 1222 698.3 1221 698.6 1220 694.5 1219 693.9 1218 694.4 1217 694.1 1216 699.3 1215 698.4 1214 698.9 1213 694.2 1212 695.2 1211 693.2 1210 692.4 1209 692.8 1208 693.9 1207 697.2 1206 694.9 1205 696.2 1204 693.6 1203 698.0 1202 705.8 1201 692.0 1200 691.5 1199 692.0 1198 692.5 1197 691.4 1196 691.8 1195 691.1 1194 688.0 1193 686.6 1192 688.1 1191 687.8 1190 683.1 1189 686.0 1188 686.1 1187 690.8 1186 687.8 1185 685.3 1184 693.9 1183 687.0 1182 681.4 1181 681.5 1180 678.4 1179 679.1 1178 679.6 1177 679.3 1176 679.3 1175 686.4 1174 686.6 1173 683.0 1172 684.4 1171 683.5 1170 685.2 1169 683.6 1168 684.6 1167 682.4 1166 682.7 1165 682.2 1164 681.2 1163 678.6 1162 678.1 1161 681.2 1160 680.3 1159 680.0 1158 675.3 1157 681.7 1156 682.0 1155 684.5 1154 680.2 1153 679.9 1152 679.6 1151 676.9 1150 680.2 1149 676.2 1148 676.1 1147 679.1 1146 680.0 1145 677.4 1144 674.2 1143 674.4 1142 678.1 1141 674.1 1140 678.2 1139 678.6 1138 680.5 1137 679.8 1136 681.3 1135 679.1 1134 682.0 1133 676.8 1132 679.4 1131 678.8 1130 680.6 1129 679.7 1128 679.9 1127 680.0 1126 681.7 1125 682.0 1124 683.6 1123 684.7 1122 684.9 1121 686.0 1120 684.5 1119 686.4 1118 684.4 1117 687.1 1116 686.4 1115 685.2 1114 686.0 1113 681.7 1112 685.2 1111 684.9 1110 685.7 1109 683.0 1108 681.8 1107 681.3 1106 685.9 1105 690.6 1104 696.6 1103 693.8 1102 692.6 1101 686.9 1100 684.7 1099 682.7 1098 686.4 1097 689.7 1096 687.8 1095 696.2 1094 694.0 1093 695.1 1092 686.8 1091 684.0 1090 686.6 1089 687.3 1088 687.4 1087 689.0 1086 689.0 1085 692.3 1084 690.9 1083 689.9 1082 688.4 1081 687.9 1080 687.2 1079 688.1 1078 694.1 1077 695.0 1076 693.2 1075 693.0 1074 693.8 1073 692.0 1072 694.8 1071 696.5 1070 696.6 1069 697.3 1068 696.0 1067 694.6 1066 697.3 1065 697.6 1064 698.4 1063 701.8 1062 699.7 1061 699.9 1060 698.2 1059 697.3 1058 698.8 1057 697.4 1056 700.4 1055 700.8 1054 699.1 1053 699.1 1052 698.0 1051 699.9 1050 703.0 1049 706.0 1048 702.1 1047 702.9 1046 708.4 1045 707.1 1044 709.8 1043 711.2 1042 712.4 1041 705.3 1040 706.5 1039 708.6 1038 708.8 1037 706.6 1036 709.6 1035 708.1 1034 710.4 1033 710.5 1032 712.4 1031 719.8 1030 706.6 1029 707.6 1028 707.9 1027 709.4 1026 712.1 1025 708.2 1024 709.5 1023 708.9 1022 710.3 1021 712.4 1020 708.4 1019 710.8 1018 718.8 1017 706.8 1016 704.9 1015 704.3 1014 703.8 1013 706.7 1012 709.2 1011 705.2 1010 704.2 1009 705.5 1008 709.9 1007 708.4 1006 707.7 1005 706.7 1004 708.9 1003 710.6 1002 713.0 1001 713.2 1000 715.3 999 713.8 998 712.7 997 712.0 996 719.2 995 717.7 994 713.9 993 717.5 992 715.7 991 714.8 990 718.5 989 711.8 988 714.3 987 714.7 986 712.1 985 711.5 984 714.2 983 721.1 982 718.4 981 719.4 980 718.3 979 718.4 978 718.2 977 718.1 976 714.7 975 720.5 974 720.8 973 716.5 972 718.4 971 717.0 970 718.1 969 721.8 968 731.5 967 722.4 966 723.0 965 723.0 964 721.8 963 724.0 962 723.7 961 724.2 960 724.4 959 726.1 958 729.5 957 728.6 956 728.8 955 727.7 954 731.9 953 734.8 952 732.9 951 734.5 950 728.6 949 729.8 948 728.7 947 729.2 946 727.9 945 729.8 944 731.9 943 733.5 942 734.7 941 730.5 940 729.9 939 730.8 938 735.2 937 734.7 936 733.5 935 734.3 934 732.0 933 724.7 932 727.5 931 729.2 930 727.2 929 723.2 928 723.9 927 722.3 926 724.7 925 727.9 924 723.9 923 724.0 922 722.4 921 726.4 920 724.1 919 724.4 918 726.6 917 727.6 916 734.2 915 726.1 914 728.4 913 727.3 912 728.5 911 723.1 910 726.0 909 725.0 908 722.1 907 722.1 906 730.2 905 723.0 904 723.0 903 720.3 902 720.1 901 718.2 900 722.0 899 720.7 898 719.1 897 724.1 896 728.5 895 723.0 894 724.0 893 725.7 892 725.0 891 721.6 890 725.9 889 723.9 888 722.6 887 721.5 886 718.6 885 722.2 884 722.2 883 719.6 882 717.4 881 717.3 880 713.8 879 713.4 878 714.0 877 713.8 876 710.3 875 711.9 874 711.0 873 714.3 872 716.0 871 716.9 870 716.0 869 716.8 868 717.5 867 719.1 866 724.4 865 715.8 864 715.1 863 717.0 862 719.4 861 719.1 860 719.3 859 720.1 858 726.0 857 724.1 856 727.2 855 724.0 854 721.4 853 721.8 852 727.0 851 729.1 850 721.8 849 721.4 848 722.1 847 723.5 846 724.4 845 719.6 844 716.6 843 717.7 842 719.4 841 719.3 840 717.7 839 714.8 838 715.3 837 720.9 836 718.9 835 720.1 834 719.6 833 721.1 832 720.2 831 718.7 830 717.8 829 717.3 828 718.1 827 718.9 826 729.4 825 724.1 824 723.1 823 725.5 822 726.3 821 725.0 820 720.9 819 721.6 818 724.4 817 725.3 816 727.8 815 730.5 814 735.1 813 732.8 812 733.1 811 732.5 810 732.1 809 733.0 808 732.3 807 736.1 806 742.2 805 743.4 804 743.4 803 744.2 802 741.3 801 744.9 800 742.0 799 749.5 798 744.1 797 743.6 796 744.6 795 747.9 794 745.8 793 750.0 792 751.0 791 753.3 790 758.0 789 760.2 788 762.9 787 765.7 786 764.1 785 771.9 784 773.9 783 769.7 782 764.6 781 765.5 780 764.2 779 769.6 778 771.0 777 771.2 776 766.3 775 764.0 774 761.2 773 760.1 772 756.6 771 757.8 770 759.5 769 760.3 768 752.7 767 752.7 766 757.5 765 757.0 764 759.0 763 754.5 762 751.4 761 758.9 760 749.0 759 754.5 758 746.1 757 747.5 756 748.2 755 749.3 754 750.7 753 748.8 752 749.6 751 753.6 750 753.8 749 752.3 748 751.5 747 745.6 746 748.1 745 744.7 744 740.1 743 743.2 742 742.7 741 744.7 740 744.7 739 747.6 738 746.7 737 748.9 736 745.2 735 747.4 734 749.0 733 746.3 732 741.7 731 743.2 730 748.2 729 744.9 728 745.3 727 745.8 726 746.9 725 752.6 724 754.1 723 757.6 722 755.1 721 753.8 720 754.7 719 751.7 718 751.0 717 757.0 716 760.4 715 758.6 714 754.4 713 756.4 712 757.9 711 757.2 710 753.0 709 754.4 708 755.7 707 758.5 706 758.2 705 760.7 704 760.3 703 762.1 702 769.4 701 764.0 700 763.0 699 765.4 698 763.6 697 764.3 696 764.3 695 764.4 694 765.9 693 768.9 692 765.3 691 765.4 690 767.3 689 769.5 688 766.4 687 770.0 686 767.7 685 768.6 684 770.2 683 767.1 682 772.0 681 768.9 680 770.7 679 771.4 678 770.3 677 772.3 676 774.1 675 775.3 674 777.9 673 783.8 672 790.7 671 784.1 670 787.0 669 787.4 668 787.4 667 787.2 666 787.7 665 790.0 664 792.7 663 792.8 662 792.2 661 790.5 660 794.2 659 793.0 658 796.0 657 795.3 656 794.3 655 795.1 654 796.9 653 801.4 652 802.7 651 796.8 650 796.2 649 799.1 648 802.3 647 801.3 646 810.6 645 810.3 644 813.1 643 804.3 642 805.7 641 803.8 640 800.9 639 805.5 638 807.6 637 808.6 636 806.3 635 811.1 634 811.5 633 808.3 632 805.7 631 807.0 630 812.5 629 813.4 628 817.5 627 820.5 626 819.4 625 819.3 624 829.6 623 819.2 622 821.5 621 827.4 620 822.4 619 823.8 618 825.7 617 828.3 616 828.0 615 826.4 614 827.7 613 827.9 612 831.6 611 832.1 610 828.9 609 830.4 608 832.3 607 831.7 606 833.1 605 836.1 604 836.6 603 835.8 602 836.7 601 839.4 600 839.3 599 842.1 598 846.2 597 843.9 596 845.8 595 848.4 594 852.6 593 856.4 592 858.4 591 862.8 590 863.8 589 864.5 588 864.9 587 868.5 586 873.0 585 873.0 584 872.6 583 872.5 582 872.2 581 871.0 580 871.2 579 874.5 578 878.4 577 882.4 576 877.9 575 877.0 574 880.6 573 882.5 572 884.3 571 881.9 570 890.2 569 884.2 568 883.8 567 884.4 566 887.3 565 890.5 564 891.8 563 896.4 562 895.6 561 896.1 560 898.8 559 901.0 558 897.0 557 895.2 556 898.9 555 901.8 554 903.9 553 902.1 552 901.9 551 897.7 550 901.1 549 906.7 548 909.0 547 912.4 546 913.6 545 915.2 544 914.9 543 918.7 542 919.4 541 923.6 540 925.5 539 928.7 538 932.3 537 930.9 536 932.9 535 936.9 534 941.1 533 936.0 532 936.5 531 940.2 530 945.3 529 946.2 528 949.4 527 948.3 526 951.1 525 955.3 524 958.9 523 965.7 522 966.4 521 969.9 520 970.2 519 970.8 518 971.1 517 971.3 516 975.5 515 978.5 514 979.9 513 983.1 512 984.0 511 993.4 510 992.6 509 996.7 508 1006.2 507 1011.6 506 1012.8 505 1021.9 504 1024.9 503 1033.7 502 1027.3 501 1031.9 500 1032.6 499 1040.2 498 1043.4 497 1051.9 496 1054.9 495 1060.0 494 1066.7 493 1067.9 492 1074.1 491 1079.6 490 1085.5 489 1091.4 488 1093.0 487 1094.7 486 1095.2 485 1098.6 484 1103.2 483 1108.5 482 1110.1 481 1117.2 480 1116.9 479 1115.1 478 1116.8 477 1123.7 476 1119.6 475 1123.9 474 1126.6 473 1129.8 472 1134.1 471 1138.1 470 1138.5 469 1142.1 468 1146.3 467 1150.7 466 1154.2 465 1156.0 464 1159.4 463 1163.4 462 1166.0 461 1168.9 460 1171.6 459 1175.9 458 1184.4 457 1186.1 456 1189.9 455 1193.7 454 1199.3 453 1202.6 452 1205.5 451 1209.2 450 1211.1 449 1216.6 448 1218.9 447 1219.7 446 1219.7 445 1219.7 444 1219.7 443 1219.7Z"/><path fill="none" stroke-width="3.5" stroke-linejoin="round" d="M443 1217.4 444 1216.8 445 1216.2 446 1215.6 447 1214.8 448 1213.4 449 1211.1 450 1208.1 451 1205.3 452 1201.5 453 1198.6 454 1195.2 455 1190.9 456 1187.0 457 1183.3 458 1178.7 459 1172.9 460 1168.7 461 1164.9 462 1162.1 463 1159.4 464 1155.1 465 1151.5 466 1149.5 467 1144.2 468 1142.6 469 1138.3 470 1134.6 471 1133.7 472 1129.7 473 1125.3 474 1122.0 475 1118.1 476 1113.7 477 1111.1 478 1111.9 479 1110.1 480 1107.2 481 1104.0 482 1101.7 483 1099.0 484 1093.6 485 1091.1 486 1087.7 487 1087.2 488 1082.9 489 1081.4 490 1075.4 491 1072.6 492 1067.1 493 1060.9 494 1057.7 495 1051.0 496 1045.9 497 1040.5 498 1037.7 499 1034.4 500 1026.8 501 1024.8 502 1020.2 503 1020.1 504 1017.3 505 1014.3 506 1005.1 507 1003.6 508 998.1 509 990.3 510 986.1 511 984.1 512 977.5 513 976.6 514 973.4 515 969.9 516 966.9 517 963.3 518 961.6 519 959.9 520 959.3 521 959.0 522 955.6 523 954.8 524 950.2 525 949.1 526 944.9 527 942.1 528 941.3 529 938.1 530 937.2 531 932.8 532 930.1 533 929.6 534 930.5 535 926.3 536 927.1 537 925.2 538 926.6 539 923.0 540 919.4 541 917.5 542 913.3 543 911.5 544 909.4 545 909.7 546 908.1 547 904.1 548 900.6 549 898.4 550 894.6 551 891.3 552 895.4 553 893.6 554 895.4 555 893.3 556 891.8 557 888.2 558 890.0 559 888.4 560 890.3 561 887.6 562 888.5 563 889.3 564 884.7 565 884.1 566 880.8 567 877.7 568 877.2 569 877.6 570 878.6 571 876.3 572 876.4 573 875.6 574 873.7 575 870.3 576 869.0 577 873.6 578 869.5 579 867.3 580 864.0 581 865.0 582 866.1 583 866.0 584 866.6 585 863.4 586 863.4 587 858.9 588 859.0 589 858.6 590 854.5 591 853.6 592 849.1 593 844.7 594 840.9 595 838.0 596 835.3 597 834.6 598 836.9 599 835.0 600 832.3 601 832.4 602 830.7 603 829.7 604 829.2 605 828.8 606 826.3 607 824.9 608 825.5 609 823.6 610 822.1 611 821.6 612 821.1 613 819.3 614 819.1 615 817.8 616 814.3 617 814.6 618 812.1 619 816.5 620 815.1 621 812.8 622 812.7 623 813.6 624 814.4 625 812.9 626 813.1 627 812.5 628 810.9 629 806.8 630 806.1 631 801.0 632 799.7 633 802.4 634 802.4 635 802.0 636 800.1 637 798.6 638 797.6 639 795.5 640 792.2"/></g><g fill="#3395ff" stroke="#3395ff" opacity="1.00"><path stroke="none" d="M443 1214.5 444 1213.6 445 1212.9 446 1211.2 447 1208.8 448 1207.1 449 1203.4 450 1200.3 451 1198.5 452 1194.6 453 1187.4 454 1181.8 455 1180.3 456 1173.8 457 1168.7 458 1163.8 459 1158.5 460 1155.0 461 1151.4 462 1148.8 463 1145.5 464 1143.3 465 1137.2 466 1132.8 467 1130.9 468 1125.2 469 1118.4 470 1110.9 471 1115.5 472 1107.2 473 1102.2 474 1098.4 475 1089.2 476 1085.7 477 1082.6 478 1081.3 479 1079.9 480 1069.7 481 1064.9 482 1060.9 483 1060.1 484 1054.3 485 1044.2 486 1038.0 487 1030.2 488 1024.0 489 1019.1 490 1013.5 491 1006.3 492 1002.9 493 1000.5 494 994.3 495 994.1 496 989.3 497 987.7 498 985.7 499 981.8 500 978.0 501 979.3 502 979.2 503 973.8 504 966.2 505 965.7 506 958.0 507 960.8 508 957.2 509 954.9 510 953.9 511 951.2 512 946.4 513 943.4 514 943.4 515 940.3 516 939.3 517 937.0 518 937.3 519 934.8 520 930.8 521 929.9 522 925.8 523 920.2 524 917.1 525 916.9 526 921.5 527 916.0 528 912.0 529 910.4 530 908.9 531 906.2 532 904.4 533 902.3 534 900.4 535 896.1 536 892.1 537 890.8 538 890.8 539 892.7 540 893.4 541 895.3 542 893.8 543 889.2 544 887.9 545 886.2 546 887.4 547 886.7 548 884.8 549 881.5 550 879.3 551 878.9 552 880.9 553 874.5 554 871.6 555 868.6 556 853.4 557 867.5 558 864.5 559 861.5 560 858.2 561 858.0 562 855.2 563 852.9 564 851.2 565 849.9 566 847.1 567 844.9 568 837.9 569 834.7 570 838.4 571 839.3 572 833.7 573 833.6 574 833.2 575 837.3 576 833.5 577 832.9 578 829.8 579 824.1 580 824.5 581 822.2 582 830.0 583 830.0 584 825.4 585 826.5 586 824.0 587 819.7 588 817.3 589 815.5 590 811.8 591 810.8 592 811.2 593 809.5 594 804.2 595 801.8 596 798.3 597 797.2 598 797.8 599 800.1 600 796.3 601 796.5 602 797.5 603 798.4 604 797.1 605 791.0 606 787.0 607 787.4 608 775.7 609 781.0 610 773.5 611 775.8 612 776.4 613 777.7 614 777.5 615 778.4 616 781.4 617 778.2 618 775.2 619 777.3 620 780.4 621 778.8 622 776.8 623 776.5 624 768.4 625 768.5 626 768.7 627 772.1 628 770.7 629 768.4 630 764.4 631 761.6 632 757.4 633 757.1 634 753.4 635 753.6 636 750.9 637 750.7 638 751.4 639 751.6 640 749.5 641 746.1 642 745.8 643 742.3 644 741.2 645 742.4 646 738.6 647 739.6 648 736.7 649 733.2 650 731.2 651 730.2 652 733.1 653 730.2 654 729.5 655 728.7 656 729.4 657 727.3 658 725.4 659 724.6 660 721.7 661 719.9 662 720.1 663 718.0 664 714.1 665 719.2 666 722.0 667 723.6 668 721.7 669 720.0 670 717.7 671 715.7 672 710.5 673 715.7 674 715.0 675 716.9 676 715.5 677 717.6 678 716.4 679 706.7 680 714.4 681 716.5 682 716.2 683 717.2 684 706.7 685 717.2 686 719.1 687 716.4 688 717.3 689 712.8 690 714.0 691 711.0 692 714.9 693 713.8 694 710.2 695 707.6 696 704.4 697 703.2 698 701.0 699 700.6 700 692.6 701 693.6 702 690.0 703 688.8 704 684.2 705 685.8 706 683.3 707 684.9 708 681.7 709 684.0 710 684.8 711 683.2 712 681.9 713 683.3 714 681.9 715 678.9 716 677.0 717 674.1 718 676.3 719 676.9 720 678.2 721 679.1 722 677.6 723 679.0 724 676.9 725 675.8 726 673.0 727 668.3 728 666.4 729 666.6 730 664.2 731 665.5 732 662.3 733 659.7 734 660.6 735 658.0 736 655.9 737 657.8 738 663.9 739 660.2 740 657.0 741 658.6 742 661.3 743 660.4 744 660.5 745 657.7 746 659.6 747 657.4 748 659.0 749 659.2 750 656.9 751 656.0 752 654.2 753 651.7 754 649.8 755 652.2 756 652.6 757 650.2 758 650.0 759 648.8 760 644.3 761 640.7 762 639.9 763 636.9 764 635.4 765 629.6 766 629.9 767 631.3 768 632.5 769 628.9 770 635.4 771 633.7 772 633.9 773 637.6 774 640.2 775 640.8 776 639.7 777 642.6 778 641.2 779 647.9 780 647.4 781 648.6 782 649.6 783 653.9 784 654.2 785 650.8 786 653.3 787 657.2 788 655.5 789 657.0 790 656.5 791 658.1 792 657.3 793 657.8 794 656.1 795 655.5 796 656.4 797 655.2 798 653.2 799 653.0 800 654.0 801 646.6 802 651.7 803 651.4 804 652.8 805 652.7 806 654.1 807 656.6 808 658.2 809 657.9 810 656.1 811 656.6 812 654.4 813 654.3 814 650.6 815 651.4 816 648.8 817 647.5 818 648.2 819 646.8 820 644.6 821 643.1 822 639.8 823 645.1 824 640.5 825 641.2 826 639.1 827 630.1 828 634.3 829 636.1 830 633.7 831 631.8 832 632.7 833 631.7 834 630.0 835 632.4 836 631.7 837 633.8 838 629.3 839 625.2 840 625.1 841 625.7 842 626.0 843 623.6 844 621.4 845 612.6 846 622.0 847 622.9 848 620.2 849 617.7 850 620.7 851 625.0 852 626.0 853 626.2 854 621.7 855 623.7 856 619.4 857 619.5 858 617.9 859 621.8 860 621.0 861 611.7 862 614.5 863 615.8 864 619.9 865 620.8 866 619.0 867 617.6 868 617.2 869 617.3 870 616.6 871 619.2 872 617.9 873 615.6 874 614.6 875 608.7 876 609.5 877 612.5 878 613.7 879 613.9 880 614.9 881 618.2 882 617.7 883 618.9 884 622.8 885 622.7 886 624.5 887 621.5 888 618.5 889 618.3 890 621.3 891 625.1 892 626.0 893 624.3 894 624.7 895 625.1 896 628.0 897 629.8 898 629.2 899 629.8 900 628.9 901 632.0 902 626.1 903 625.8 904 615.7 905 622.2 906 627.2 907 626.7 908 628.7 909 630.4 910 634.1 911 635.8 912 634.8 913 635.5 914 635.3 915 635.9 916 627.7 917 636.1 918 636.1 919 635.2 920 635.8 921 629.2 922 627.9 923 629.6 924 630.9 925 637.0 926 633.6 927 630.9 928 629.4 929 631.6 930 632.5 931 631.3 932 631.4 933 630.5 934 628.3 935 623.7 936 621.1 937 619.4 938 619.3 939 621.1 940 617.8 941 618.5 942 617.5 943 619.1 944 621.8 945 622.0 946 622.0 947 620.9 948 622.0 949 619.2 950 617.1 951 616.9 952 616.7 953 614.6 954 616.1 955 613.9 956 612.7 957 617.1 958 614.1 959 612.5 960 614.2 961 616.0 962 615.4 963 614.4 964 614.0 965 620.2 966 618.1 967 616.4 968 618.7 969 617.6 970 620.3 971 609.0 972 621.1 973 624.0 974 623.1 975 623.4 976 622.1 977 625.4 978 624.9 979 623.2 980 621.0 981 621.2 982 623.1 983 621.6 984 621.5 985 619.5 986 611.4 987 615.4 988 615.9 989 614.6 990 614.9 991 612.9 992 613.5 993 612.4 994 610.4 995 610.1 996 609.2 997 608.4 998 606.7 999 604.7 1000 604.9 1001 607.1 1002 612.2 1003 611.1 1004 609.4 1005 608.4 1006 602.8 1007 601.0 1008 606.3 1009 606.2 1010 605.8 1011 605.6 1012 604.9 1013 603.9 1014 603.8 1015 602.4 1016 603.9 1017 601.3 1018 604.8 1019 609.7 1020 612.8 1021 611.9 1022 609.4 1023 608.3 1024 608.3 1025 613.0 1026 612.5 1027 612.7 1028 615.5 1029 617.7 1030 610.5 1031 616.7 1032 621.4 1033 623.0 1034 621.4 1035 616.5 1036 615.0 1037 613.7 1038 618.0 1039 617.3 1040 615.2 1041 615.7 1042 612.7 1043 616.0 1044 619.2 1045 618.3 1046 617.9 1047 619.5 1048 613.1 1049 618.8 1050 620.8 1051 621.6 1052 622.9 1053 621.8 1054 616.5 1055 615.8 1056 617.2 1057 615.4 1058 616.2 1059 615.1 1060 620.8 1061 621.3 1062 622.5 1063 616.4 1064 619.3 1065 616.1 1066 620.8 1067 620.1 1068 616.6 1069 619.3 1070 619.4 1071 618.4 1072 614.4 1073 612.1 1074 611.0 1075 611.2 1076 612.3 1077 613.1 1078 615.6 1079 612.5 1080 609.3 1081 607.9 1082 609.3 1083 602.5 1084 598.4 1085 598.1 1086 604.9 1087 606.0 1088 605.2 1089 604.1 1090 596.6 1091 597.1 1092 600.7 1093 599.9 1094 603.2 1095 602.0 1096 601.7 1097 602.3 1098 605.2 1099 603.6 1100 607.5 1101 607.1 1102 604.8 1103 610.6 1104 612.2 1105 610.6 1106 612.2 1107 613.8 1108 613.6 1109 613.4 1110 611.5 1111 607.8 1112 612.2 1113 616.2 1114 615.7 1115 615.4 1116 615.3 1117 612.3 1118 607.8 1119 604.4 1120 605.3 1121 605.1 1122 602.9 1123 597.3 1124 601.1 1125 600.2 1126 598.2 1127 586.4 1128 592.3 1129 591.9 1130 591.3 1131 590.1 1132 589.6 1133 585.3 1134 590.0 1135 588.3 1136 586.8 1137 587.3 1138 585.2 1139 585.4 1140 579.6 1141 582.0 1142 582.6 1143 582.3 1144 581.9 1145 584.8 1146 585.5 1147 582.0 1148 581.5 1149 581.8 1150 582.4 1151 582.2 1152 578.1 1153 579.2 1154 580.6 1155 579.5 1156 578.9 1157 580.9 1158 584.1 1159 583.4 1160 584.1 1161 569.9 1162 575.8 1163 578.9 1164 574.4 1165 574.7 1166 572.7 1167 574.2 1168 576.1 1169 572.7 1170 573.6 1171 571.4 1172 574.2 1173 578.3 1174 582.0 1175 581.8 1176 584.8 1177 585.1 1178 582.6 1179 581.8 1180 579.5 1181 576.5 1182 578.2 1183 582.0 1184 582.3 1185 581.3 1186 582.0 1187 586.3 1188 586.5 1189 580.3 1190 587.0 1191 586.0 1192 589.3 1193 588.8 1194 592.6 1195 593.0 1196 595.5 1197 596.9 1198 598.8 1199 599.8 1200 601.5 1201 603.0 1202 604.0 1203 595.0 1204 599.2 1205 600.6 1206 602.2 1207 598.7 1208 597.4 1209 593.3 1210 587.8 1211 594.0 1212 592.0 1213 588.9 1214 582.9 1215 581.0 1216 579.8 1217 579.3 1218 577.0 1219 576.6 1220 576.4 1221 579.7 1222 576.6 1223 577.5 1224 573.8 1225 571.9 1226 569.1 1227 570.4 1228 572.1 1229 570.9 1230 568.8 1231 568.2 1232 570.5 1233 570.1 1234 570.6 1235 572.2 1236 570.7 1237 568.5 1238 566.6 1239 568.2 1240 567.0 1241 566.2 1242 565.8 1243 566.0 1244 567.7 1245 566.1 1246 566.0 1247 562.0 1248 565.2 1249 565.1 1250 560.2 1251 563.7 1252 564.2 1253 562.1 1254 566.5 1255 566.6 1256 570.2 1257 567.5 1258 566.0 1259 566.7 1260 568.1 1261 565.8 1262 571.8 1263 562.9 1264 574.1 1265 573.0 1266 574.7 1267 576.4 1268 570.4 1269 570.7 1270 571.6 1271 577.6 1272 577.3 1273 576.3 1274 575.3 1275 574.0 1276 571.2 1277 568.3 1278 563.1 1279 561.1 1280 560.8 1281 560.6 1282 560.4 1283 558.2 1284 556.3 1285 553.0 1286 554.4 1287 550.6 1288 553.8 1289 552.2 1290 556.0 1291 553.6 1292 552.4 1293 551.7 1294 550.0 1295 553.4 1296 552.3 1297 551.8 1298 547.1 1299 543.5 1300 546.2 1301 541.3 1302 542.4 1303 536.6 1304 541.3 1305 543.3 1306 546.3 1307 548.3 1308 549.5 1309 545.0 1310 541.1 1311 543.5 1312 542.6 1313 544.0 1314 543.3 1315 542.2 1316 539.6 1317 532.4 1318 539.1 1319 534.5 1320 529.9 1321 530.5 1322 529.7 1323 533.1 1324 531.7 1325 524.6 1326 532.4 1327 533.8 1328 526.8 1329 526.7 1330 522.8 1331 528.6 1332 525.3 1333 529.3 1334 528.8 1335 529.9 1336 532.5 1337 525.4 1338 517.7 1339 526.4 1340 528.6 1341 523.6 1342 526.3 1343 528.7 1344 527.2 1345 525.4 1346 525.0 1347 525.5 1348 532.9 1349 529.5 1350 531.5 1351 531.3 1352 526.3 1353 532.6 1354 534.6 1355 535.6 1356 536.7 1357 539.2 1358 536.4 1359 536.3 1360 537.7 1361 539.0 1362 543.7 1363 535.7 1364 541.8 1365 533.5 1366 545.3 1367 544.3 1368 546.3 1369 542.6 1370 541.5 1371 543.1 1372 540.0 1373 538.2 1374 541.9 1375 541.2 1376 540.4 1377 537.7 1378 535.7 1379 537.3 1380 538.0 1381 536.0 1382 533.8 1383 527.8 1384 525.2 1385 527.0 1386 527.1 1387 525.8 1388 528.0 1389 526.5 1390 525.5 1391 524.5 1392 524.6 1393 523.5 1394 522.1 1395 523.3 1396 516.1 1397 516.7 1398 517.6 1399 517.1 1400 519.0 1401 518.6 1402 517.7 1403 516.2 1404 518.5 1405 519.3 1406 508.4 1407 517.6 1408 517.9 1409 518.7 1410 514.9 1411 514.8 1412 517.4 1413 516.6 1414 513.9 1415 516.2 1416 517.7 1417 518.4 1418 515.6 1419 514.1 1420 511.5 1421 512.5 1422 514.9 1423 517.5 1424 522.6 1425 522.8 1426 525.8 1427 527.3 1428 524.4 1429 524.4 1430 522.9 1431 519.8 1432 518.9 1433 517.4 1434 512.5 1435 510.2 1436 510.1 1437 508.4 1438 511.0 1439 507.3 1440 504.2 1441 502.1 1442 504.7 1443 500.7 1444 492.7 1445 493.8 1446 492.0 1447 493.0 1448 494.0 1449 495.1 1450 492.2 1451 485.7 1452 493.9 1453 492.0 1454 493.2 1455 495.7 1456 492.6 1457 491.7 1458 491.9 1459 489.5 1460 489.3 1461 489.0 1462 487.9 1463 486.3 1464 488.5 1465 492.5 1466 490.5 1467 491.1 1468 491.5 1469 488.6 1470 487.4 1471 491.6 1472 492.6 1473 487.7 1474 489.8 1475 490.1 1476 489.9 1477 488.5 1478 484.7 1479 484.3 1480 482.6 1481 482.2 1482 481.3 1483 481.0 1484 480.8 1485 481.4 1486 479.3 1487 474.7 1488 474.1 1489 472.6 1490 465.0 1491 465.8 1492 464.7 1493 469.4 1494 471.5 1495 472.5 1496 468.3 1497 469.7 1498 468.5 1499 470.9 1500 469.5 1501 471.6 1502 472.2 1503 473.5 1504 471.4 1505 469.2 1506 469.4 1507 469.3 1508 469.7 1509 470.7 1510 469.0 1511 467.9 1512 468.8 1513 473.1 1514 468.4 1515 470.8 1516 469.2 1517 469.8 1518 475.4 1519 479.1 1520 479.7 1521 482.1 1522 481.7 1523 479.0 1524 482.6 1525 482.0 1526 482.7 1527 474.9 1528 472.3 1529 473.4 1530 479.2 1531 481.9 1532 482.2 1533 487.5 1534 488.0 1535 489.0 1536 483.1 1537 488.3 1538 487.5 1539 485.4 1540 485.9 1541 490.3 1542 492.0 1543 491.8 1544 491.9 1545 493.5 1546 497.6 1547 501.9 1548 504.0 1549 507.7 1550 510.2 1551 513.2 1552 504.9 1553 506.7 1554 506.5 1555 510.0 1556 510.5 1557 510.3 1558 510.6 1559 504.9 1560 502.8 1561 506.2 1562 505.2 1563 500.2 1564 500.3 1565 502.6 1566 499.5 1567 496.5 1568 500.3 1569 497.3 1570 497.5 1571 497.3 1572 502.0 1573 502.2 1574 504.7 1575 502.1 1576 503.1 1577 501.5 1578 501.1 1579 500.5 1580 499.0 1581 495.8 1582 496.6 1583 495.5 1584 497.0 1585 494.2 1586 493.1 1587 494.5 1588 496.8 1589 495.5 1590 494.2 1591 490.4 1592 489.7 1593 480.7 1594 491.3 1595 492.4 1596 491.8 1597 494.4 1598 491.6 1599 493.8 1600 490.7 1601 490.1 1602 490.6 1603 490.5 1604 492.3 1605 494.6 1606 491.5 1607 494.9 1608 493.6 1609 492.2 1610 492.5 1611 491.8 1612 489.7 1613 489.8 1614 487.5 1615 493.2 1616 493.5 1617 490.0 1618 493.6 1619 496.9 1620 497.5 1621 496.0 1622 502.8 1623 502.4 1624 502.2 1625 502.0 1626 502.5 1627 503.3 1628 502.1 1629 503.8 1630 504.2 1631 506.8 1632 502.8 1633 505.3 1634 506.5 1635 513.5 1636 515.4 1637 511.8 1638 514.1 1639 513.9 1640 515.1 1641 513.5 1642 512.6 1643 512.3 1644 514.8 1645 514.9 1646 515.7 1647 514.4 1648 509.9 1649 511.2 1650 516.0 1651 516.9 1652 519.5 1653 516.4 1654 514.7 1655 513.9 1656 515.7 1657 517.9 1658 518.7 1659 517.0 1660 516.4 1661 519.2 1662 522.3 1663 522.3 1664 517.5 1665 520.5 1666 520.1 1667 518.8 1668 521.0 1669 519.0 1670 517.8 1671 513.8 1672 516.9 1673 516.9 1674 516.9 1675 516.4 1676 513.2 1677 516.7 1678 504.4 1679 512.3 1680 506.6 1681 507.7 1682 508.4 1683 510.0 1684 507.3 1685 503.6 1686 504.3 1687 504.6 1688 504.5 1689 505.5 1690 503.7 1691 499.8 1692 497.4 1693 496.6 1694 494.6 1695 494.7 1696 496.1 1697 498.4 1698 496.7 1699 485.1 1700 494.3 1701 496.1 1702 495.6 1703 496.5 1704 497.0 1705 494.0 1706 497.3 1707 500.4 1708 501.3 1709 501.7 1710 502.2 1711 498.6 1712 497.6 1713 501.3 1714 504.4 1715 506.1 1716 506.5 1717 507.2 1718 505.3 1719 509.2 1720 506.1 1721 506.2 1722 507.2 1723 506.7 1724 508.0 1725 496.7 1726 508.2 1727 509.8 1728 509.9 1729 509.6 1730 509.2 1731 510.6 1732 512.8 1733 515.8 1734 515.3 1735 516.6 1736 521.1 1737 522.2 1738 522.1 1739 523.6 1740 523.2 1741 523.8 1742 520.7 1743 526.7 1744 527.1 1745 523.8 1746 524.3 1747 526.7 1748 525.6 1749 521.9 1750 521.4 1751 525.7 1752 526.9 1753 530.1 1754 531.5 1755 530.9 1756 526.0 1757 525.2 1758 525.7 1759 528.6 1760 528.7 1761 527.8 1762 527.8L1762 542.8 1761 543.8 1760 544.6 1759 544.5 1758 542.7 1757 542.2 1756 543.0 1755 544.7 1754 545.3 1753 543.8 1752 541.0 1751 539.9 1750 538.8 1749 539.3 1748 538.5 1747 539.7 1746 540.4 1745 539.1 1744 541.3 1743 542.2 1742 539.3 1741 538.9 1740 538.8 1739 537.2 1738 536.8 1737 535.8 1736 534.1 1735 531.8 1734 530.9 1733 531.4 1732 529.2 1731 535.6 1730 525.5 1729 523.2 1728 523.5 1727 523.1 1726 522.6 1725 526.5 1724 528.4 1723 527.2 1722 524.6 1721 521.6 1720 521.0 1719 531.0 1718 527.1 1717 521.9 1716 521.2 1715 522.0 1714 520.1 1713 518.5 1712 520.1 1711 521.0 1710 527.0 1709 516.1 1708 515.7 1707 515.5 1706 513.7 1705 510.4 1704 511.8 1703 512.4 1702 512.8 1701 513.3 1700 508.3 1699 510.6 1698 512.5 1697 514.2 1696 512.0 1695 509.7 1694 511.9 1693 517.1 1692 511.2 1691 517.2 1690 521.8 1689 518.5 1688 517.8 1687 517.9 1686 519.0 1685 521.1 1684 524.8 1683 522.9 1682 521.3 1681 520.7 1680 527.2 1679 528.9 1678 527.6 1677 531.8 1676 528.3 1675 530.8 1674 531.7 1673 531.6 1672 529.5 1671 528.7 1670 531.9 1669 532.9 1668 534.5 1667 533.7 1666 535.8 1665 536.3 1664 538.9 1663 540.0 1662 540.0 1661 533.5 1660 531.5 1659 532.4 1658 531.5 1657 530.7 1656 528.3 1655 528.5 1654 529.4 1653 531.1 1652 533.9 1651 533.2 1650 535.4 1649 530.6 1648 529.4 1647 527.7 1646 529.0 1645 530.2 1644 531.5 1643 529.0 1642 528.7 1641 528.1 1640 529.7 1639 530.3 1638 529.2 1637 528.4 1636 527.4 1635 529.2 1634 524.9 1633 524.4 1632 521.9 1631 523.5 1630 520.8 1629 521.6 1628 520.0 1627 516.9 1626 515.6 1625 513.5 1624 513.7 1623 517.0 1622 517.3 1621 509.0 1620 511.5 1619 511.0 1618 510.6 1617 507.2 1616 510.6 1615 507.0 1614 506.5 1613 506.8 1612 505.9 1611 508.0 1610 509.1 1609 507.6 1608 508.1 1607 512.4 1606 510.2 1605 513.3 1604 508.6 1603 506.7 1602 509.9 1601 508.3 1600 508.9 1599 507.9 1598 505.7 1597 506.3 1596 505.5 1595 506.1 1594 506.2 1593 507.5 1592 507.5 1591 507.2 1590 510.4 1589 510.1 1588 512.0 1587 509.7 1586 506.4 1585 507.5 1584 510.3 1583 507.9 1582 508.1 1581 509.4 1580 513.3 1579 514.4 1578 514.2 1577 514.6 1576 516.4 1575 517.5 1574 519.6 1573 520.2 1572 520.0 1571 511.1 1570 514.4 1569 513.7 1568 514.7 1567 514.6 1566 516.9 1565 520.0 1564 520.4 1563 522.4 1562 523.7 1561 523.0 1560 519.6 1559 521.9 1558 523.7 1557 522.5 1556 522.8 1555 525.7 1554 522.7 1553 522.9 1552 524.1 1551 524.5 1550 521.5 1549 519.4 1548 515.7 1547 513.3 1546 510.6 1545 512.2 1544 506.6 1543 504.1 1542 512.3 1541 502.9 1540 507.7 1539 507.7 1538 500.1 1537 501.6 1536 507.3 1535 504.6 1534 503.7 1533 503.0 1532 501.7 1531 497.1 1530 496.9 1529 500.8 1528 492.3 1527 494.9 1526 500.7 1525 494.0 1524 494.7 1523 495.7 1522 495.3 1521 495.7 1520 493.3 1519 492.3 1518 487.5 1517 489.4 1516 488.8 1515 488.5 1514 485.2 1513 484.9 1512 483.2 1511 484.3 1510 481.2 1509 484.9 1508 484.2 1507 489.3 1506 483.1 1505 486.6 1504 486.8 1503 488.6 1502 487.3 1501 486.3 1500 484.2 1499 485.4 1498 483.9 1497 485.1 1496 483.7 1495 486.1 1494 484.8 1493 482.8 1492 484.5 1491 488.4 1490 487.6 1489 490.6 1488 491.4 1487 492.1 1486 495.8 1485 504.6 1484 493.9 1483 494.2 1482 495.6 1481 502.3 1480 503.1 1479 504.9 1478 504.4 1477 502.8 1476 504.2 1475 503.6 1474 504.3 1473 501.6 1472 506.1 1471 505.1 1470 505.1 1469 506.3 1468 507.2 1467 504.3 1466 509.7 1465 512.2 1464 505.0 1463 502.9 1462 503.7 1461 505.7 1460 505.9 1459 505.2 1458 508.5 1457 508.3 1456 507.5 1455 508.1 1454 507.8 1453 506.1 1452 507.7 1451 505.0 1450 506.3 1449 508.2 1448 510.1 1447 509.7 1446 508.2 1445 513.5 1444 518.4 1443 515.2 1442 519.1 1441 516.8 1440 516.9 1439 520.0 1438 523.1 1437 524.9 1436 525.8 1435 525.7 1434 528.1 1433 528.7 1432 532.7 1431 533.7 1430 537.4 1429 539.3 1428 538.2 1427 541.1 1426 542.5 1425 539.4 1424 537.0 1423 534.2 1422 531.1 1421 528.7 1420 527.7 1419 529.1 1418 530.0 1417 531.2 1416 534.1 1415 532.8 1414 528.6 1413 530.0 1412 530.8 1411 531.3 1410 533.5 1409 542.2 1408 529.2 1407 532.4 1406 534.4 1405 535.7 1404 534.9 1403 531.1 1402 534.9 1401 535.8 1400 531.8 1399 531.9 1398 537.0 1397 531.5 1396 534.7 1395 535.5 1394 534.7 1393 536.0 1392 537.7 1391 539.8 1390 539.7 1389 540.7 1388 540.1 1387 539.4 1386 540.7 1385 543.4 1384 541.6 1383 544.2 1382 548.8 1381 551.0 1380 553.0 1379 555.7 1378 554.1 1377 556.2 1376 556.8 1375 557.0 1374 557.8 1373 557.2 1372 555.2 1371 556.3 1370 554.7 1369 556.9 1368 560.6 1367 562.8 1366 559.1 1365 554.3 1364 555.5 1363 557.4 1362 555.7 1361 555.6 1360 564.0 1359 549.8 1358 550.9 1357 551.6 1356 548.8 1355 548.1 1354 547.1 1353 547.3 1352 543.1 1351 545.4 1350 548.5 1349 548.4 1348 548.9 1347 544.7 1346 544.1 1345 544.8 1344 544.1 1343 545.1 1342 542.6 1341 544.5 1340 549.1 1339 549.2 1338 546.4 1337 542.8 1336 546.8 1335 547.6 1334 543.3 1333 543.9 1332 543.9 1331 544.6 1330 539.9 1329 540.6 1328 544.8 1327 545.6 1326 544.2 1325 545.9 1324 545.8 1323 547.1 1322 547.8 1321 547.1 1320 547.8 1319 547.7 1318 551.0 1317 550.9 1316 554.3 1315 556.6 1314 557.2 1313 558.0 1312 556.6 1311 557.2 1310 558.6 1309 562.5 1308 570.0 1307 568.8 1306 566.8 1305 559.5 1304 559.9 1303 559.1 1302 563.6 1301 561.4 1300 560.1 1299 563.3 1298 562.8 1297 572.3 1296 570.2 1295 571.3 1294 564.7 1293 566.4 1292 568.8 1291 570.5 1290 570.9 1289 566.8 1288 568.3 1287 564.6 1286 570.0 1285 568.6 1284 572.0 1283 573.9 1282 576.1 1281 573.1 1280 573.3 1279 579.1 1278 577.8 1277 589.7 1276 592.5 1275 588.8 1274 590.3 1273 596.8 1272 596.9 1271 593.5 1270 591.2 1269 590.4 1268 587.7 1267 589.0 1266 589.7 1265 588.6 1264 591.1 1263 590.0 1262 586.1 1261 582.8 1260 585.5 1259 584.1 1258 582.0 1257 589.8 1256 591.0 1255 580.7 1254 580.6 1253 579.4 1252 583.8 1251 582.5 1250 580.2 1249 580.0 1248 579.9 1247 578.6 1246 578.6 1245 578.1 1244 581.5 1243 579.8 1242 578.1 1241 579.9 1240 581.0 1239 582.3 1238 579.7 1237 582.7 1236 585.3 1235 585.4 1234 584.8 1233 583.5 1232 582.3 1231 580.0 1230 580.6 1229 583.6 1228 584.7 1227 586.9 1226 588.6 1225 591.5 1224 592.5 1223 593.5 1222 589.2 1221 595.1 1220 590.5 1219 590.7 1218 595.8 1217 598.0 1216 592.7 1215 594.0 1214 595.8 1213 602.2 1212 605.3 1211 607.2 1210 609.7 1209 611.5 1208 616.0 1207 617.3 1206 620.7 1205 620.4 1204 619.0 1203 615.8 1202 616.2 1201 615.4 1200 613.9 1199 613.3 1198 612.6 1197 610.7 1196 611.4 1195 609.1 1194 608.2 1193 606.6 1192 607.0 1191 605.0 1190 604.6 1189 603.0 1188 600.8 1187 600.6 1186 599.5 1185 597.8 1184 595.2 1183 595.3 1182 596.6 1181 595.6 1180 595.1 1179 594.7 1178 599.9 1177 602.4 1176 602.1 1175 593.8 1174 594.0 1173 590.2 1172 591.0 1171 589.9 1170 592.1 1169 587.7 1168 589.1 1167 589.4 1166 589.9 1165 592.0 1164 590.9 1163 594.4 1162 592.9 1161 590.0 1160 596.4 1159 595.8 1158 596.9 1157 596.1 1156 594.0 1155 594.8 1154 593.1 1153 599.0 1152 604.0 1151 595.6 1150 595.8 1149 595.3 1148 595.6 1147 596.0 1146 599.5 1145 602.3 1144 599.4 1143 599.8 1142 600.7 1141 600.1 1140 600.0 1139 599.3 1138 599.1 1137 602.0 1136 601.0 1135 601.5 1134 602.6 1133 609.2 1132 605.8 1131 606.2 1130 610.8 1129 605.7 1128 608.8 1127 611.8 1126 613.9 1125 613.7 1124 617.6 1123 619.1 1122 617.7 1121 618.4 1120 618.6 1119 619.1 1118 620.4 1117 624.9 1116 627.2 1115 628.4 1114 630.3 1113 629.8 1112 627.2 1111 625.9 1110 625.4 1109 629.0 1108 631.8 1107 631.1 1106 627.3 1105 626.7 1104 628.1 1103 626.4 1102 623.2 1101 625.5 1100 623.3 1099 619.3 1098 620.2 1097 618.7 1096 618.2 1095 619.5 1094 621.4 1093 619.2 1092 620.0 1091 612.6 1090 612.1 1089 617.8 1088 618.9 1087 619.7 1086 619.3 1085 617.6 1084 617.9 1083 620.5 1082 622.7 1081 621.3 1080 628.5 1079 632.5 1078 629.4 1077 628.3 1076 628.4 1075 626.6 1074 626.4 1073 633.5 1072 629.7 1071 633.7 1070 636.7 1069 636.6 1068 633.9 1067 633.9 1066 635.8 1065 633.1 1064 635.7 1063 631.2 1062 635.6 1061 635.5 1060 634.1 1059 634.1 1058 631.7 1057 631.0 1056 632.8 1055 634.3 1054 635.1 1053 637.6 1052 636.3 1051 635.0 1050 635.7 1049 637.6 1048 635.7 1047 634.0 1046 635.2 1045 635.5 1044 637.0 1043 632.8 1042 632.8 1041 633.2 1040 632.7 1039 631.9 1038 634.6 1037 634.6 1036 634.7 1035 636.9 1034 633.5 1033 635.1 1032 637.9 1031 634.3 1030 635.0 1029 629.7 1028 632.3 1027 624.8 1026 624.6 1025 625.1 1024 622.2 1023 622.1 1022 623.2 1021 626.6 1020 625.4 1019 622.3 1018 620.1 1017 618.1 1016 621.8 1015 623.4 1014 621.8 1013 616.0 1012 617.1 1011 617.7 1010 618.4 1009 618.3 1008 618.4 1007 616.7 1006 618.8 1005 622.5 1004 626.1 1003 624.9 1002 625.9 1001 624.8 1000 624.0 999 621.7 998 624.8 997 623.3 996 626.1 995 626.9 994 630.7 993 626.0 992 625.1 991 626.5 990 628.6 989 632.7 988 635.3 987 634.8 986 633.5 985 635.6 984 636.4 983 635.3 982 641.9 981 642.8 980 640.7 979 639.9 978 641.6 977 646.9 976 638.5 975 639.8 974 639.3 973 641.7 972 638.8 971 632.8 970 638.7 969 636.0 968 637.1 967 629.8 966 631.5 965 637.1 964 631.8 963 632.2 962 629.1 961 629.8 960 628.7 959 628.2 958 629.8 957 632.8 956 634.6 955 635.9 954 634.5 953 633.1 952 638.8 951 636.5 950 634.8 949 637.0 948 635.4 947 636.4 946 636.8 945 637.8 944 637.6 943 633.3 942 635.7 941 636.7 940 636.1 939 636.6 938 634.8 937 634.9 936 636.9 935 639.5 934 642.0 933 643.4 932 642.8 931 643.8 930 644.9 929 645.0 928 646.5 927 652.0 926 654.6 925 656.2 924 651.6 923 649.1 922 650.1 921 651.4 920 649.7 919 647.6 918 648.4 917 650.3 916 659.9 915 647.8 914 647.6 913 647.2 912 650.6 911 649.6 910 651.4 909 647.3 908 644.9 907 642.8 906 641.7 905 639.6 904 641.4 903 641.5 902 641.2 901 646.4 900 643.3 899 644.2 898 643.1 897 645.2 896 652.7 895 649.8 894 643.8 893 640.8 892 642.5 891 642.2 890 640.6 889 637.6 888 636.9 887 638.1 886 636.0 885 635.1 884 635.2 883 634.5 882 638.2 881 635.6 880 632.0 879 630.1 878 626.8 877 628.7 876 625.6 875 624.8 874 627.9 873 629.3 872 634.0 871 640.7 870 633.0 869 633.7 868 630.8 867 631.1 866 630.7 865 632.4 864 633.8 863 633.4 862 633.9 861 635.5 860 636.3 859 636.3 858 636.8 857 639.0 856 638.9 855 639.3 854 637.9 853 638.8 852 638.6 851 637.6 850 635.4 849 634.8 848 634.6 847 637.3 846 636.4 845 635.8 844 635.5 843 637.7 842 654.5 841 648.3 840 642.0 839 639.9 838 641.1 837 645.5 836 646.1 835 646.9 834 644.8 833 647.7 832 648.7 831 646.7 830 646.4 829 648.8 828 653.1 827 653.2 826 653.3 825 657.0 824 665.7 823 657.6 822 659.7 821 659.0 820 660.5 819 666.1 818 667.6 817 667.1 816 663.9 815 666.5 814 670.5 813 671.8 812 671.6 811 673.3 810 669.1 809 670.9 808 671.1 807 670.0 806 668.7 805 667.4 804 668.4 803 666.9 802 667.3 801 668.3 800 669.7 799 668.1 798 668.3 797 672.6 796 674.4 795 672.7 794 673.6 793 673.9 792 674.8 791 671.7 790 669.5 789 670.1 788 668.5 787 670.2 786 670.2 785 670.0 784 668.1 783 667.9 782 663.9 781 661.0 780 663.2 779 661.0 778 658.5 777 660.2 776 657.3 775 655.5 774 652.5 773 649.9 772 649.0 771 656.1 770 657.5 769 655.8 768 647.7 767 646.2 766 644.7 765 645.5 764 652.9 763 654.4 762 654.8 761 655.2 760 659.2 759 664.4 758 666.9 757 663.1 756 665.0 755 664.7 754 668.4 753 670.2 752 672.7 751 671.3 750 673.3 749 671.7 748 671.6 747 670.3 746 672.5 745 670.6 744 673.7 743 673.6 742 674.7 741 678.5 740 676.9 739 676.5 738 677.1 737 675.7 736 673.8 735 674.8 734 674.1 733 673.1 732 677.7 731 680.9 730 679.6 729 680.2 728 684.3 727 681.6 726 685.5 725 697.0 724 689.7 723 691.8 722 688.8 721 692.5 720 691.6 719 692.2 718 691.8 717 691.8 716 692.3 715 693.2 714 694.9 713 696.5 712 693.8 711 695.5 710 707.2 709 699.5 708 698.5 707 701.7 706 697.9 705 700.4 704 705.7 703 710.1 702 711.4 701 716.0 700 715.1 699 717.6 698 714.8 697 716.3 696 717.5 695 720.7 694 722.5 693 726.0 692 727.1 691 728.8 690 731.8 689 731.3 688 733.5 687 732.7 686 732.7 685 730.9 684 730.7 683 734.9 682 734.0 681 729.9 680 728.4 679 728.4 678 729.0 677 730.1 676 728.1 675 733.0 674 731.2 673 729.7 672 728.8 671 733.3 670 735.3 669 736.1 668 738.8 667 738.3 666 738.0 665 735.2 664 732.4 663 735.4 662 737.5 661 742.0 660 739.5 659 742.4 658 743.3 657 741.6 656 742.5 655 741.7 654 747.8 653 745.6 652 750.2 651 752.2 650 749.4 649 750.5 648 753.3 647 756.2 646 753.4 645 756.5 644 755.3 643 756.4 642 758.2 641 761.3 640 765.9 639 766.7 638 766.5 637 765.4 636 764.5 635 767.2 634 767.0 633 768.2 632 769.4 631 773.6 630 776.9 629 780.9 628 784.7 627 784.1 626 785.1 625 784.8 624 785.4 623 788.5 622 790.7 621 792.7 620 796.8 619 796.3 618 792.7 617 795.8 616 796.0 615 797.6 614 796.8 613 794.9 612 797.3 611 796.8 610 794.0 609 794.6 608 798.0 607 799.6 606 799.7 605 805.9 604 814.1 603 816.7 602 809.7 601 818.2 600 818.0 599 830.7 598 816.7 597 824.0 596 820.3 595 820.3 594 822.8 593 822.9 592 825.8 591 824.3 590 827.4 589 830.9 588 829.9 587 832.3 586 841.6 585 844.1 584 845.4 583 843.6 582 842.5 581 841.2 580 843.5 579 848.5 578 848.2 577 850.3 576 850.5 575 854.3 574 850.0 573 849.6 572 849.8 571 852.7 570 851.8 569 853.9 568 856.4 567 863.6 566 865.9 565 868.6 564 867.9 563 868.5 562 870.7 561 872.8 560 872.0 559 876.1 558 878.8 557 880.6 556 882.5 555 884.0 554 887.1 553 894.3 552 893.9 551 896.1 550 896.5 549 896.8 548 905.6 547 907.6 546 899.6 545 903.4 544 905.1 543 906.1 542 908.6 541 910.2 540 908.0 539 907.1 538 907.9 537 908.7 536 910.1 535 910.4 534 914.1 533 916.7 532 917.5 531 919.2 530 924.5 529 925.9 528 925.7 527 928.1 526 933.5 525 933.2 524 933.4 523 934.1 522 939.7 521 943.8 520 944.7 519 953.2 518 950.7 517 952.6 516 953.8 515 959.9 514 961.7 513 961.1 512 970.3 511 965.3 510 968.5 509 974.6 508 977.0 507 975.9 506 976.9 505 982.0 504 982.1 503 986.8 502 994.0 501 994.9 500 997.6 499 997.7 498 1000.5 497 1002.4 496 1005.0 495 1009.8 494 1009.9 493 1014.3 492 1020.2 491 1023.6 490 1030.9 489 1036.3 488 1041.2 487 1048.6 486 1056.7 485 1061.7 484 1070.6 483 1072.8 482 1079.8 481 1083.3 480 1088.7 479 1094.4 478 1095.4 477 1099.7 476 1104.5 475 1104.5 474 1108.6 473 1112.2 472 1117.6 471 1125.6 470 1127.2 469 1132.6 468 1138.8 467 1142.4 466 1144.1 465 1147.9 464 1150.4 463 1153.3 462 1156.6 461 1160.4 460 1162.3 459 1165.8 458 1171.1 457 1177.1 456 1179.8 455 1187.7 454 1191.9 453 1197.0 452 1201.9 451 1205.8 450 1208.9 449 1211.0 448 1213.8 447 1215.6 446 1217.4 445 1218.6 444 1219.4 443 1219.7Z"/><path fill="none" stroke-width="3.5" stroke-linejoin="round" d="M443 1217.3 444 1216.3 445 1215.7 446 1214.5 447 1212.0 448 1210.3 449 1207.5 450 1204.4 451 1201.3 452 1197.4 453 1192.5 454 1187.5 455 1183.3 456 1176.8 457 1171.8 458 1167.2 459 1161.9 460 1158.4 461 1155.9 462 1152.2 463 1148.9 464 1146.8 465 1142.4 466 1138.2 467 1136.3 468 1132.4 469 1126.0 470 1121.5 471 1119.7 472 1111.6 473 1108.0 474 1104.3 475 1099.1 476 1095.8 477 1090.8 478 1089.8 479 1088.6 480 1082.5 481 1078.1 482 1074.4 483 1067.2 484 1061.4 485 1052.4 486 1046.0 487 1037.4 488 1031.2 489 1026.3 490 1022.2 491 1015.0 492 1011.6 493 1008.6 494 1004.2 495 1003.3 496 998.4 497 994.6 498 992.6 499 988.8 500 988.7 501 986.0 502 985.9 503 980.5 504 975.7 505 975.2 506 970.2 507 969.2 508 964.6 509 962.2 510 961.3 511 958.1 512 953.3 513 950.3 514 950.4 515 948.5 516 947.5 517 945.3 518 943.4 519 940.8 520 936.8 521 935.9 522 934.2 523 928.6 524 927.0 525 926.9 526 927.8 527 922.4 528 920.0 529 918.4 530 916.9 531 912.8 532 911.0 533 907.9 534 906.0 535 903.6 536 903.2 537 901.9 538 901.9 539 901.1 540 902.0 541 903.9 542 902.3 543 899.8 544 898.5 545 896.7 546 893.0 547 892.3 548 890.4 549 890.6 550 888.4 551 888.0 552 887.0 553 883.7 554 880.8 555 877.8 556 875.1 557 874.6 558 871.6 559 868.9 560 865.6 561 866.3 562 863.5 563 861.3 564 858.0 565 857.0 566 854.3 567 852.1 568 847.7 569 844.5 570 844.8 571 845.7 572 842.0 573 841.9 574 841.5 575 845.8 576 842.0 577 839.2 578 836.1 579 836.4 580 836.8 581 834.6 582 835.5 583 837.0 584 833.6 585 832.3 586 829.8 587 826.8 588 824.4 589 822.5 590 819.0 591 818.0 592 818.4 593 815.5 594 813.6 595 811.2 596 811.1 597 810.0 598 810.6 599 808.7 600 804.9 601 805.1 602 803.5 603 804.4 604 804.2 605 798.0 606 794.0 607 794.0 608 792.4 609 788.3 610 787.7 611 790.1 612 790.6 613 788.2 614 788.0 615 788.8 616 787.2 617 789.0 618 786.0 619 788.1 620 788.5 621 786.9 622 784.9 623 782.7 624 779.0 625 779.1 626 779.4 627 778.4 628 776.4 629 774.1 630 770.2 631 767.1 632 762.9 633 762.6 634 759.6 635 759.8 636 757.1 637 758.2 638 758.9 639 759.2 640 758.3"/></g><g fill="#e757ad" stroke="#e757ad" opacity="0.80"><path stroke="none" d="M443 1209.5 444 1212.6 445 1208.9 446 1207.8 447 1205.9 448 1201.9 449 1198.6 450 1194.6 451 1188.7 452 1183.1 453 1177.7 454 1169.9 455 1168.6 456 1163.6 457 1159.8 458 1154.9 459 1151.6 460 1145.3 461 1140.8 462 1137.2 463 1134.2 464 1128.8 465 1125.9 466 1122.3 467 1117.0 468 1111.2 469 1109.0 470 1101.9 471 1093.2 472 1083.9 473 1078.7 474 1068.2 475 1061.0 476 1054.4 477 1041.4 478 1036.4 479 1028.6 480 1019.7 481 1009.8 482 1004.6 483 999.5 484 997.7 485 992.3 486 991.2 487 989.6 488 989.0 489 987.7 490 986.8 491 985.4 492 979.5 493 975.5 494 970.9 495 967.8 496 964.3 497 956.4 498 952.1 499 949.5 500 940.2 501 936.0 502 938.7 503 935.0 504 932.6 505 928.3 506 928.7 507 925.6 508 923.3 509 921.7 510 919.1 511 917.2 512 919.1 513 916.8 514 916.4 515 913.1 516 910.8 517 907.9 518 904.1 519 901.7 520 899.2 521 887.3 522 890.3 523 889.0 524 883.6 525 888.7 526 882.0 527 880.9 528 877.9 529 870.4 530 867.7 531 862.4 532 855.6 533 850.7 534 846.8 535 842.0 536 837.2 537 830.9 538 828.2 539 826.0 540 825.1 541 823.3 542 820.1 543 818.5 544 815.7 545 814.3 546 814.0 547 810.7 548 809.7 549 808.7 550 807.5 551 807.7 552 803.4 553 801.9 554 803.4 555 787.0 556 798.3 557 795.5 558 789.5 559 785.8 560 788.5 561 780.5 562 778.0 563 775.1 564 772.2 565 769.8 566 770.2 567 768.3 568 767.7 569 767.2 570 766.3 571 761.7 572 761.0 573 758.0 574 756.0 575 753.9 576 754.4 577 751.1 578 749.1 579 748.3 580 748.7 581 748.4 582 733.2 583 743.2 584 746.3 585 745.3 586 744.9 587 741.7 588 739.8 589 737.4 590 731.8 591 738.8 592 735.1 593 731.9 594 734.9 595 730.9 596 729.6 597 727.1 598 723.6 599 724.2 600 726.3 601 724.7 602 723.5 603 721.6 604 717.5 605 717.4 606 704.4 607 709.8 608 710.4 609 713.2 610 712.9 611 713.1 612 715.1 613 714.7 614 713.1 615 712.0 616 707.4 617 704.8 618 705.1 619 705.9 620 703.9 621 702.4 622 700.2 623 700.6 624 699.2 625 696.0 626 698.4 627 698.2 628 700.0 629 701.3 630 700.1 631 700.8 632 699.3 633 698.3 634 699.8 635 699.7 636 696.0 637 693.5 638 693.6 639 692.5 640 694.4 641 698.2 642 697.8 643 697.8 644 695.5 645 696.0 646 695.9 647 696.1 648 694.9 649 686.8 650 693.6 651 692.4 652 696.4 653 694.9 654 693.2 655 690.7 656 690.7 657 686.1 658 689.0 659 687.2 660 685.7 661 686.1 662 685.0 663 687.8 664 684.8 665 685.2 666 684.0 667 683.2 668 687.0 669 685.3 670 684.6 671 684.0 672 680.8 673 678.6 674 675.5 675 676.3 676 677.8 677 677.6 678 676.6 679 674.9 680 674.5 681 670.7 682 673.2 683 670.5 684 665.0 685 664.5 686 660.6 687 656.3 688 652.6 689 653.6 690 649.1 691 645.9 692 642.8 693 640.2 694 633.2 695 629.3 696 626.7 697 625.2 698 625.3 699 623.4 700 621.2 701 617.6 702 616.8 703 614.5 704 611.0 705 608.3 706 609.1 707 605.7 708 600.0 709 600.6 710 604.1 711 602.4 712 604.0 713 600.9 714 599.2 715 592.0 716 598.0 717 597.8 718 601.7 719 595.5 720 595.0 721 592.0 722 595.6 723 591.7 724 593.0 725 594.1 726 590.0 727 590.6 728 592.3 729 590.4 730 591.7 731 593.3 732 596.0 733 592.1 734 591.4 735 589.0 736 589.5 737 586.2 738 582.6 739 581.6 740 582.0 741 577.9 742 574.6 743 566.1 744 571.7 745 570.1 746 565.3 747 562.5 748 562.4 749 563.5 750 561.4 751 561.2 752 563.3 753 561.4 754 560.3 755 557.8 756 557.4 757 554.4 758 553.4 759 551.4 760 550.9 761 550.3 762 547.5 763 548.1 764 543.9 765 543.8 766 542.3 767 546.3 768 547.9 769 546.0 770 541.7 771 540.0 772 542.4 773 543.0 774 541.0 775 538.3 776 539.1 777 537.4 778 532.6 779 529.5 780 527.4 781 526.1 782 524.2 783 526.2 784 520.6 785 528.7 786 527.6 787 530.3 788 528.0 789 534.5 790 536.1 791 538.9 792 539.7 793 537.4 794 535.7 795 527.1 796 526.1 797 538.4 798 540.4 799 538.5 800 541.7 801 540.2 802 539.3 803 536.5 804 537.1 805 540.0 806 542.1 807 543.6 808 543.7 809 541.9 810 541.6 811 543.2 812 540.6 813 542.5 814 541.0 815 532.6 816 538.5 817 538.0 818 539.5 819 538.7 820 538.7 821 535.6 822 535.9 823 538.7 824 543.4 825 547.2 826 550.2 827 553.2 828 552.5 829 555.0 830 557.4 831 560.0 832 562.8 833 563.3 834 561.0 835 562.1 836 566.7 837 566.5 838 564.7 839 564.3 840 564.9 841 571.5 842 574.0 843 570.8 844 569.3 845 571.0 846 572.1 847 571.9 848 576.5 849 570.9 850 575.5 851 576.7 852 578.6 853 577.8 854 577.8 855 579.8 856 579.2 857 579.0 858 582.3 859 583.6 860 587.6 861 584.6 862 586.4 863 587.2 864 584.9 865 587.9 866 591.8 867 591.6 868 593.1 869 596.8 870 593.2 871 584.9 872 590.3 873 587.9 874 588.6 875 588.7 876 593.3 877 591.9 878 589.5 879 589.7 880 589.7 881 586.2 882 584.1 883 581.0 884 579.7 885 584.1 886 579.9 887 578.1 888 577.4 889 579.7 890 577.7 891 577.2 892 572.4 893 573.5 894 567.3 895 566.0 896 572.6 897 574.7 898 573.8 899 574.7 900 573.8 901 572.7 902 572.7 903 576.4 904 576.7 905 582.7 906 584.0 907 583.9 908 584.3 909 585.4 910 587.9 911 587.2 912 587.5 913 589.7 914 589.5 915 589.9 916 591.6 917 590.5 918 591.3 919 588.2 920 587.0 921 584.7 922 585.0 923 583.3 924 579.3 925 577.2 926 578.1 927 580.2 928 577.8 929 573.0 930 577.0 931 575.5 932 575.1 933 574.7 934 575.3 935 573.8 936 574.9 937 574.3 938 569.3 939 570.2 940 569.1 941 569.3 942 568.1 943 566.3 944 565.3 945 566.9 946 565.4 947 564.2 948 564.7 949 563.8 950 560.0 951 561.2 952 561.2 953 558.1 954 557.2 955 554.9 956 550.3 957 550.3 958 549.7 959 549.9 960 548.5 961 548.1 962 548.1 963 537.9 964 548.4 965 550.3 966 550.1 967 549.8 968 549.2 969 542.7 970 544.1 971 548.8 972 548.4 973 548.6 974 550.6 975 547.5 976 547.4 977 550.6 978 550.0 979 546.0 980 545.5 981 543.7 982 543.1 983 543.5 984 545.3 985 545.0 986 545.9 987 543.6 988 541.3 989 546.9 990 551.2 991 550.9 992 555.2 993 554.1 994 549.9 995 552.7 996 552.2 997 554.6 998 553.3 999 554.3 1000 549.8 1001 546.0 1002 547.4 1003 553.2 1004 553.6 1005 555.7 1006 559.2 1007 558.9 1008 558.9 1009 560.8 1010 559.5 1011 562.7 1012 562.4 1013 562.9 1014 563.6 1015 565.1 1016 559.1 1017 556.8 1018 558.1 1019 557.7 1020 555.4 1021 553.4 1022 554.7 1023 556.2 1024 559.0 1025 558.6 1026 557.7 1027 551.0 1028 553.3 1029 554.5 1030 556.4 1031 558.7 1032 557.0 1033 554.7 1034 556.8 1035 555.9 1036 554.9 1037 555.8 1038 554.3 1039 553.0 1040 554.7 1041 547.0 1042 549.7 1043 553.0 1044 553.4 1045 552.8 1046 553.6 1047 553.7 1048 555.6 1049 554.5 1050 556.1 1051 556.2 1052 558.2 1053 557.6 1054 557.2 1055 558.6 1056 556.1 1057 555.7 1058 552.9 1059 554.5 1060 551.7 1061 554.1 1062 554.8 1063 553.8 1064 553.2 1065 551.9 1066 553.9 1067 551.8 1068 548.9 1069 552.5 1070 553.4 1071 552.1 1072 545.4 1073 543.4 1074 548.2 1075 548.9 1076 552.4 1077 550.8 1078 550.0 1079 547.9 1080 550.3 1081 546.4 1082 546.1 1083 548.1 1084 545.3 1085 538.5 1086 539.0 1087 536.6 1088 536.9 1089 536.8 1090 535.1 1091 536.9 1092 539.6 1093 538.6 1094 537.3 1095 538.5 1096 535.8 1097 534.2 1098 534.4 1099 533.4 1100 529.2 1101 531.1 1102 528.5 1103 528.2 1104 529.5 1105 527.1 1106 523.9 1107 526.1 1108 527.0 1109 528.5 1110 528.1 1111 528.7 1112 529.9 1113 531.2 1114 526.3 1115 527.5 1116 525.4 1117 520.8 1118 523.3 1119 525.8 1120 524.8 1121 526.1 1122 524.8 1123 523.8 1124 528.2 1125 525.1 1126 525.5 1127 528.2 1128 532.7 1129 530.4 1130 525.9 1131 523.3 1132 522.2 1133 522.7 1134 526.1 1135 527.7 1136 528.7 1137 529.4 1138 526.4 1139 526.6 1140 527.4 1141 524.4 1142 524.8 1143 527.8 1144 528.3 1145 530.0 1146 530.8 1147 526.6 1148 527.8 1149 527.8 1150 533.3 1151 534.4 1152 534.1 1153 532.4 1154 533.2 1155 536.7 1156 539.0 1157 538.5 1158 536.5 1159 537.6 1160 536.8 1161 533.1 1162 532.2 1163 535.2 1164 532.1 1165 532.2 1166 528.7 1167 528.7 1168 525.7 1169 524.2 1170 520.1 1171 524.1 1172 523.6 1173 524.2 1174 520.7 1175 520.7 1176 525.6 1177 526.2 1178 526.2 1179 522.0 1180 522.5 1181 523.8 1182 528.1 1183 530.9 1184 528.7 1185 529.3 1186 533.7 1187 533.4 1188 533.3 1189 534.7 1190 529.5 1191 529.2 1192 527.7 1193 531.4 1194 530.6 1195 530.5 1196 531.6 1197 535.1 1198 532.9 1199 531.9 1200 530.0 1201 519.4 1202 527.6 1203 526.1 1204 527.2 1205 524.1 1206 520.8 1207 521.2 1208 524.1 1209 526.4 1210 521.7 1211 521.0 1212 521.5 1213 522.8 1214 521.3 1215 521.0 1216 519.5 1217 519.7 1218 519.0 1219 509.7 1220 508.6 1221 506.4 1222 500.2 1223 498.1 1224 498.5 1225 494.9 1226 492.4 1227 490.2 1228 486.7 1229 487.0 1230 488.4 1231 488.5 1232 483.0 1233 483.5 1234 481.7 1235 485.1 1236 481.3 1237 484.5 1238 480.4 1239 476.7 1240 478.4 1241 475.9 1242 482.5 1243 482.1 1244 482.1 1245 474.4 1246 478.7 1247 480.6 1248 480.8 1249 483.6 1250 479.8 1251 477.9 1252 473.1 1253 474.8 1254 468.1 1255 473.7 1256 470.0 1257 468.3 1258 464.2 1259 463.6 1260 464.5 1261 464.9 1262 461.4 1263 464.0 1264 459.4 1265 462.1 1266 460.0 1267 460.4 1268 459.0 1269 457.8 1270 455.0 1271 455.8 1272 451.0 1273 453.3 1274 454.5 1275 452.9 1276 454.4 1277 455.6 1278 451.0 1279 451.6 1280 451.3 1281 448.2 1282 447.5 1283 444.2 1284 435.5 1285 443.5 1286 435.4 1287 434.8 1288 432.4 1289 439.6 1290 438.0 1291 438.3 1292 436.0 1293 435.4 1294 433.2 1295 433.1 1296 437.1 1297 440.3 1298 436.7 1299 437.2 1300 436.8 1301 436.7 1302 437.9 1303 438.8 1304 439.8 1305 442.4 1306 444.4 1307 445.4 1308 446.0 1309 448.1 1310 449.2 1311 452.7 1312 448.2 1313 446.3 1314 446.8 1315 450.3 1316 450.7 1317 451.9 1318 448.9 1319 449.0 1320 449.4 1321 450.3 1322 447.9 1323 449.1 1324 445.0 1325 450.6 1326 449.2 1327 450.0 1328 456.0 1329 456.7 1330 459.9 1331 457.8 1332 458.7 1333 461.4 1334 456.0 1335 459.8 1336 456.3 1337 459.2 1338 460.8 1339 459.8 1340 460.1 1341 461.2 1342 458.5 1343 459.2 1344 461.3 1345 460.6 1346 462.4 1347 458.7 1348 455.6 1349 453.4 1350 453.6 1351 455.6 1352 452.8 1353 451.6 1354 452.3 1355 454.0 1356 454.1 1357 455.8 1358 456.1 1359 458.5 1360 454.5 1361 454.6 1362 456.9 1363 452.4 1364 455.0 1365 455.2 1366 458.3 1367 457.8 1368 461.0 1369 463.1 1370 465.4 1371 465.3 1372 462.5 1373 463.8 1374 459.4 1375 465.5 1376 449.6 1377 459.6 1378 459.0 1379 454.6 1380 462.1 1381 463.5 1382 469.4 1383 469.6 1384 468.4 1385 465.6 1386 463.3 1387 466.9 1388 465.4 1389 465.7 1390 466.8 1391 465.9 1392 466.0 1393 462.5 1394 462.3 1395 461.9 1396 459.3 1397 461.0 1398 460.1 1399 460.0 1400 460.2 1401 460.5 1402 464.6 1403 464.6 1404 464.5 1405 465.2 1406 463.7 1407 462.9 1408 455.0 1409 461.6 1410 459.2 1411 455.6 1412 455.2 1413 455.6 1414 457.1 1415 451.6 1416 451.8 1417 451.6 1418 455.1 1419 458.8 1420 456.0 1421 453.8 1422 448.0 1423 454.5 1424 454.4 1425 455.4 1426 452.4 1427 450.9 1428 449.9 1429 448.9 1430 448.4 1431 444.4 1432 443.5 1433 441.4 1434 445.9 1435 440.4 1436 445.0 1437 446.3 1438 446.2 1439 440.6 1440 447.5 1441 445.4 1442 439.4 1443 437.9 1444 435.5 1445 436.1 1446 435.7 1447 432.1 1448 436.3 1449 437.7 1450 438.5 1451 438.9 1452 436.1 1453 438.6 1454 435.0 1455 435.4 1456 434.5 1457 438.4 1458 441.7 1459 442.7 1460 439.5 1461 442.3 1462 442.8 1463 443.3 1464 447.1 1465 449.0 1466 446.9 1467 451.6 1468 450.4 1469 449.4 1470 441.8 1471 439.4 1472 437.6 1473 437.9 1474 428.5 1475 433.6 1476 430.2 1477 421.7 1478 429.4 1479 429.9 1480 432.7 1481 428.2 1482 426.8 1483 422.1 1484 422.4 1485 422.8 1486 422.0 1487 420.0 1488 419.0 1489 417.0 1490 419.3 1491 417.8 1492 417.7 1493 422.9 1494 423.6 1495 423.4 1496 424.3 1497 423.1 1498 416.7 1499 418.7 1500 420.6 1501 426.3 1502 427.6 1503 426.4 1504 424.8 1505 425.1 1506 425.7 1507 416.4 1508 429.0 1509 429.6 1510 433.1 1511 431.8 1512 428.5 1513 430.6 1514 429.0 1515 430.2 1516 429.5 1517 424.4 1518 426.9 1519 431.4 1520 432.4 1521 432.9 1522 432.6 1523 431.5 1524 430.2 1525 436.5 1526 434.9 1527 432.5 1528 435.5 1529 436.7 1530 438.2 1531 436.7 1532 435.5 1533 432.4 1534 437.3 1535 433.3 1536 435.5 1537 434.4 1538 435.5 1539 435.7 1540 436.0 1541 437.1 1542 439.8 1543 434.1 1544 434.8 1545 436.0 1546 435.6 1547 437.2 1548 440.0 1549 437.1 1550 439.9 1551 439.8 1552 445.0 1553 442.2 1554 443.9 1555 447.0 1556 449.6 1557 447.1 1558 444.7 1559 442.8 1560 443.6 1561 437.0 1562 436.5 1563 441.8 1564 440.6 1565 438.9 1566 442.7 1567 445.9 1568 447.3 1569 445.5 1570 444.0 1571 444.9 1572 445.0 1573 442.8 1574 442.9 1575 442.7 1576 440.7 1577 440.2 1578 438.5 1579 437.3 1580 429.2 1581 426.0 1582 425.6 1583 420.6 1584 419.0 1585 418.9 1586 418.9 1587 420.3 1588 421.1 1589 421.8 1590 419.6 1591 419.1 1592 418.4 1593 420.2 1594 419.6 1595 424.9 1596 426.4 1597 425.9 1598 423.2 1599 422.3 1600 424.8 1601 414.7 1602 417.1 1603 423.6 1604 424.0 1605 425.9 1606 424.2 1607 426.0 1608 422.2 1609 423.1 1610 422.5 1611 423.8 1612 424.9 1613 427.0 1614 426.8 1615 425.8 1616 424.3 1617 415.1 1618 424.2 1619 422.3 1620 419.9 1621 421.1 1622 422.8 1623 424.5 1624 426.2 1625 424.7 1626 426.9 1627 426.2 1628 429.6 1629 429.5 1630 431.6 1631 431.8 1632 431.2 1633 431.4 1634 434.7 1635 436.0 1636 439.5 1637 438.4 1638 436.8 1639 439.1 1640 439.8 1641 434.8 1642 437.5 1643 436.1 1644 444.4 1645 442.2 1646 441.9 1647 441.0 1648 439.7 1649 440.6 1650 446.2 1651 450.0 1652 451.7 1653 445.2 1654 447.8 1655 450.7 1656 451.5 1657 446.6 1658 448.8 1659 449.0 1660 453.4 1661 453.9 1662 453.8 1663 452.4 1664 452.0 1665 453.6 1666 455.6 1667 452.5 1668 447.0 1669 450.3 1670 451.3 1671 449.4 1672 450.3 1673 448.4 1674 446.8 1675 446.3 1676 451.2 1677 449.4 1678 450.1 1679 448.7 1680 446.1 1681 450.5 1682 451.3 1683 449.7 1684 444.9 1685 443.5 1686 445.2 1687 443.2 1688 442.9 1689 440.6 1690 433.1 1691 434.5 1692 435.3 1693 430.8 1694 430.0 1695 426.2 1696 430.5 1697 433.7 1698 429.7 1699 425.8 1700 426.3 1701 425.5 1702 426.0 1703 424.7 1704 417.5 1705 417.7 1706 417.5 1707 417.4 1708 418.0 1709 417.9 1710 416.7 1711 417.3 1712 418.0 1713 415.1 1714 413.6 1715 412.6 1716 406.3 1717 411.5 1718 411.4 1719 408.8 1720 406.7 1721 406.7 1722 402.5 1723 400.8 1724 402.1 1725 406.3 1726 404.4 1727 406.9 1728 409.3 1729 404.1 1730 406.0 1731 404.3 1732 404.1 1733 401.2 1734 405.4 1735 402.3 1736 401.7 1737 400.0 1738 400.0 1739 398.9 1740 398.8 1741 398.5 1742 400.1 1743 399.2 1744 399.0 1745 399.1 1746 398.3 1747 401.5 1748 403.0 1749 402.0 1750 403.7 1751 401.7 1752 408.2 1753 405.8 1754 407.5 1755 408.2 1756 402.1 1757 405.1 1758 410.3 1759 411.9 1760 413.5 1761 408.1 1762 409.5L1762 432.7 1761 431.2 1760 429.3 1759 430.3 1758 428.7 1757 428.4 1756 420.5 1755 429.9 1754 424.0 1753 422.3 1752 423.8 1751 420.8 1750 422.8 1749 421.1 1748 422.2 1747 417.3 1746 411.7 1745 412.6 1744 413.4 1743 414.7 1742 415.6 1741 413.4 1740 420.1 1739 415.3 1738 419.9 1737 415.4 1736 414.8 1735 416.3 1734 419.4 1733 420.3 1732 423.2 1731 420.1 1730 421.9 1729 418.3 1728 421.6 1727 419.2 1726 416.6 1725 420.9 1724 419.9 1723 417.9 1722 417.5 1721 420.8 1720 420.9 1719 424.4 1718 424.6 1717 424.7 1716 430.4 1715 426.5 1714 429.6 1713 436.1 1712 432.4 1711 433.4 1710 430.5 1709 431.8 1708 431.9 1707 438.1 1706 436.6 1705 438.6 1704 435.2 1703 439.0 1702 444.2 1701 438.4 1700 439.7 1699 441.2 1698 442.7 1697 446.7 1696 442.7 1695 444.6 1694 442.8 1693 452.5 1692 448.6 1691 454.5 1690 453.7 1689 455.2 1688 457.5 1687 457.3 1686 459.8 1685 462.6 1684 463.1 1683 464.6 1682 466.1 1681 466.5 1680 462.1 1679 462.3 1678 463.9 1677 466.7 1676 466.4 1675 463.2 1674 463.7 1673 466.6 1672 466.5 1671 465.6 1670 473.1 1669 472.1 1668 465.0 1667 464.6 1666 468.3 1665 468.4 1664 468.0 1663 464.7 1662 468.1 1661 467.5 1660 466.9 1659 466.5 1658 468.2 1657 463.7 1656 464.4 1655 463.1 1654 465.0 1653 462.5 1652 475.0 1651 467.6 1650 463.0 1649 461.1 1648 460.3 1647 462.7 1646 461.3 1645 463.6 1644 465.8 1643 464.9 1642 455.2 1641 454.0 1640 451.5 1639 451.8 1638 449.0 1637 450.0 1636 451.1 1635 452.7 1634 451.1 1633 449.1 1632 448.9 1631 450.4 1630 449.0 1629 443.0 1628 441.8 1627 440.3 1626 441.0 1625 439.0 1624 439.4 1623 438.5 1622 438.9 1621 437.9 1620 434.7 1619 437.0 1618 438.8 1617 439.3 1616 438.1 1615 440.2 1614 444.0 1613 442.3 1612 437.4 1611 439.1 1610 434.3 1609 437.5 1608 435.3 1607 438.2 1606 436.4 1605 438.3 1604 437.2 1603 436.8 1602 439.4 1601 437.0 1600 439.9 1599 434.6 1598 435.5 1597 438.2 1596 441.6 1595 440.1 1594 437.7 1593 437.2 1592 435.4 1591 436.2 1590 435.8 1589 437.2 1588 436.4 1587 438.0 1586 438.6 1585 438.6 1584 439.1 1583 440.7 1582 441.4 1581 443.4 1580 448.9 1579 453.9 1578 451.4 1577 453.2 1576 464.1 1575 457.6 1574 457.9 1573 457.0 1572 459.0 1571 459.0 1570 459.8 1569 463.0 1568 460.6 1567 459.2 1566 459.5 1565 464.1 1564 459.6 1563 460.7 1562 454.5 1561 455.1 1560 459.3 1559 458.6 1558 461.7 1557 459.6 1556 462.0 1555 460.4 1554 457.3 1553 456.7 1552 458.8 1551 454.4 1550 454.3 1549 454.8 1548 454.3 1547 449.7 1546 456.4 1545 452.0 1544 451.8 1543 450.4 1542 452.2 1541 451.0 1540 453.2 1539 451.0 1538 449.4 1537 451.8 1536 453.0 1535 453.5 1534 454.5 1533 454.4 1532 448.3 1531 453.8 1530 455.4 1529 455.5 1528 454.5 1527 449.5 1526 449.6 1525 455.7 1524 450.9 1523 449.2 1522 451.6 1521 451.9 1520 450.0 1519 449.2 1518 443.0 1517 443.5 1516 445.1 1515 445.8 1514 445.6 1513 445.2 1512 445.5 1511 446.9 1510 447.5 1509 449.0 1508 448.4 1507 445.7 1506 439.8 1505 439.2 1504 438.9 1503 443.9 1502 445.1 1501 442.1 1500 437.3 1499 435.5 1498 433.5 1497 437.7 1496 436.7 1495 435.4 1494 448.8 1493 434.8 1492 433.4 1491 435.8 1490 437.2 1489 433.9 1488 432.3 1487 433.3 1486 436.4 1485 439.0 1484 438.6 1483 439.7 1482 444.4 1481 443.0 1480 445.3 1479 444.6 1478 442.7 1477 444.2 1476 444.4 1475 446.4 1474 453.7 1473 451.3 1472 452.9 1471 454.7 1470 458.8 1469 462.3 1468 463.3 1467 464.1 1466 463.2 1465 464.1 1464 465.0 1463 461.3 1462 462.3 1461 460.0 1460 458.5 1459 459.0 1458 464.3 1457 458.6 1456 458.0 1455 452.7 1454 452.2 1453 451.4 1452 455.6 1451 455.6 1450 455.1 1449 451.8 1448 459.0 1447 449.1 1446 449.4 1445 449.9 1444 454.2 1443 452.2 1442 453.7 1441 460.3 1440 467.4 1439 458.3 1438 458.9 1437 464.7 1436 458.7 1435 461.0 1434 461.3 1433 459.0 1432 461.1 1431 461.9 1430 467.4 1429 463.3 1428 464.3 1427 465.3 1426 468.7 1425 472.9 1424 471.5 1423 470.3 1422 468.3 1421 468.5 1420 472.9 1419 475.2 1418 469.0 1417 470.2 1416 467.9 1415 474.0 1414 475.7 1413 469.3 1412 468.9 1411 469.3 1410 471.1 1409 473.5 1408 475.5 1407 474.9 1406 478.9 1405 480.5 1404 479.8 1403 478.6 1402 478.8 1401 479.4 1400 477.8 1399 477.6 1398 477.3 1397 476.4 1396 474.7 1395 474.6 1394 476.7 1393 481.8 1392 485.3 1391 482.6 1390 483.5 1389 479.6 1388 480.2 1387 481.8 1386 485.7 1385 495.4 1384 486.7 1383 489.9 1382 482.7 1381 480.5 1380 479.0 1379 476.7 1378 476.4 1377 480.4 1376 478.6 1375 481.6 1374 475.5 1373 475.6 1372 473.9 1371 482.4 1370 482.3 1369 480.7 1368 474.7 1367 472.7 1366 472.0 1365 470.6 1364 470.4 1363 472.5 1362 474.8 1361 472.4 1360 471.0 1359 473.5 1358 471.1 1357 469.9 1356 467.9 1355 467.0 1354 468.0 1353 467.2 1352 469.3 1351 473.2 1350 472.2 1349 472.0 1348 470.5 1347 471.0 1346 474.8 1345 474.7 1344 475.5 1343 479.9 1342 486.7 1341 476.0 1340 473.4 1339 471.2 1338 472.1 1337 474.5 1336 471.6 1335 475.0 1334 469.6 1333 476.6 1332 473.9 1331 473.3 1330 477.8 1329 473.9 1328 473.2 1327 470.4 1326 469.8 1325 471.3 1324 471.7 1323 463.6 1322 462.4 1321 461.7 1320 464.5 1319 464.2 1318 462.5 1317 466.2 1316 466.6 1315 466.1 1314 465.5 1313 464.9 1312 466.8 1311 466.6 1310 463.1 1309 461.7 1308 463.9 1307 463.4 1306 462.3 1305 455.1 1304 452.5 1303 451.5 1302 453.3 1301 449.4 1300 449.4 1299 449.9 1298 451.1 1297 458.6 1296 455.2 1295 451.3 1294 451.4 1293 451.8 1292 452.7 1291 455.3 1290 453.1 1289 454.7 1288 454.6 1287 456.9 1286 457.5 1285 458.9 1284 459.3 1283 462.3 1282 465.5 1281 463.7 1280 467.2 1279 467.5 1278 463.1 1277 467.7 1276 466.5 1275 466.2 1274 468.9 1273 469.4 1272 468.7 1271 469.7 1270 468.9 1269 473.4 1268 474.6 1267 476.0 1266 475.1 1265 482.8 1264 483.0 1263 480.1 1262 479.0 1261 480.3 1260 480.1 1259 480.8 1258 481.4 1257 481.4 1256 483.1 1255 486.9 1254 490.6 1253 489.6 1252 488.0 1251 491.6 1250 494.9 1249 497.5 1248 500.9 1247 497.2 1246 497.4 1245 501.7 1244 494.6 1243 494.6 1242 494.3 1241 497.6 1240 500.1 1239 494.5 1238 495.7 1237 498.3 1236 497.6 1235 497.0 1234 498.3 1233 501.2 1232 497.4 1231 503.1 1230 503.0 1229 502.3 1228 503.3 1227 506.8 1226 507.3 1225 507.8 1224 511.5 1223 514.6 1222 517.7 1221 523.8 1220 526.4 1219 530.4 1218 534.4 1217 535.2 1216 537.5 1215 539.0 1214 537.3 1213 538.0 1212 540.9 1211 543.6 1210 539.5 1209 538.5 1208 536.1 1207 544.6 1206 544.2 1205 547.5 1204 542.2 1203 540.6 1202 542.1 1201 542.0 1200 546.8 1199 548.8 1198 549.5 1197 549.4 1196 548.5 1195 546.6 1194 547.9 1193 546.6 1192 547.2 1191 548.7 1190 546.9 1189 547.7 1188 545.7 1187 552.0 1186 550.1 1185 549.1 1184 543.6 1183 543.6 1182 543.1 1181 543.9 1180 542.7 1179 540.1 1178 541.7 1177 541.7 1176 544.6 1175 539.4 1174 539.4 1173 543.5 1172 540.9 1171 539.9 1170 539.2 1169 541.7 1168 543.2 1167 543.9 1166 543.5 1165 543.7 1164 543.6 1163 547.0 1162 548.8 1161 549.6 1160 553.3 1159 552.0 1158 550.7 1157 552.7 1156 551.9 1155 550.6 1154 547.1 1153 547.2 1152 557.9 1151 546.6 1150 545.5 1149 544.3 1148 544.3 1147 544.1 1146 545.2 1145 543.9 1144 545.8 1143 544.7 1142 541.8 1141 536.1 1140 539.9 1139 539.1 1138 542.6 1137 545.1 1136 541.0 1135 542.8 1134 543.6 1133 541.5 1132 538.4 1131 538.8 1130 542.7 1129 545.6 1128 547.2 1127 542.7 1126 543.2 1125 539.2 1124 551.2 1123 542.8 1122 543.8 1121 544.6 1120 544.0 1119 543.6 1118 539.6 1117 539.1 1116 541.7 1115 543.7 1114 544.7 1113 549.6 1112 548.3 1111 544.9 1110 544.3 1109 545.7 1108 547.7 1107 546.8 1106 542.0 1105 541.5 1104 543.9 1103 542.5 1102 540.9 1101 544.6 1100 545.9 1099 549.9 1098 550.9 1097 549.1 1096 551.6 1095 554.3 1094 551.5 1093 558.5 1092 553.4 1091 550.9 1090 555.0 1089 553.5 1088 556.0 1087 551.2 1086 553.7 1085 562.6 1084 565.8 1083 568.6 1082 561.4 1081 560.8 1080 564.7 1079 565.4 1078 567.7 1077 563.6 1076 569.0 1075 566.7 1074 564.2 1073 568.7 1072 562.3 1071 564.8 1070 565.3 1069 564.6 1068 562.9 1067 564.4 1066 566.4 1065 565.0 1064 568.7 1063 569.3 1062 568.5 1061 567.2 1060 565.0 1059 566.7 1058 570.5 1057 573.3 1056 573.7 1055 575.6 1054 570.1 1053 572.4 1052 573.0 1051 572.5 1050 570.7 1049 568.0 1048 570.5 1047 570.4 1046 569.6 1045 568.8 1044 578.3 1043 568.4 1042 567.2 1041 564.4 1040 568.0 1039 565.5 1038 567.1 1037 571.3 1036 568.5 1035 573.3 1034 574.3 1033 569.9 1032 572.2 1031 574.3 1030 572.9 1029 572.5 1028 575.3 1027 576.0 1026 571.9 1025 572.8 1024 574.9 1023 575.3 1022 571.6 1021 569.6 1020 577.1 1019 574.5 1018 573.7 1017 573.6 1016 575.8 1015 577.8 1014 577.5 1013 575.5 1012 575.5 1011 577.2 1010 573.7 1009 575.1 1008 572.7 1007 572.7 1006 575.6 1005 573.2 1004 571.1 1003 574.0 1002 570.7 1001 569.3 1000 576.5 999 575.8 998 568.7 997 569.9 996 569.2 995 571.3 994 571.1 993 575.3 992 572.7 991 568.3 990 564.9 989 562.7 988 557.8 987 560.1 986 559.0 985 561.4 984 563.1 983 560.2 982 559.8 981 558.6 980 565.6 979 559.3 978 562.2 977 566.6 976 566.1 975 566.1 974 568.3 973 567.3 972 564.9 971 566.5 970 565.6 969 559.5 968 562.3 967 564.5 966 566.3 965 565.4 964 563.5 963 561.2 962 560.8 961 560.8 960 564.3 959 563.8 958 563.7 957 563.1 956 562.1 955 567.5 954 573.2 953 574.1 952 577.2 951 574.6 950 575.7 949 583.7 948 584.7 947 581.9 946 579.5 945 578.6 944 578.4 943 579.4 942 582.8 941 583.2 940 583.3 939 584.4 938 587.5 937 592.6 936 592.4 935 589.7 934 592.3 933 594.5 932 590.5 931 590.9 930 593.0 929 591.4 928 594.1 927 598.5 926 596.6 925 595.7 924 595.6 923 597.3 922 597.4 921 599.5 920 601.8 919 603.0 918 605.0 917 604.1 916 604.4 915 603.3 914 602.8 913 601.2 912 604.9 911 606.8 910 606.0 909 600.0 908 597.3 907 604.1 906 596.5 905 595.5 904 589.9 903 589.6 902 589.2 901 590.1 900 588.7 899 589.6 898 591.7 897 592.6 896 589.7 895 585.9 894 587.1 893 588.3 892 589.3 891 590.6 890 591.1 889 594.0 888 595.7 887 596.4 886 595.6 885 596.9 884 595.5 883 597.2 882 600.3 881 602.4 880 603.0 879 603.9 878 603.6 877 606.1 876 608.3 875 608.4 874 608.3 873 607.6 872 605.7 871 613.5 870 610.0 869 612.9 868 610.7 867 609.2 866 614.8 865 607.5 864 604.5 863 601.6 862 598.6 861 597.4 860 599.3 859 595.4 858 595.2 857 594.8 856 598.3 855 592.2 854 594.3 853 593.6 852 590.8 851 589.2 850 588.3 849 587.4 848 591.2 847 587.9 846 588.1 845 583.8 844 585.2 843 586.7 842 587.5 841 587.1 840 582.9 839 582.3 838 577.1 837 578.9 836 585.5 835 582.9 834 581.6 833 584.4 832 578.3 831 575.5 830 572.9 829 569.1 828 565.3 827 566.3 826 562.7 825 560.9 824 557.1 823 556.5 822 553.7 821 556.1 820 554.5 819 554.5 818 554.4 817 562.3 816 559.4 815 557.1 814 555.2 813 554.8 812 553.3 811 559.6 810 558.0 809 561.4 808 555.2 807 555.1 806 561.2 805 559.1 804 556.2 803 552.2 802 555.0 801 553.5 800 557.8 799 552.7 798 552.9 797 550.5 796 547.1 795 543.4 794 548.6 793 556.6 792 553.6 791 552.8 790 550.6 789 548.1 788 546.1 787 545.8 786 543.1 785 545.3 784 542.5 783 541.2 782 539.2 781 544.4 780 544.9 779 544.1 778 547.2 777 552.1 776 555.3 775 554.5 774 555.6 773 557.7 772 554.7 771 554.0 770 556.9 769 560.4 768 562.4 767 560.7 766 558.9 765 560.4 764 560.3 763 569.7 762 567.2 761 568.8 760 569.4 759 565.8 758 567.8 757 569.4 756 570.2 755 570.5 754 573.0 753 574.6 752 577.6 751 575.3 750 575.5 749 578.9 748 578.5 747 584.5 746 587.3 745 591.0 744 586.8 743 590.7 742 593.5 741 596.8 740 595.0 739 595.3 738 597.0 737 599.7 736 601.1 735 600.6 734 603.0 733 603.2 732 607.1 731 607.9 730 606.3 729 604.3 728 606.1 727 604.5 726 603.4 725 607.4 724 614.2 723 607.6 722 608.6 721 612.2 720 615.2 719 615.7 718 616.3 717 611.5 716 611.7 715 609.3 714 616.2 713 617.4 712 616.2 711 614.5 710 615.9 709 616.0 708 618.5 707 621.8 706 625.3 705 627.4 704 627.3 703 630.8 702 633.3 701 636.6 700 633.6 699 635.5 698 637.4 697 640.1 696 640.5 695 643.2 694 651.2 693 653.4 692 657.1 691 659.4 690 664.0 689 667.0 688 668.8 687 677.4 686 685.2 685 686.0 684 688.2 683 685.4 682 692.3 681 685.6 680 688.3 679 690.0 678 693.1 677 690.6 676 691.5 675 689.9 674 692.5 673 692.6 672 694.9 671 700.2 670 702.1 669 700.6 668 709.8 667 696.4 666 697.2 665 706.6 664 704.1 663 699.7 662 701.4 661 697.4 660 698.0 659 699.5 658 701.5 657 702.6 656 704.8 655 707.2 654 708.5 653 710.9 652 712.3 651 710.7 650 710.9 649 710.3 648 710.9 647 712.0 646 711.8 645 716.7 644 717.1 643 720.9 642 717.0 641 717.4 640 716.7 639 709.7 638 710.7 637 709.6 636 711.8 635 714.2 634 719.1 633 713.1 632 714.1 631 716.8 630 717.4 629 718.7 628 724.6 627 714.1 626 714.4 625 711.9 624 712.3 623 713.8 622 715.1 621 717.7 620 719.2 619 721.3 618 729.8 617 722.7 616 725.3 615 727.3 614 726.1 613 727.7 612 734.7 611 727.5 610 726.8 609 726.8 608 726.4 607 725.8 606 727.7 605 731.8 604 731.8 603 736.0 602 736.7 601 742.0 600 745.8 599 745.1 598 737.4 597 740.9 596 742.3 595 743.9 594 756.2 593 747.4 592 750.6 591 751.9 590 750.9 589 750.0 588 752.4 587 754.3 586 758.7 585 759.1 584 758.5 583 759.8 582 759.2 581 762.2 580 761.9 579 761.5 578 765.4 577 767.0 576 767.9 575 775.3 574 777.5 573 779.5 572 777.1 571 777.5 570 781.2 569 780.6 568 787.0 567 790.5 566 792.4 565 785.8 564 787.2 563 790.2 562 792.1 561 795.8 560 800.9 559 803.5 558 807.2 557 814.2 556 817.0 555 814.1 554 817.4 553 815.6 552 817.1 551 820.1 550 826.8 549 823.4 548 823.9 547 824.6 546 829.9 545 830.2 544 833.2 543 830.8 542 837.7 541 841.2 540 843.0 539 844.3 538 848.3 537 856.8 536 858.9 535 863.7 534 865.7 533 868.6 532 873.2 531 887.1 530 885.4 529 888.0 528 895.6 527 893.9 526 896.1 525 900.2 524 903.5 523 905.3 522 909.1 521 911.7 520 913.5 519 915.9 518 917.9 517 922.1 516 925.2 515 927.5 514 929.3 513 928.9 512 931.2 511 932.9 510 934.3 509 941.3 508 937.0 507 939.3 506 942.2 505 944.7 504 945.6 503 954.5 502 958.2 501 956.8 500 960.9 499 961.8 498 967.3 497 969.1 496 977.0 495 980.8 494 986.3 493 990.8 492 994.8 491 1003.7 490 1000.1 489 1000.8 488 1003.3 487 1003.9 486 1004.3 485 1005.1 484 1010.1 483 1014.2 482 1022.5 481 1027.3 480 1032.8 479 1041.4 478 1048.9 477 1054.8 476 1067.4 475 1077.3 474 1077.8 473 1094.0 472 1094.4 471 1103.8 470 1112.4 469 1117.4 468 1119.6 467 1125.1 466 1130.0 465 1134.1 464 1136.8 463 1141.9 462 1145.1 461 1148.8 460 1153.3 459 1158.5 458 1165.0 457 1167.4 456 1171.1 455 1176.1 454 1181.2 453 1186.6 452 1192.0 451 1198.3 450 1203.4 449 1206.1 448 1210.1 447 1213.6 446 1215.5 445 1218.1 444 1219.3 443 1219.7Z"/><path fill="none" stroke-width="3.5" stroke-linejoin="round" d="M443 1217.1 444 1215.7 445 1214.0 446 1211.9 447 1209.9 448 1206.0 449 1202.6 450 1198.6 451 1193.6 452 1187.9 453 1182.5 454 1177.2 455 1172.7 456 1167.7 457 1164.0 458 1159.1 459 1154.6 460 1149.4 461 1144.9 462 1141.3 463 1138.1 464 1132.9 465 1130.2 466 1126.0 467 1120.9 468 1115.2 469 1113.2 470 1107.0 471 1098.2 472 1088.6 473 1083.6 474 1073.3 475 1066.4 476 1060.0 477 1047.1 478 1041.9 479 1034.3 480 1025.5 481 1018.0 482 1013.0 483 1008.1 484 1004.0 485 998.6 486 997.5 487 996.8 488 996.2 489 993.8 490 992.5 491 991.1 492 986.8 493 982.8 494 978.2 495 973.7 496 969.9 497 962.0 498 957.7 499 955.3 500 948.8 501 944.6 502 946.1 503 942.3 504 940.0 505 939.1 506 936.5 507 933.4 508 931.2 509 929.0 510 926.4 511 925.0 512 925.6 513 923.3 514 922.9 515 920.5 516 918.2 517 915.3 518 911.1 519 908.6 520 906.2 521 901.5 522 900.8 523 899.5 524 897.8 525 894.5 526 887.7 527 888.2 528 884.9 529 877.3 530 874.7 531 868.9 532 865.7 533 860.7 534 857.9 535 853.0 536 848.3 537 843.2 538 840.5 539 833.8 540 832.5 541 830.7 542 827.2 543 825.0 544 822.2 545 820.4 546 820.2 547 816.8 548 816.2 549 815.7 550 814.4 551 814.5 552 811.5 553 810.0 554 811.5 555 808.2 556 804.9 557 802.1 558 800.5 559 796.8 560 794.1 561 789.0 562 785.8 563 782.9 564 780.0 565 778.5 566 778.9 567 777.0 568 773.6 569 773.1 570 772.2 571 768.5 572 767.8 573 764.8 574 762.7 575 760.6 576 761.1 577 758.4 578 756.7 579 755.9 580 756.3 581 756.7 582 752.9 583 753.5 584 752.2 585 752.4 586 752.0 587 748.8 588 746.8 589 744.5 590 743.4 591 744.4 592 742.3 593 739.1 594 741.8 595 737.8 596 736.1 597 734.6 598 731.2 599 731.8 600 732.5 601 730.9 602 729.7 603 728.2 604 724.1 605 724.1 606 721.3 607 719.4 608 720.0 609 721.1 610 718.8 611 720.2 612 722.2 613 720.9 614 719.3 615 718.3 616 716.2 617 713.6 618 713.9 619 714.1 620 712.1 621 710.6 622 709.0 623 707.7 624 706.2 625 704.2 626 706.6 627 706.4 628 706.9 629 710.2 630 708.9 631 709.7 632 707.0 633 706.0 634 707.4 635 706.9 636 704.5 637 702.4 638 703.8 639 702.7 640 704.6"/></g><g fill="#9a00ff" stroke="#9a00ff" opacity="1.00"><path stroke="none" d="M443 1213.6 444 1213.0 445 1210.1 446 1206.0 447 1201.1 448 1195.4 449 1188.5 450 1180.6 451 1173.3 452 1164.3 453 1157.8 454 1150.8 455 1144.5 456 1139.1 457 1134.0 458 1130.7 459 1127.5 460 1123.5 461 1117.7 462 1114.7 463 1111.5 464 1106.0 465 1102.8 466 1098.5 467 1093.5 468 1089.5 469 1086.1 470 1081.1 471 1076.7 472 1074.5 473 1073.5 474 1069.3 475 1064.7 476 1062.1 477 1059.6 478 1054.9 479 1048.6 480 1045.1 481 1040.7 482 1034.2 483 1028.4 484 1022.5 485 1016.6 486 1008.0 487 996.5 488 995.0 489 989.5 490 986.2 491 984.1 492 979.8 493 977.4 494 975.6 495 972.3 496 969.7 497 968.3 498 963.1 499 965.1 500 960.9 501 955.0 502 953.1 503 950.3 504 945.9 505 945.5 506 943.1 507 941.4 508 935.2 509 937.4 510 935.0 511 936.3 512 933.0 513 932.7 514 930.8 515 927.7 516 923.4 517 921.6 518 919.9 519 912.6 520 909.3 521 905.1 522 900.6 523 893.5 524 892.3 525 886.9 526 884.8 527 883.4 528 876.0 529 873.0 530 864.3 531 861.0 532 862.4 533 861.3 534 853.1 535 847.4 536 844.9 537 835.3 538 838.6 539 833.9 540 835.1 541 832.1 542 824.2 543 820.2 544 819.4 545 817.3 546 816.1 547 813.0 548 808.6 549 804.7 550 807.6 551 804.9 552 800.3 553 799.5 554 798.8 555 800.1 556 797.4 557 792.3 558 787.4 559 789.4 560 791.4 561 786.9 562 782.8 563 781.9 564 777.7 565 776.3 566 775.3 567 777.1 568 777.8 569 774.9 570 776.1 571 774.7 572 776.2 573 771.9 574 769.8 575 771.9 576 772.2 577 775.0 578 775.7 579 776.9 580 775.5 581 774.4 582 770.6 583 762.4 584 757.9 585 753.6 586 748.9 587 745.5 588 746.6 589 744.9 590 741.2 591 736.1 592 736.6 593 735.8 594 736.0 595 735.1 596 731.9 597 729.5 598 731.2 599 730.9 600 731.4 601 731.9 602 721.7 603 719.2 604 721.9 605 719.6 606 717.3 607 713.2 608 710.4 609 704.3 610 701.7 611 698.1 612 694.4 613 691.5 614 693.6 615 691.8 616 690.0 617 687.6 618 685.4 619 682.3 620 681.7 621 678.9 622 677.7 623 673.8 624 672.8 625 668.6 626 668.5 627 666.7 628 661.4 629 659.7 630 655.8 631 655.1 632 656.0 633 652.9 634 651.1 635 652.4 636 649.3 637 647.2 638 646.2 639 642.9 640 646.6 641 642.9 642 643.3 643 642.7 644 639.3 645 639.4 646 640.9 647 640.6 648 639.8 649 639.0 650 637.7 651 638.8 652 637.1 653 634.0 654 630.9 655 633.8 656 631.6 657 628.6 658 627.6 659 629.2 660 629.3 661 626.7 662 627.1 663 621.4 664 623.0 665 621.9 666 614.0 667 614.0 668 611.7 669 610.6 670 607.7 671 605.1 672 598.9 673 607.7 674 610.1 675 604.6 676 606.7 677 604.6 678 599.9 679 597.7 680 602.0 681 599.0 682 596.1 683 595.9 684 593.2 685 593.0 686 592.4 687 592.0 688 591.3 689 592.5 690 594.9 691 591.9 692 592.2 693 593.1 694 593.1 695 591.4 696 589.2 697 589.2 698 591.7 699 591.2 700 588.2 701 589.8 702 590.7 703 590.9 704 588.3 705 589.7 706 578.5 707 583.2 708 583.4 709 580.2 710 581.9 711 581.2 712 578.7 713 570.9 714 576.1 715 569.0 716 570.3 717 571.8 718 570.6 719 570.1 720 564.7 721 571.1 722 566.9 723 567.9 724 569.1 725 568.2 726 566.7 727 563.4 728 561.2 729 560.6 730 559.8 731 560.6 732 559.9 733 557.9 734 548.2 735 555.4 736 555.2 737 551.0 738 554.5 739 552.9 740 545.4 741 544.9 742 544.2 743 547.2 744 545.0 745 544.7 746 550.6 747 546.8 748 548.1 749 546.5 750 544.0 751 540.0 752 537.8 753 541.5 754 541.1 755 541.7 756 539.6 757 538.4 758 542.8 759 540.2 760 540.5 761 538.2 762 538.1 763 542.4 764 541.4 765 538.9 766 539.4 767 543.9 768 545.2 769 539.4 770 532.3 771 537.3 772 538.8 773 538.7 774 541.4 775 542.5 776 543.4 777 543.7 778 543.0 779 539.6 780 541.3 781 546.5 782 545.6 783 547.7 784 545.2 785 547.7 786 547.1 787 547.1 788 547.2 789 539.9 790 547.0 791 549.7 792 550.8 793 552.6 794 554.4 795 555.9 796 554.6 797 555.4 798 556.9 799 558.0 800 559.9 801 560.2 802 553.2 803 549.6 804 549.6 805 548.5 806 549.2 807 547.5 808 545.8 809 542.0 810 542.1 811 536.2 812 540.7 813 536.3 814 535.1 815 534.7 816 539.5 817 541.1 818 540.7 819 536.7 820 534.7 821 537.3 822 530.6 823 536.3 824 535.5 825 531.2 826 528.7 827 528.0 828 528.2 829 528.2 830 525.2 831 523.4 832 524.2 833 525.9 834 517.2 835 516.9 836 516.2 837 515.7 838 513.6 839 513.0 840 515.0 841 515.1 842 515.9 843 519.1 844 509.6 845 511.2 846 519.3 847 515.4 848 516.3 849 517.1 850 519.4 851 520.1 852 518.6 853 526.4 854 528.5 855 529.9 856 530.9 857 527.8 858 528.2 859 528.3 860 530.6 861 523.1 862 525.1 863 526.2 864 532.0 865 532.7 866 532.1 867 533.4 868 535.1 869 529.9 870 526.7 871 529.0 872 530.9 873 525.6 874 530.6 875 525.5 876 523.1 877 520.4 878 514.5 879 515.2 880 511.5 881 508.2 882 506.3 883 499.0 884 501.3 885 503.6 886 501.9 887 501.4 888 500.6 889 502.4 890 507.2 891 505.5 892 503.6 893 503.0 894 501.8 895 500.9 896 501.7 897 504.2 898 503.8 899 503.6 900 504.3 901 500.7 902 499.1 903 498.8 904 503.6 905 504.5 906 501.3 907 500.6 908 501.3 909 503.3 910 506.5 911 500.5 912 503.4 913 504.0 914 499.6 915 500.7 916 504.2 917 502.9 918 501.4 919 501.2 920 496.9 921 491.4 922 491.9 923 488.4 924 489.1 925 488.3 926 483.7 927 483.1 928 484.3 929 484.5 930 481.9 931 482.0 932 479.9 933 475.7 934 476.4 935 474.3 936 475.7 937 474.9 938 476.9 939 469.5 940 470.8 941 475.5 942 473.6 943 472.8 944 468.4 945 465.3 946 463.8 947 464.3 948 465.1 949 464.0 950 458.7 951 464.3 952 464.5 953 471.0 954 468.5 955 468.0 956 469.4 957 468.9 958 470.0 959 467.4 960 466.6 961 467.8 962 467.4 963 466.4 964 467.9 965 468.4 966 469.9 967 470.7 968 468.7 969 463.4 970 462.8 971 465.6 972 460.8 973 466.9 974 466.9 975 465.6 976 467.1 977 465.8 978 465.6 979 467.4 980 468.8 981 470.5 982 472.9 983 468.5 984 470.4 985 471.5 986 469.9 987 469.0 988 468.9 989 471.6 990 477.5 991 477.6 992 477.8 993 479.9 994 479.3 995 478.5 996 481.0 997 480.1 998 475.9 999 476.3 1000 478.1 1001 478.2 1002 477.0 1003 476.6 1004 471.0 1005 467.2 1006 465.2 1007 461.2 1008 458.7 1009 454.9 1010 453.1 1011 452.5 1012 450.1 1013 451.4 1014 455.6 1015 455.6 1016 458.6 1017 461.6 1018 460.0 1019 460.3 1020 456.0 1021 458.4 1022 455.6 1023 461.0 1024 462.6 1025 461.2 1026 463.7 1027 467.7 1028 466.5 1029 466.6 1030 465.3 1031 466.2 1032 460.6 1033 460.9 1034 456.5 1035 453.1 1036 453.6 1037 456.8 1038 453.7 1039 453.7 1040 452.2 1041 448.5 1042 448.6 1043 449.6 1044 445.3 1045 442.9 1046 445.9 1047 442.1 1048 440.1 1049 442.0 1050 440.0 1051 441.5 1052 440.3 1053 438.8 1054 439.7 1055 438.2 1056 435.5 1057 436.3 1058 436.4 1059 435.2 1060 432.5 1061 427.1 1062 428.5 1063 426.3 1064 425.0 1065 423.0 1066 422.8 1067 422.8 1068 426.1 1069 423.4 1070 425.1 1071 424.9 1072 427.1 1073 421.8 1074 424.8 1075 424.5 1076 425.5 1077 422.2 1078 420.9 1079 424.7 1080 423.5 1081 423.8 1082 422.6 1083 420.9 1084 420.4 1085 421.5 1086 424.7 1087 422.6 1088 418.9 1089 420.3 1090 415.3 1091 409.9 1092 408.9 1093 411.5 1094 412.6 1095 412.1 1096 412.9 1097 414.8 1098 408.6 1099 404.2 1100 404.4 1101 404.3 1102 403.7 1103 405.3 1104 402.1 1105 404.0 1106 406.2 1107 395.2 1108 402.1 1109 399.1 1110 402.0 1111 403.7 1112 400.2 1113 401.9 1114 403.1 1115 402.3 1116 401.2 1117 401.5 1118 392.5 1119 393.1 1120 393.5 1121 401.9 1122 400.5 1123 404.5 1124 404.6 1125 403.1 1126 407.1 1127 410.2 1128 408.4 1129 406.8 1130 407.2 1131 406.8 1132 406.8 1133 410.2 1134 411.3 1135 406.7 1136 407.3 1137 407.2 1138 404.3 1139 405.6 1140 409.4 1141 409.5 1142 413.3 1143 413.1 1144 413.6 1145 416.6 1146 415.6 1147 414.3 1148 415.2 1149 413.4 1150 414.1 1151 415.0 1152 415.0 1153 413.1 1154 410.0 1155 409.7 1156 416.3 1157 415.4 1158 415.0 1159 419.3 1160 418.3 1161 421.0 1162 422.5 1163 421.6 1164 418.8 1165 417.6 1166 420.4 1167 421.9 1168 421.7 1169 423.1 1170 425.0 1171 421.5 1172 423.6 1173 423.1 1174 419.8 1175 418.9 1176 423.8 1177 424.6 1178 420.6 1179 415.7 1180 415.2 1181 420.9 1182 420.0 1183 417.7 1184 419.7 1185 417.4 1186 416.5 1187 418.2 1188 417.6 1189 415.8 1190 416.8 1191 420.1 1192 418.8 1193 418.6 1194 419.7 1195 420.1 1196 417.6 1197 417.1 1198 412.6 1199 420.9 1200 417.8 1201 421.3 1202 418.2 1203 418.1 1204 419.1 1205 422.0 1206 421.9 1207 420.7 1208 417.5 1209 418.8 1210 420.4 1211 417.6 1212 415.0 1213 411.4 1214 410.5 1215 412.1 1216 410.9 1217 410.8 1218 408.0 1219 405.8 1220 402.0 1221 399.6 1222 397.6 1223 395.0 1224 393.0 1225 391.6 1226 388.0 1227 394.1 1228 391.8 1229 389.0 1230 385.8 1231 389.8 1232 387.1 1233 384.8 1234 385.5 1235 385.8 1236 385.2 1237 386.8 1238 387.0 1239 389.2 1240 380.4 1241 385.8 1242 381.3 1243 385.5 1244 389.7 1245 390.3 1246 388.9 1247 387.1 1248 384.0 1249 384.3 1250 382.2 1251 380.5 1252 380.3 1253 381.4 1254 384.4 1255 387.2 1256 389.0 1257 387.0 1258 389.7 1259 391.8 1260 395.1 1261 391.8 1262 388.4 1263 389.8 1264 399.1 1265 401.1 1266 401.9 1267 401.7 1268 401.9 1269 407.4 1270 406.7 1271 404.1 1272 404.0 1273 402.0 1274 401.9 1275 401.7 1276 399.4 1277 399.6 1278 398.7 1279 398.3 1280 405.4 1281 403.8 1282 403.9 1283 405.1 1284 397.2 1285 398.2 1286 398.0 1287 400.2 1288 390.8 1289 398.5 1290 394.4 1291 384.8 1292 392.5 1293 391.6 1294 390.8 1295 391.5 1296 389.1 1297 388.4 1298 391.4 1299 388.3 1300 391.3 1301 386.3 1302 387.8 1303 389.6 1304 396.4 1305 397.9 1306 398.0 1307 397.9 1308 397.6 1309 399.4 1310 399.4 1311 398.8 1312 399.4 1313 399.7 1314 397.1 1315 402.2 1316 400.4 1317 400.3 1318 396.9 1319 397.1 1320 396.7 1321 400.6 1322 401.0 1323 396.9 1324 396.4 1325 393.6 1326 390.2 1327 387.7 1328 386.0 1329 384.8 1330 387.0 1331 387.2 1332 381.6 1333 390.2 1334 387.0 1335 384.1 1336 382.8 1337 379.9 1338 381.6 1339 385.5 1340 381.6 1341 382.7 1342 375.9 1343 381.0 1344 383.3 1345 385.1 1346 376.1 1347 379.1 1348 377.3 1349 368.0 1350 371.5 1351 369.8 1352 368.5 1353 367.7 1354 364.3 1355 357.1 1356 363.7 1357 363.3 1358 355.0 1359 357.6 1360 355.2 1361 354.5 1362 354.5 1363 349.9 1364 347.9 1365 348.6 1366 346.0 1367 344.2 1368 342.2 1369 347.1 1370 349.3 1371 350.4 1372 350.7 1373 350.6 1374 354.0 1375 358.2 1376 357.5 1377 358.9 1378 359.4 1379 358.2 1380 359.5 1381 360.7 1382 360.5 1383 369.2 1384 369.3 1385 369.7 1386 371.3 1387 370.8 1388 366.8 1389 364.2 1390 364.9 1391 362.3 1392 361.6 1393 361.4 1394 362.8 1395 363.6 1396 363.1 1397 357.7 1398 361.3 1399 360.4 1400 358.4 1401 358.4 1402 357.5 1403 354.4 1404 355.8 1405 354.5 1406 356.1 1407 351.4 1408 351.7 1409 350.5 1410 347.2 1411 349.5 1412 354.7 1413 353.3 1414 354.3 1415 354.1 1416 354.0 1417 355.0 1418 357.2 1419 358.3 1420 358.1 1421 359.6 1422 353.3 1423 350.9 1424 352.4 1425 350.7 1426 351.1 1427 351.7 1428 343.4 1429 341.9 1430 335.5 1431 333.4 1432 333.2 1433 330.8 1434 330.0 1435 326.2 1436 322.9 1437 321.4 1438 321.9 1439 322.6 1440 323.6 1441 328.3 1442 327.7 1443 327.1 1444 325.5 1445 325.3 1446 328.7 1447 327.9 1448 327.7 1449 328.5 1450 329.9 1451 324.1 1452 319.1 1453 324.2 1454 328.5 1455 327.3 1456 322.9 1457 320.0 1458 314.1 1459 307.9 1460 306.8 1461 314.0 1462 313.3 1463 313.3 1464 311.0 1465 313.4 1466 309.2 1467 306.2 1468 302.6 1469 303.5 1470 303.8 1471 304.1 1472 301.6 1473 294.6 1474 296.4 1475 297.2 1476 298.3 1477 295.6 1478 297.7 1479 291.9 1480 291.6 1481 292.1 1482 288.9 1483 285.6 1484 285.5 1485 290.0 1486 287.9 1487 287.6 1488 287.1 1489 290.0 1490 290.7 1491 291.1 1492 287.9 1493 289.0 1494 288.9 1495 281.9 1496 288.0 1497 288.1 1498 290.3 1499 287.4 1500 287.5 1501 288.1 1502 292.7 1503 292.2 1504 289.5 1505 289.4 1506 286.8 1507 286.7 1508 292.3 1509 286.9 1510 293.5 1511 290.4 1512 291.5 1513 290.7 1514 291.4 1515 293.0 1516 289.2 1517 287.2 1518 282.6 1519 282.2 1520 283.9 1521 287.6 1522 282.3 1523 277.2 1524 286.0 1525 285.5 1526 284.9 1527 287.1 1528 285.2 1529 285.0 1530 284.1 1531 279.1 1532 279.5 1533 276.9 1534 281.3 1535 281.0 1536 284.5 1537 284.5 1538 285.9 1539 286.3 1540 284.0 1541 283.6 1542 282.6 1543 281.8 1544 281.5 1545 282.2 1546 282.3 1547 280.2 1548 280.7 1549 279.6 1550 279.7 1551 277.8 1552 277.7 1553 279.3 1554 278.3 1555 276.7 1556 275.9 1557 278.2 1558 279.2 1559 280.6 1560 278.3 1561 275.7 1562 262.3 1563 270.0 1564 279.4 1565 278.2 1566 275.7 1567 273.8 1568 274.0 1569 275.4 1570 276.0 1571 270.0 1572 270.9 1573 271.9 1574 275.2 1575 273.2 1576 276.7 1577 277.7 1578 276.3 1579 276.0 1580 271.7 1581 275.5 1582 275.2 1583 274.8 1584 274.8 1585 274.1 1586 272.3 1587 271.4 1588 270.3 1589 270.4 1590 269.1 1591 259.4 1592 265.2 1593 264.8 1594 253.7 1595 262.4 1596 263.8 1597 259.1 1598 258.9 1599 260.2 1600 262.7 1601 262.2 1602 263.5 1603 260.3 1604 260.2 1605 260.5 1606 258.9 1607 254.8 1608 258.0 1609 259.0 1610 258.9 1611 258.2 1612 255.0 1613 253.5 1614 253.1 1615 256.7 1616 256.1 1617 260.4 1618 258.3 1619 264.4 1620 265.6 1621 268.5 1622 270.1 1623 267.5 1624 269.8 1625 272.3 1626 267.2 1627 264.8 1628 260.7 1629 265.5 1630 268.2 1631 269.9 1632 267.1 1633 270.2 1634 269.5 1635 270.6 1636 271.5 1637 268.3 1638 273.1 1639 267.9 1640 270.9 1641 270.2 1642 270.1 1643 267.9 1644 266.6 1645 267.1 1646 263.6 1647 268.7 1648 267.9 1649 265.0 1650 269.4 1651 257.6 1652 263.1 1653 263.9 1654 261.4 1655 263.7 1656 260.2 1657 258.8 1658 259.7 1659 264.6 1660 265.8 1661 267.1 1662 265.8 1663 266.7 1664 265.6 1665 267.2 1666 268.1 1667 267.2 1668 258.9 1669 260.3 1670 265.8 1671 264.8 1672 263.7 1673 265.8 1674 266.0 1675 263.1 1676 262.1 1677 264.8 1678 267.8 1679 270.2 1680 270.0 1681 271.0 1682 272.1 1683 266.4 1684 264.1 1685 265.4 1686 269.6 1687 267.0 1688 263.2 1689 267.0 1690 267.7 1691 272.4 1692 274.5 1693 274.3 1694 274.5 1695 274.3 1696 276.0 1697 279.3 1698 284.0 1699 272.5 1700 283.4 1701 286.1 1702 286.7 1703 286.8 1704 287.8 1705 285.2 1706 286.4 1707 285.2 1708 282.7 1709 283.2 1710 284.1 1711 281.4 1712 281.6 1713 284.9 1714 286.2 1715 286.9 1716 287.5 1717 294.7 1718 297.0 1719 296.2 1720 295.8 1721 292.2 1722 291.2 1723 288.5 1724 294.1 1725 293.7 1726 297.7 1727 297.0 1728 292.6 1729 292.4 1730 295.3 1731 292.7 1732 289.8 1733 288.0 1734 291.6 1735 291.2 1736 293.8 1737 290.7 1738 288.5 1739 291.0 1740 289.3 1741 289.4 1742 287.3 1743 282.3 1744 282.3 1745 283.3 1746 277.7 1747 273.5 1748 276.6 1749 275.9 1750 276.6 1751 278.6 1752 276.0 1753 274.4 1754 268.0 1755 265.0 1756 262.7 1757 262.0 1758 262.3 1759 258.5 1760 250.2 1761 253.3 1762 240.0L1762 262.4 1761 268.3 1760 271.7 1759 273.3 1758 278.9 1757 278.1 1756 282.6 1755 283.0 1754 283.2 1753 287.9 1752 289.5 1751 292.1 1750 292.2 1749 291.5 1748 292.2 1747 292.5 1746 295.2 1745 297.1 1744 295.3 1743 300.0 1742 304.9 1741 305.6 1740 306.5 1739 308.2 1738 302.7 1737 303.0 1736 306.1 1735 306.8 1734 307.1 1733 307.6 1732 310.9 1731 311.9 1730 311.5 1729 308.3 1728 308.9 1727 309.8 1726 310.5 1725 306.3 1724 314.7 1723 310.2 1722 312.2 1721 311.4 1720 309.8 1719 308.9 1718 313.9 1717 313.5 1716 311.2 1715 309.1 1714 304.3 1713 302.9 1712 300.7 1711 299.3 1710 302.0 1709 308.5 1708 303.1 1707 302.8 1706 304.0 1705 300.5 1704 302.1 1703 302.2 1702 302.1 1701 300.8 1700 296.7 1699 296.8 1698 297.0 1697 295.4 1696 292.2 1695 291.8 1694 293.5 1693 292.6 1692 291.1 1691 288.6 1690 286.9 1689 286.2 1688 285.7 1687 284.2 1686 287.8 1685 287.0 1684 288.5 1683 284.4 1682 289.3 1681 286.1 1680 285.5 1679 285.7 1678 286.5 1677 283.6 1676 279.4 1675 275.2 1674 280.5 1673 280.2 1672 276.9 1671 279.4 1670 280.4 1669 282.1 1668 282.1 1667 284.4 1666 287.4 1665 286.4 1664 286.0 1663 284.8 1662 283.2 1661 284.5 1660 281.4 1659 280.2 1658 278.9 1657 277.3 1656 280.9 1655 279.9 1654 281.8 1653 280.7 1652 277.4 1651 281.0 1650 282.6 1649 287.8 1648 289.0 1647 289.9 1646 282.8 1645 283.9 1644 283.4 1643 286.1 1642 283.2 1641 283.3 1640 284.0 1639 287.6 1638 295.2 1637 288.3 1636 291.4 1635 290.4 1634 290.5 1633 289.2 1632 289.4 1631 290.5 1630 289.7 1629 283.0 1628 282.3 1627 286.5 1626 292.4 1625 293.7 1624 291.1 1623 285.4 1622 283.8 1621 284.4 1620 283.9 1619 282.7 1618 277.2 1617 277.8 1616 273.5 1615 274.1 1614 271.8 1613 272.3 1612 271.8 1611 273.0 1610 273.7 1609 275.1 1608 277.5 1607 276.3 1606 272.4 1605 273.9 1604 273.6 1603 274.5 1602 277.6 1601 279.5 1600 282.0 1599 279.5 1598 277.0 1597 279.1 1596 278.9 1595 277.4 1594 279.6 1593 282.4 1592 278.9 1591 286.3 1590 285.8 1589 282.8 1588 283.4 1587 284.5 1586 292.0 1585 293.8 1584 294.2 1583 288.6 1582 300.8 1581 290.5 1580 289.2 1579 293.5 1578 294.9 1577 294.3 1576 292.6 1575 289.0 1574 288.3 1573 287.3 1572 286.4 1571 286.4 1570 292.3 1569 292.9 1568 291.8 1567 293.0 1566 293.9 1565 296.4 1564 302.7 1563 294.8 1562 294.8 1561 292.3 1560 293.6 1559 294.2 1558 292.8 1557 294.4 1556 293.8 1555 294.6 1554 295.1 1553 295.0 1552 293.5 1551 291.9 1550 294.9 1549 294.4 1548 295.5 1547 295.2 1546 301.1 1545 297.2 1544 295.6 1543 296.0 1542 300.3 1541 299.9 1540 300.3 1539 301.7 1538 303.3 1537 301.9 1536 299.8 1535 296.4 1534 296.6 1533 296.3 1532 295.5 1531 295.1 1530 298.1 1529 299.1 1528 299.6 1527 302.1 1526 301.7 1525 301.6 1524 301.6 1523 310.1 1522 301.2 1521 305.0 1520 307.5 1519 305.9 1518 304.3 1517 306.3 1516 308.8 1515 309.9 1514 313.8 1513 306.4 1512 307.3 1511 308.2 1510 307.7 1509 309.6 1508 309.1 1507 304.3 1506 304.3 1505 308.5 1504 304.4 1503 304.5 1502 305.1 1501 311.7 1500 309.3 1499 306.6 1498 306.7 1497 303.8 1496 303.6 1495 301.9 1494 310.0 1493 310.1 1492 309.1 1491 306.1 1490 305.6 1489 307.9 1488 306.1 1487 306.6 1486 304.4 1485 303.1 1484 303.6 1483 307.9 1482 311.3 1481 309.3 1480 312.1 1479 319.2 1478 312.0 1477 313.9 1476 316.5 1475 315.5 1474 316.9 1473 315.1 1472 314.7 1471 317.6 1470 317.2 1469 319.5 1468 320.7 1467 320.3 1466 324.6 1465 328.4 1464 325.9 1463 327.6 1462 327.7 1461 328.7 1460 340.3 1459 330.6 1458 336.8 1457 335.5 1456 338.7 1455 343.1 1454 350.1 1453 343.5 1452 338.4 1451 340.6 1450 343.7 1449 343.9 1448 343.8 1447 344.0 1446 342.7 1445 340.7 1444 340.9 1443 342.4 1442 343.2 1441 343.7 1440 340.9 1439 338.0 1438 337.4 1437 336.9 1436 338.1 1435 341.3 1434 343.4 1433 345.6 1432 349.4 1431 351.1 1430 352.4 1429 358.9 1428 364.8 1427 364.8 1426 365.9 1425 370.4 1424 372.4 1423 371.0 1422 373.4 1421 372.7 1420 372.1 1419 371.2 1418 370.1 1417 372.3 1416 372.6 1415 372.7 1414 370.4 1413 368.9 1412 370.3 1411 362.1 1410 364.4 1409 372.7 1408 367.9 1407 366.2 1406 372.8 1405 372.2 1404 373.4 1403 369.1 1402 371.8 1401 372.6 1400 372.6 1399 374.6 1398 375.5 1397 373.9 1396 376.1 1395 376.4 1394 376.3 1393 374.9 1392 374.9 1391 375.8 1390 378.3 1389 379.5 1388 381.4 1387 386.2 1386 388.7 1385 388.1 1384 387.7 1383 384.7 1382 381.9 1381 382.1 1380 382.0 1379 378.9 1378 380.1 1377 376.0 1376 374.6 1375 375.4 1374 373.5 1373 372.0 1372 368.3 1371 367.1 1370 365.4 1369 363.3 1368 362.3 1367 366.3 1366 365.9 1365 364.1 1364 365.9 1363 367.8 1362 370.2 1361 371.4 1360 371.1 1359 374.2 1358 374.4 1357 378.6 1356 377.9 1355 381.2 1354 379.2 1353 382.5 1352 384.9 1351 385.7 1350 387.2 1349 387.8 1348 390.6 1347 392.5 1346 395.9 1345 399.8 1344 398.1 1343 404.4 1342 407.3 1341 406.6 1340 403.6 1339 400.3 1338 397.6 1337 395.9 1336 397.0 1335 398.1 1334 402.8 1333 414.0 1332 407.2 1331 406.9 1330 406.7 1329 404.5 1328 403.2 1327 405.0 1326 406.6 1325 406.6 1324 409.4 1323 411.6 1322 415.7 1321 415.3 1320 415.3 1319 415.7 1318 415.5 1317 414.2 1316 414.2 1315 416.0 1314 413.1 1313 413.6 1312 413.3 1311 413.1 1310 412.3 1309 417.5 1308 415.7 1307 414.5 1306 414.7 1305 424.2 1304 412.6 1303 409.6 1302 408.8 1301 407.3 1300 407.5 1299 404.6 1298 407.5 1297 406.2 1296 403.1 1295 405.6 1294 409.8 1293 412.9 1292 413.8 1291 407.9 1290 410.8 1289 416.0 1288 417.0 1287 416.5 1286 416.2 1285 416.4 1284 418.1 1283 417.8 1282 418.0 1281 421.0 1280 422.6 1279 416.5 1278 416.8 1277 417.1 1276 416.4 1275 415.3 1274 415.5 1273 417.9 1272 420.9 1271 422.6 1270 422.5 1269 423.4 1268 421.6 1267 419.9 1266 417.2 1265 413.8 1264 412.4 1263 406.7 1262 405.4 1261 408.8 1260 410.7 1259 407.5 1258 405.9 1257 403.1 1256 403.5 1255 404.6 1254 401.9 1253 400.1 1252 399.3 1251 394.7 1250 396.6 1249 399.2 1248 400.2 1247 404.8 1246 404.7 1245 404.9 1244 405.6 1243 402.1 1242 398.5 1241 400.7 1240 401.2 1239 402.4 1238 400.2 1237 401.5 1236 402.7 1235 403.2 1234 408.1 1233 405.0 1232 407.6 1231 410.4 1230 405.8 1229 403.8 1228 409.3 1227 411.7 1226 407.2 1225 407.9 1224 409.2 1223 408.5 1222 414.6 1221 414.4 1220 416.8 1219 420.8 1218 422.0 1217 424.7 1216 424.4 1215 425.6 1214 429.3 1213 431.7 1212 435.3 1211 431.4 1210 434.1 1209 435.9 1208 435.6 1207 436.1 1206 437.3 1205 437.5 1204 437.6 1203 434.9 1202 435.6 1201 437.5 1200 434.1 1199 437.9 1198 437.4 1197 437.7 1196 436.2 1195 435.7 1194 435.4 1193 431.0 1192 431.2 1191 434.8 1190 435.4 1189 434.4 1188 432.4 1187 432.1 1186 433.2 1185 433.4 1184 434.3 1183 432.2 1182 434.5 1181 440.4 1180 440.8 1179 441.2 1178 435.3 1177 439.6 1176 438.2 1175 435.3 1174 438.6 1173 438.5 1172 439.0 1171 436.9 1170 441.0 1169 439.1 1168 437.3 1167 439.1 1166 437.5 1165 443.7 1164 433.8 1163 436.6 1162 437.5 1161 434.5 1160 431.8 1159 432.8 1158 428.4 1157 428.8 1156 432.5 1155 429.7 1154 430.0 1153 427.1 1152 428.1 1151 430.9 1150 430.0 1149 429.2 1148 432.5 1147 431.5 1146 434.7 1145 435.7 1144 432.7 1143 431.2 1142 434.9 1141 430.8 1140 437.3 1139 430.4 1138 429.1 1137 427.7 1136 425.3 1135 424.7 1134 424.5 1133 429.5 1132 426.2 1131 426.2 1130 426.2 1129 425.8 1128 427.4 1127 427.6 1126 424.5 1125 416.8 1124 418.3 1123 418.4 1122 417.4 1121 418.8 1120 415.0 1119 414.6 1118 414.0 1117 415.9 1116 415.1 1115 416.7 1114 422.5 1113 417.2 1112 415.6 1111 417.7 1110 416.8 1109 425.2 1108 423.5 1107 425.5 1106 422.0 1105 419.8 1104 415.7 1103 419.4 1102 417.7 1101 420.5 1100 421.1 1099 419.2 1098 424.9 1097 430.6 1096 432.6 1095 430.7 1094 431.1 1093 431.4 1092 431.5 1091 440.4 1090 431.9 1089 436.9 1088 435.5 1087 437.4 1086 439.5 1085 436.3 1084 434.0 1083 434.4 1082 436.2 1081 436.8 1080 444.2 1079 437.6 1078 437.6 1077 438.9 1076 442.0 1075 441.1 1074 441.3 1073 438.0 1072 440.8 1071 438.6 1070 443.2 1069 443.2 1068 445.1 1067 437.4 1066 439.4 1065 440.3 1064 442.4 1063 442.3 1062 446.1 1061 444.6 1060 449.4 1059 453.9 1058 451.3 1057 451.3 1056 450.5 1055 452.5 1054 455.8 1053 454.8 1052 455.8 1051 457.7 1050 456.2 1049 462.3 1048 457.2 1047 460.8 1046 462.6 1045 463.5 1044 464.0 1043 468.3 1042 463.5 1041 464.1 1040 466.5 1039 470.3 1038 470.3 1037 472.9 1036 470.5 1035 470.0 1034 475.3 1033 476.5 1032 476.3 1031 479.7 1030 482.0 1029 485.3 1028 481.9 1027 484.8 1026 481.4 1025 478.9 1024 481.2 1023 478.3 1022 474.9 1021 478.0 1020 475.6 1019 476.4 1018 474.5 1017 473.9 1016 477.6 1015 473.7 1014 471.4 1013 467.1 1012 467.7 1011 469.3 1010 468.4 1009 471.0 1008 474.9 1007 480.2 1006 481.2 1005 483.2 1004 487.2 1003 495.9 1002 497.1 1001 498.3 1000 496.5 999 495.4 998 495.0 997 496.3 996 497.2 995 494.7 994 493.7 993 494.3 992 492.2 991 493.2 990 493.1 989 493.2 988 498.2 987 483.2 986 482.6 985 484.2 984 483.0 983 489.3 982 491.4 981 489.1 980 481.7 979 480.5 978 478.7 977 480.3 976 483.0 975 484.2 974 483.4 973 483.4 972 483.1 971 480.6 970 480.9 969 481.1 968 482.5 967 485.2 966 489.9 965 488.3 964 486.0 963 479.7 962 482.0 961 482.9 960 486.5 959 484.0 958 486.6 957 485.6 956 486.0 955 485.4 954 485.9 953 484.3 952 487.1 951 487.0 950 482.4 949 480.7 948 481.7 947 480.9 946 480.0 945 480.6 944 482.9 943 485.8 942 489.3 941 491.2 940 491.9 939 489.5 938 491.4 937 493.3 936 494.1 935 491.0 934 492.2 933 496.7 932 496.7 931 500.1 930 498.6 929 497.8 928 497.6 927 499.7 926 501.4 925 505.8 924 507.8 923 507.1 922 514.3 921 513.6 920 513.3 919 517.6 918 517.8 917 516.2 916 517.6 915 520.5 914 515.7 913 520.3 912 519.8 911 518.8 910 520.3 909 517.6 908 516.1 907 520.5 906 522.0 905 519.8 904 518.8 903 515.1 902 516.6 901 518.3 900 521.9 899 518.2 898 521.6 897 521.9 896 519.4 895 516.6 894 519.8 893 521.0 892 520.7 891 519.6 890 525.1 889 523.2 888 521.4 887 516.8 886 517.3 885 520.5 884 523.2 883 519.3 882 522.8 881 524.6 880 526.6 879 528.0 878 528.3 877 533.1 876 535.8 875 541.4 874 545.4 873 544.5 872 553.3 871 551.4 870 550.7 869 548.8 868 548.4 867 546.8 866 548.6 865 549.2 864 547.3 863 547.3 862 546.2 861 548.2 860 546.8 859 545.1 858 545.1 857 546.6 856 546.9 855 545.9 854 542.7 853 543.5 852 540.0 851 540.2 850 535.7 849 533.4 848 532.8 847 534.7 846 535.4 845 535.3 844 536.2 843 534.8 842 533.8 841 533.0 840 530.9 839 528.6 838 528.6 837 535.3 836 535.0 835 537.3 834 533.2 833 540.0 832 537.1 831 538.0 830 541.4 829 544.7 828 543.4 827 543.9 826 544.6 825 549.1 824 551.6 823 553.4 822 553.0 821 556.3 820 554.2 819 556.2 818 559.6 817 555.7 816 555.4 815 556.5 814 557.1 813 558.3 812 558.3 811 560.2 810 561.7 809 570.6 808 562.1 807 566.7 806 566.8 805 570.1 804 571.2 803 571.2 802 574.3 801 575.2 800 576.8 799 574.9 798 572.3 797 571.6 796 570.9 795 574.3 794 573.1 793 567.8 792 564.6 791 563.7 790 566.1 789 557.3 788 560.7 787 560.6 786 562.3 785 563.1 784 563.3 783 563.2 782 561.1 781 562.1 780 559.8 779 558.1 778 558.1 777 564.1 776 564.6 775 559.0 774 559.0 773 555.5 772 555.6 771 552.6 770 553.9 769 554.7 768 560.5 767 558.8 766 556.0 765 555.5 764 560.9 763 556.1 762 557.8 761 557.8 760 562.8 759 564.8 758 561.3 757 563.2 756 559.0 755 561.1 754 557.5 753 557.8 752 554.6 751 556.8 750 560.7 749 560.9 748 562.5 747 562.9 746 568.1 745 562.2 744 563.3 743 565.6 742 565.4 741 563.6 740 564.1 739 565.7 738 567.3 737 565.5 736 568.9 735 569.1 734 576.9 733 577.4 732 574.3 731 574.9 730 578.4 729 577.9 728 576.1 727 578.3 726 581.7 725 583.8 724 583.0 723 584.2 722 583.5 721 585.0 720 585.1 719 585.3 718 585.8 717 585.4 716 585.1 715 593.9 714 598.1 713 591.7 712 591.6 711 597.1 710 598.7 709 597.4 708 598.4 707 599.5 706 599.7 705 608.8 704 601.0 703 604.0 702 605.1 701 604.4 700 606.7 699 609.1 698 613.4 697 611.3 696 606.1 695 613.4 694 613.0 693 613.1 692 608.3 691 612.2 690 611.0 689 608.5 688 606.9 687 611.6 686 612.0 685 608.9 684 612.2 683 614.9 682 615.0 681 615.2 680 617.2 679 617.4 678 616.1 677 620.8 676 623.2 675 622.6 674 625.1 673 622.7 672 620.9 671 622.4 670 625.0 669 627.9 668 629.5 667 631.8 666 631.8 665 636.3 664 637.3 663 638.8 662 653.2 661 641.4 660 644.0 659 646.2 658 644.2 657 644.3 656 644.5 655 646.7 654 646.5 653 651.9 652 652.2 651 653.9 650 653.0 649 654.2 648 654.7 647 655.5 646 659.2 645 658.2 644 653.5 643 656.9 642 656.7 641 656.4 640 669.8 639 659.2 638 660.8 637 661.8 636 665.6 635 667.0 634 665.6 633 670.0 632 673.1 631 675.5 630 673.9 629 682.2 628 683.0 627 680.9 626 684.1 625 684.1 624 687.9 623 691.2 622 693.2 621 693.3 620 695.0 619 697.4 618 702.1 617 704.3 616 706.1 615 705.9 614 706.6 613 712.0 612 714.9 611 714.8 610 718.4 609 719.5 608 725.1 607 728.9 606 731.8 605 734.8 604 737.0 603 739.4 602 741.9 601 746.5 600 745.5 599 745.0 598 745.6 597 743.9 596 747.0 595 748.9 594 750.1 593 749.7 592 750.5 591 752.6 590 757.7 589 760.3 588 762.2 587 764.8 586 768.2 585 772.5 584 775.7 583 784.6 582 787.6 581 791.0 580 792.2 579 792.9 578 791.0 577 789.9 576 794.8 575 792.0 574 789.9 573 792.0 572 793.7 571 791.7 570 793.0 569 791.8 568 797.5 567 790.9 566 790.6 565 793.8 564 803.3 563 797.1 562 798.0 561 801.1 560 805.6 559 809.6 558 809.2 557 818.9 556 811.9 555 814.7 554 812.3 553 813.4 552 812.7 551 817.7 550 820.3 549 828.5 548 827.9 547 832.7 546 830.7 545 833.6 544 836.9 543 848.6 542 842.0 541 845.3 540 848.3 539 851.2 538 855.8 537 860.9 536 861.8 535 864.2 534 869.5 533 877.7 532 875.9 531 877.3 530 883.4 529 887.5 528 892.2 527 902.3 526 903.8 525 904.8 524 910.1 523 911.1 522 916.5 521 921.0 520 923.2 519 927.0 518 936.9 517 936.9 516 938.6 515 940.8 514 947.9 513 949.4 512 947.3 511 950.5 510 951.9 509 953.0 508 956.6 507 960.4 506 962.1 505 962.1 504 965.5 503 966.5 502 972.3 501 970.9 500 983.5 499 985.3 498 980.7 497 986.2 496 987.7 495 992.9 494 995.1 493 994.4 492 994.9 491 1005.5 490 1007.6 489 1003.6 488 1011.1 487 1019.9 486 1026.5 485 1035.1 484 1037.0 483 1042.9 482 1057.9 481 1056.8 480 1063.3 479 1066.4 478 1069.5 477 1072.5 476 1074.7 475 1076.9 474 1080.2 473 1083.3 472 1084.0 471 1086.0 470 1095.0 469 1097.0 468 1103.5 467 1101.5 466 1107.1 465 1113.3 464 1115.7 463 1118.8 462 1123.6 461 1126.5 460 1131.2 459 1135.2 458 1138.4 457 1144.6 456 1149.7 455 1153.8 454 1159.2 453 1166.2 452 1173.4 451 1182.3 450 1190.1 449 1196.8 448 1203.7 447 1209.4 446 1215.0 445 1219.1 444 1219.2 443 1219.7Z"/><path fill="none" stroke-width="3.5" stroke-linejoin="round" d="M443 1216.8 444 1216.2 445 1214.1 446 1210.0 447 1205.3 448 1199.5 449 1192.7 450 1184.7 451 1176.9 452 1167.9 453 1161.1 454 1154.0 455 1148.6 456 1143.3 457 1138.2 458 1134.2 459 1131.0 460 1127.0 461 1123.1 462 1120.2 463 1115.5 464 1110.1 465 1107.5 466 1103.3 467 1097.6 468 1093.8 469 1090.6 470 1086.2 471 1081.5 472 1079.5 473 1078.7 474 1075.4 475 1071.1 476 1068.7 477 1066.3 478 1061.8 479 1058.5 480 1055.4 481 1049.2 482 1041.6 483 1036.1 484 1030.1 485 1025.7 486 1017.1 487 1010.5 488 1004.2 489 997.2 490 994.2 491 992.1 492 987.7 493 987.2 494 985.4 495 983.1 496 980.6 497 979.1 498 973.6 499 972.0 500 970.3 501 964.3 502 962.7 503 959.8 504 958.8 505 955.5 506 953.1 507 951.4 508 947.6 509 946.6 510 944.2 511 942.8 512 939.6 513 939.3 514 937.7 515 934.6 516 932.5 517 930.7 518 929.0 519 920.5 520 916.7 521 912.5 522 908.0 523 902.6 524 902.0 525 896.6 526 894.5 527 892.9 528 885.6 529 880.8 530 874.4 531 871.1 532 869.7 533 868.6 534 860.4 535 855.2 536 852.8 537 851.9 538 848.9 539 844.2 540 841.7 541 838.7 542 835.5 543 831.4 544 829.5 545 827.4 546 824.4 547 821.3 548 816.5 549 813.5 550 813.6 551 810.9 552 806.3 553 807.0 554 805.9 555 807.3 556 804.5 557 801.0 558 796.1 559 796.5 560 798.5 561 794.0 562 790.2 563 789.3 564 786.2 565 784.8 566 783.8 567 784.2 568 786.0 569 785.6 570 786.7 571 785.4 572 785.5 573 781.5 574 779.3 575 781.4 576 780.7 577 782.1 578 782.8 579 784.0 580 783.3 581 782.2 582 778.4 583 773.5 584 769.0 585 765.2 586 760.4 587 757.0 588 754.6 589 753.0 590 750.3 591 745.2 592 744.1 593 743.2 594 743.7 595 742.7 596 739.5 597 736.4 598 738.1 599 737.0 600 737.6 601 738.0 602 733.0 603 730.4 604 728.1 605 725.8 606 723.5 607 720.6 608 717.7 609 712.2 610 709.5 611 705.9 612 704.1 613 701.2 614 700.4 615 699.6 616 697.9 617 696.1 618 693.9 619 690.8 620 688.4 621 685.6 622 684.4 623 682.4 624 681.4 625 677.0 626 676.9 627 673.8 628 671.0 629 669.3 630 667.1 631 666.4 632 664.0 633 660.9 634 658.4 635 659.8 636 658.4 637 654.9 638 653.9 639 650.3 640 653.0"/></g></g><g clip-path="url(#fillclip)"><g stroke="#9a9a9a" opacity="0.08" stroke-width="1.6" fill="none"><line x1="572.5" y1="152.2" x2="572.5" y2="1219.7" stroke-dasharray="5 4.6"/><line x1="705.0" y1="152.2" x2="705.0" y2="1219.7" stroke-dasharray="6.5 6.5"/><line x1="837.5" y1="152.2" x2="837.5" y2="1219.7" stroke-dasharray="5 4.6"/><line x1="970.0" y1="152.2" x2="970.0" y2="1219.7" stroke-dasharray="6.5 6.5"/><line x1="1102.5" y1="152.2" x2="1102.5" y2="1219.7" stroke-dasharray="5 4.6"/><line x1="1235.0" y1="152.2" x2="1235.0" y2="1219.7" stroke-dasharray="6.5 6.5"/><line x1="1367.5" y1="152.2" x2="1367.5" y2="1219.7" stroke-dasharray="5 4.6"/><line x1="1500.0" y1="152.2" x2="1500.0" y2="1219.7" stroke-dasharray="6.5 6.5"/><line x1="1632.5" y1="152.2" x2="1632.5" y2="1219.7" stroke-dasharray="5 4.6"/><line x1="440.0" y1="270.8" x2="1765.0" y2="270.8" stroke-dasharray="5 4.6"/><line x1="440.0" y1="389.4" x2="1765.0" y2="389.4" stroke-dasharray="6.5 6.5"/><line x1="440.0" y1="508.0" x2="1765.0" y2="508.0" stroke-dasharray="5 4.6"/><line x1="440.0" y1="626.6" x2="1765.0" y2="626.6" stroke-dasharray="6.5 6.5"/><line x1="440.0" y1="745.3" x2="1765.0" y2="745.3" stroke-dasharray="5 4.6"/><line x1="440.0" y1="863.9" x2="1765.0" y2="863.9" stroke-dasharray="6.5 6.5"/><line x1="440.0" y1="982.5" x2="1765.0" y2="982.5" stroke-dasharray="5 4.6"/><line x1="440.0" y1="1101.1" x2="1765.0" y2="1101.1" stroke-dasharray="6.5 6.5"/></g></g><g stroke="#000" fill="none" stroke-linecap="square"><path d="M440.0 152.2 H1765.0 V1219.7 H440.0 Z" stroke-width="7.5" stroke-linejoin="miter"/></g><g fill="#000"><rect x="440.0" y="147.2" width="21.0" height="10"/><rect x="440.0" y="384.4" width="21.0" height="10"/><rect x="440.0" y="621.6" width="21.0" height="10"/><rect x="440.0" y="858.9" width="21.0" height="10"/><rect x="440.0" y="1096.1" width="21.0" height="10"/><rect x="440.0" y="267.3" width="10.0" height="7"/><rect x="440.0" y="504.5" width="10.0" height="7"/><rect x="440.0" y="741.8" width="10.0" height="7"/><rect x="440.0" y="979.0" width="10.0" height="7"/><rect x="440.0" y="1216.2" width="10.0" height="7"/><rect x="435.5" y="1198.7" width="9" height="21.0"/><rect x="700.5" y="1198.7" width="9" height="21.0"/><rect x="965.5" y="1198.7" width="9" height="21.0"/><rect x="1230.5" y="1198.7" width="9" height="21.0"/><rect x="1495.5" y="1198.7" width="9" height="21.0"/><rect x="1760.5" y="1198.7" width="9" height="21.0"/><rect x="569.0" y="1208.7" width="7" height="11.0"/><rect x="834.0" y="1208.7" width="7" height="11.0"/><rect x="1099.0" y="1208.7" width="7" height="11.0"/><rect x="1364.0" y="1208.7" width="7" height="11.0"/><rect x="1629.0" y="1208.7" width="7" height="11.0"/></g><text transform="translate(158.6 0) scale(1.06 1)" x="0" y="180.8" font-size="80.5" letter-spacing="-2.5">100,000</text><text x="123.2" y="180.5" font-size="68">−</text><text transform="translate(159.0 0) scale(1.06 1)" x="0" y="415.8" font-size="80.5" letter-spacing="-2.5">120,000</text><text x="125.0" y="414.7" font-size="68">−</text><text transform="translate(162.3 0) scale(1.06 1)" x="0" y="651.3" font-size="80.5" letter-spacing="-2.5">140,000</text><text x="130.1" y="650.3" font-size="68">−</text><text transform="translate(162.9 0) scale(1.06 1)" x="0" y="886.3" font-size="80.5" letter-spacing="-2.5">160,000</text><text x="133.2" y="886.3" font-size="68">−</text><text transform="translate(165.6 0) scale(1.06 1)" x="0" y="1127.7" font-size="80.5" letter-spacing="-2.5">180,000</text><text x="135.1" y="1128.7" font-size="68">−</text><text x="440.0" y="1301.3" font-size="77" text-anchor="middle">0</text><text x="705.0" y="1301.3" font-size="77" text-anchor="middle">200</text><text x="970.0" y="1301.3" font-size="77" text-anchor="middle">400</text><text x="1235.0" y="1301.3" font-size="77" text-anchor="middle">600</text><text x="1500.0" y="1301.3" font-size="77" text-anchor="middle">800</text><text x="1765.0" y="1301.3" font-size="77" text-anchor="middle">1000</text><text x="854" y="1411.3" font-size="76.5">Temperature (K)</text><text transform="translate(82.7 1142.5) rotate(-90)" font-size="83.5">potential energy<tspan font-size="72" font-weight="300" dy="-3.7">（</tspan><tspan dy="3.7" dx="9.3">kcal/mol</tspan><tspan font-size="72" font-weight="300" dy="-3.7" dx="7.7">）</tspan></text><rect x="525.8" y="38" width="1114.2" height="182" fill="#000"/><rect x="509.7" y="22.4" width="1114.8" height="183" fill="#fff" stroke="#000" stroke-width="4.5"/><defs><linearGradient id="l_orange" x1="0" y1="0" x2="0" y2="1"><stop offset="0.00" stop-color="#f2a950"/><stop offset="0.45" stop-color="#f4c48e"/><stop offset="1.00" stop-color="#f5e3b7"/></linearGradient><linearGradient id="l_cyan" x1="0" y1="0" x2="0" y2="1"><stop offset="0.00" stop-color="#84d6d9"/><stop offset="0.30" stop-color="#a4e0e2"/><stop offset="0.70" stop-color="#dff3f4"/><stop offset="1.00" stop-color="#ffffff"/></linearGradient><linearGradient id="l_green" x1="0" y1="0" x2="0" y2="1"><stop offset="0.00" stop-color="#b2ef6a"/><stop offset="0.30" stop-color="#d6f9bd"/><stop offset="0.70" stop-color="#f3faee"/><stop offset="1.00" stop-color="#ffffff"/></linearGradient><linearGradient id="l_blue" x1="0" y1="0" x2="0" y2="1"><stop offset="0.00" stop-color="#6ea6f6"/><stop offset="0.30" stop-color="#a2bdf5"/><stop offset="0.65" stop-color="#dfe6f8"/><stop offset="1.00" stop-color="#ffffff"/></linearGradient><linearGradient id="l_pink" x1="0" y1="0" x2="0" y2="1"><stop offset="0.00" stop-color="#e673b3"/><stop offset="0.30" stop-color="#ee9cc6"/><stop offset="0.70" stop-color="#f6dcea"/><stop offset="1.00" stop-color="#ffffff"/></linearGradient><linearGradient id="l_purple" x1="0" y1="0" x2="0" y2="1"><stop offset="0.00" stop-color="#c27cf5"/><stop offset="0.35" stop-color="#d2a6f3"/><stop offset="0.75" stop-color="#f0e4f8"/><stop offset="1.00" stop-color="#ffffff"/></linearGradient></defs><rect x="519.4" y="33.3" width="153.8" height="78.5" fill="url(#l_orange)" stroke="#f5b46a" stroke-width="1.3"/><text x="684.6" y="96.3" font-size="67">1600K</text><rect x="880.4" y="34.4" width="154.3" height="77.4" fill="url(#l_cyan)" stroke="#6fc9cf" stroke-width="1.3"/><text x="1046.8" y="96.3" font-size="67">1800K</text><rect x="1246.7" y="31.2" width="154.5" height="82.8" fill="url(#l_green)" stroke="#b9ee86" stroke-width="1.3"/><text x="1410.3" y="96.0" font-size="67">2000K</text><rect x="521.5" y="119.8" width="152.8" height="78.1" fill="url(#l_blue)" stroke="#8fc0f6" stroke-width="1.3"/><text x="685.9" y="178.5" font-size="67">2200K</text><rect x="878.9" y="119.4" width="157.1" height="77.0" fill="url(#l_pink)" stroke="#f3a6d0" stroke-width="1.3"/><text x="1047.9" y="178.5" font-size="67">2400K</text><rect x="1245.3" y="124.9" width="157.0" height="73.5" fill="url(#l_purple)" stroke="#e0c0f8" stroke-width="1.3"/><text x="1410.3" y="178.1" font-size="67">2600K</text></svg></body></html>
